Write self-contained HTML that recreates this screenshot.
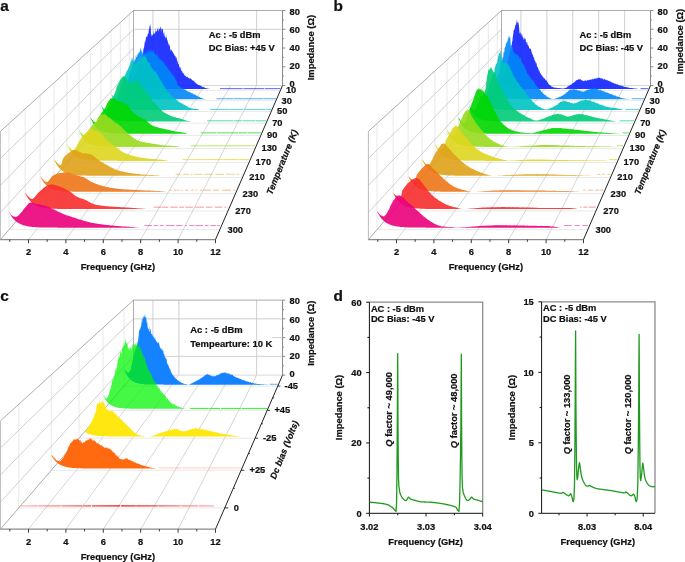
<!DOCTYPE html>
<html><head><meta charset="utf-8"><style>
html,body{margin:0;padding:0;background:#fff;overflow:hidden;}
svg{display:block;will-change:transform;}
text{font-family:"Liberation Sans",sans-serif;fill:#111;stroke:#111;stroke-width:0.22px;}
</style></head><body>
<svg width="685" height="562" viewBox="0 0 685 562">
<rect width="685" height="562" fill="#fff"/>
<line x1="129.25" y1="90.42" x2="280.40" y2="90.42" stroke="#e9e9e9" stroke-width="1.0" />
<line x1="120.37" y1="100.70" x2="275.93" y2="100.70" stroke="#e9e9e9" stroke-width="1.0" />
<line x1="110.97" y1="111.59" x2="271.19" y2="111.59" stroke="#e9e9e9" stroke-width="1.0" />
<line x1="100.98" y1="123.15" x2="266.15" y2="123.15" stroke="#e9e9e9" stroke-width="1.0" />
<line x1="90.35" y1="135.45" x2="260.80" y2="135.45" stroke="#e9e9e9" stroke-width="1.0" />
<line x1="79.03" y1="148.57" x2="255.09" y2="148.57" stroke="#e9e9e9" stroke-width="1.0" />
<line x1="66.93" y1="162.58" x2="249.00" y2="162.58" stroke="#e9e9e9" stroke-width="1.0" />
<line x1="53.97" y1="177.57" x2="242.47" y2="177.57" stroke="#e9e9e9" stroke-width="1.0" />
<line x1="40.07" y1="193.67" x2="235.47" y2="193.67" stroke="#e9e9e9" stroke-width="1.0" />
<line x1="25.12" y1="210.99" x2="227.93" y2="210.99" stroke="#e9e9e9" stroke-width="1.0" />
<line x1="8.98" y1="229.67" x2="219.80" y2="229.67" stroke="#e9e9e9" stroke-width="1.0" />
<line x1="129.25" y1="90.42" x2="129.25" y2="14.36" stroke="#e9e9e9" stroke-width="1.0" />
<line x1="120.37" y1="100.70" x2="120.37" y2="22.42" stroke="#e9e9e9" stroke-width="1.0" />
<line x1="110.97" y1="111.59" x2="110.97" y2="30.96" stroke="#e9e9e9" stroke-width="1.0" />
<line x1="100.98" y1="123.15" x2="100.98" y2="40.03" stroke="#e9e9e9" stroke-width="1.0" />
<line x1="90.35" y1="135.45" x2="90.35" y2="49.68" stroke="#e9e9e9" stroke-width="1.0" />
<line x1="79.03" y1="148.57" x2="79.03" y2="59.97" stroke="#e9e9e9" stroke-width="1.0" />
<line x1="66.93" y1="162.58" x2="66.93" y2="70.96" stroke="#e9e9e9" stroke-width="1.0" />
<line x1="53.97" y1="177.57" x2="53.97" y2="82.72" stroke="#e9e9e9" stroke-width="1.0" />
<line x1="40.07" y1="193.67" x2="40.07" y2="95.34" stroke="#e9e9e9" stroke-width="1.0" />
<line x1="25.12" y1="210.99" x2="25.12" y2="108.93" stroke="#e9e9e9" stroke-width="1.0" />
<line x1="8.98" y1="229.67" x2="8.98" y2="123.58" stroke="#e9e9e9" stroke-width="1.0" />
<line x1="152.94" y1="85.50" x2="28.47" y2="239.58" stroke="#c4c4c4" stroke-width="0.7" />
<line x1="178.86" y1="85.50" x2="65.88" y2="239.58" stroke="#c4c4c4" stroke-width="0.7" />
<line x1="204.78" y1="85.50" x2="103.28" y2="239.58" stroke="#c4c4c4" stroke-width="0.7" />
<line x1="230.70" y1="85.50" x2="140.68" y2="239.58" stroke="#c4c4c4" stroke-width="0.7" />
<line x1="256.62" y1="85.50" x2="178.08" y2="239.58" stroke="#c4c4c4" stroke-width="0.7" />
<line x1="133.50" y1="66.75" x2="0.42" y2="212.52" stroke="#c4c4c4" stroke-width="0.8" />
<line x1="133.50" y1="48.00" x2="0.42" y2="185.46" stroke="#c4c4c4" stroke-width="0.8" />
<line x1="133.50" y1="29.25" x2="0.42" y2="158.41" stroke="#c4c4c4" stroke-width="0.8" />
<line x1="152.94" y1="85.50" x2="152.94" y2="10.50" stroke="#c4c4c4" stroke-width="0.8" />
<line x1="178.86" y1="85.50" x2="178.86" y2="10.50" stroke="#c4c4c4" stroke-width="0.8" />
<line x1="256.62" y1="85.50" x2="256.62" y2="10.50" stroke="#c4c4c4" stroke-width="0.8" />
<line x1="133.50" y1="29.25" x2="282.54" y2="29.25" stroke="#c4c4c4" stroke-width="0.8" />
<line x1="133.50" y1="85.50" x2="282.54" y2="85.50" stroke="#d4d4d4" stroke-width="0.9" />
<line x1="133.50" y1="10.50" x2="0.42" y2="131.35" stroke="#a4a4a4" stroke-width="0.9" />
<line x1="133.50" y1="10.50" x2="282.54" y2="10.50" stroke="#a4a4a4" stroke-width="0.9" />
<line x1="133.50" y1="85.50" x2="133.50" y2="10.50" stroke="#a4a4a4" stroke-width="0.9" />
<line x1="0.42" y1="239.58" x2="0.42" y2="131.35" stroke="#b4b4b4" stroke-width="0.9" />
<line x1="133.50" y1="85.50" x2="0.42" y2="239.58" stroke="#a4a4a4" stroke-width="0.9" />
<path d="M129.2,73.3 L129.4,73.6 L129.5,73.5 L129.7,74.3 L129.9,73.3 L130.1,73.6 L130.3,74.2 L130.6,75.3 L130.8,75.1 L131.1,75.7 L131.4,76.0 L131.6,75.0 L131.9,75.1 L132.2,77.0 L132.5,76.0 L132.7,76.7 L133.0,77.3 L133.3,77.5 L133.6,77.0 L133.8,77.4 L134.1,77.0 L134.3,77.0 L134.5,77.6 L134.8,76.4 L135.1,75.5 L135.3,75.1 L135.6,75.4 L135.8,75.5 L136.1,74.9 L136.3,74.2 L136.6,71.8 L136.8,72.5 L137.0,71.6 L137.3,69.4 L137.5,70.1 L137.7,68.8 L138.0,68.3 L138.2,68.2 L138.4,66.5 L138.7,65.0 L139.0,66.2 L139.2,65.4 L139.5,64.3 L139.8,64.3 L140.0,62.8 L140.3,60.9 L140.6,60.9 L140.8,60.6 L141.1,58.7 L141.4,60.3 L141.6,58.5 L141.8,58.5 L142.0,57.2 L142.2,57.9 L142.4,55.2 L142.8,55.8 L143.1,54.1 L143.3,50.2 L143.5,47.9 L143.7,49.1 L143.9,47.6 L144.2,46.7 L144.4,45.1 L144.7,42.1 L145.0,42.5 L145.2,42.0 L145.4,40.2 L145.6,40.7 L145.9,38.0 L146.1,36.2 L146.4,36.0 L146.6,37.2 L146.9,37.3 L147.2,36.3 L147.4,37.0 L147.6,33.2 L147.9,34.7 L148.1,33.8 L148.4,33.7 L148.7,31.2 L148.9,29.3 L149.2,29.5 L149.4,25.1 L149.7,25.9 L149.9,27.9 L150.1,26.0 L150.3,22.8 L150.6,26.9 L150.8,28.5 L151.0,33.6 L151.3,34.2 L151.6,35.8 L151.8,36.2 L152.0,36.1 L152.1,35.0 L152.3,35.0 L152.6,34.9 L152.8,35.9 L153.0,34.2 L153.3,30.0 L153.6,33.4 L153.9,34.3 L154.2,34.1 L154.4,31.9 L154.6,33.8 L154.8,33.6 L155.1,33.4 L155.3,31.8 L155.6,27.7 L155.8,31.4 L156.1,31.4 L156.4,31.4 L156.7,30.9 L156.9,31.1 L157.2,29.2 L157.5,27.7 L157.7,29.2 L158.0,30.9 L158.3,29.3 L158.5,27.2 L158.7,31.8 L158.9,31.4 L159.1,29.2 L159.3,28.7 L159.5,28.9 L160.0,29.1 L160.2,27.0 L160.3,29.5 L160.4,27.3 L160.8,26.3 L161.0,30.4 L161.2,27.7 L161.4,29.0 L161.6,28.0 L161.9,32.9 L162.1,28.4 L162.4,30.0 L162.7,28.7 L163.0,28.9 L163.2,34.0 L163.5,32.2 L163.8,35.2 L164.0,33.4 L164.3,31.4 L164.5,36.1 L164.7,35.8 L165.0,37.2 L165.3,37.3 L165.5,37.7 L165.8,38.5 L166.0,33.9 L166.2,35.3 L166.5,38.5 L166.7,37.3 L166.9,38.1 L167.1,39.7 L167.4,40.7 L167.6,40.1 L167.8,41.3 L168.0,43.3 L168.3,43.6 L168.5,43.0 L168.7,43.8 L168.9,46.2 L169.2,45.3 L169.4,44.5 L169.7,45.2 L170.0,47.1 L170.2,49.6 L170.4,49.0 L170.7,50.3 L170.9,50.7 L171.1,50.7 L171.4,50.3 L171.6,49.3 L171.9,50.3 L172.1,52.0 L172.4,50.7 L172.7,51.9 L172.9,52.3 L173.2,53.5 L173.4,53.3 L173.7,54.1 L173.9,53.0 L174.2,54.5 L174.4,55.1 L174.7,55.5 L174.9,56.0 L175.2,55.8 L175.4,56.2 L175.7,56.4 L175.9,58.5 L176.2,57.5 L176.4,57.3 L176.6,57.8 L176.9,59.6 L177.1,61.9 L177.4,60.2 L177.6,60.8 L177.9,63.5 L178.1,63.6 L178.4,64.2 L178.6,63.5 L178.9,64.5 L179.1,66.0 L179.4,66.7 L179.6,67.3 L179.9,67.9 L180.1,66.9 L180.3,67.0 L180.6,69.4 L180.8,68.7 L181.1,68.6 L181.3,71.0 L181.6,70.7 L181.8,71.4 L182.1,70.5 L182.3,71.2 L182.5,73.1 L182.7,73.3 L183.0,72.3 L183.2,73.3 L183.4,73.8 L183.6,73.4 L183.9,73.8 L184.1,73.6 L184.3,75.2 L184.6,75.7 L184.9,75.1 L185.1,76.2 L185.4,75.9 L185.8,75.5 L186.0,76.6 L186.2,76.4 L186.4,77.1 L186.6,77.3 L186.8,76.8 L187.1,76.4 L187.3,76.3 L187.6,77.9 L187.8,76.7 L188.1,77.7 L188.3,78.1 L188.6,78.1 L188.8,78.0 L189.1,78.5 L189.4,78.8 L189.6,77.8 L189.9,78.3 L190.1,78.6 L190.4,78.5 L190.7,78.1 L190.9,79.5 L191.2,78.8 L191.4,78.9 L191.7,79.8 L191.9,79.7 L192.1,79.9 L192.3,80.4 L192.6,80.3 L192.9,80.8 L193.1,79.9 L193.3,81.1 L193.6,80.8 L193.8,81.1 L194.0,80.6 L194.2,81.1 L194.5,81.9 L194.7,82.1 L194.9,82.5 L195.1,82.7 L195.3,82.7 L195.5,82.1 L195.8,83.3 L196.0,83.4 L196.2,83.2 L196.5,83.7 L196.8,84.0 L197.0,83.4 L197.3,84.4 L197.6,84.2 L197.8,84.5 L198.0,84.7 L198.2,84.9 L198.4,85.0 L198.7,85.0 L198.9,84.8 L199.1,85.2 L199.4,85.0 L199.6,85.0 L199.9,85.8 L200.1,85.3 L200.4,85.7 L200.6,86.0 L200.9,86.1 L201.1,85.8 L201.4,86.4 L201.7,86.7 L201.9,86.1 L202.2,86.9 L202.4,87.0 L202.7,86.7 L202.9,87.2 L203.2,87.3 L203.4,87.1 L203.7,87.0 L203.9,87.6 L204.2,87.2 L204.4,87.6 L204.6,87.7 L204.9,87.8 L205.1,88.1 L205.3,88.2 L205.5,88.0 L205.8,88.1 L206.1,88.2 L206.4,88.3 L206.7,88.4 L207.0,88.5 L207.2,88.5 L207.5,88.6 L207.8,88.6 L208.1,88.7 L208.3,88.7 L208.6,88.8 L208.9,88.8 L209.1,88.8 L209.3,88.8 L209.5,88.9 L209.8,88.9 L210.0,88.9 L210.1,88.9 L210.3,88.9 L210.5,89.0 L210.6,89.0 L210.7,89.0 L210.7,89.0 L210.7,89.0 L210.2,89.0 L209.7,89.0 L209.2,89.0 L208.6,89.0 L208.1,89.0 L207.6,89.0 L207.1,89.0 L206.5,89.0 L206.0,89.0 L205.5,89.0 L205.0,89.0 L204.4,89.0 L203.9,89.0 L203.4,89.0 L202.9,89.0 L202.3,89.0 L201.8,89.0 L201.3,89.0 L200.7,89.0 L200.2,89.0 L199.7,89.0 L199.2,89.0 L198.6,89.0 L198.1,89.0 L197.6,89.0 L197.1,89.0 L196.5,89.0 L196.0,89.0 L195.5,89.0 L195.0,89.0 L194.4,89.0 L193.9,89.0 L193.4,89.0 L192.9,89.0 L192.3,89.0 L191.8,89.0 L191.3,89.0 L190.8,89.0 L190.2,89.0 L189.7,89.0 L189.2,89.0 L188.7,89.0 L188.1,89.0 L187.6,89.0 L187.1,89.0 L186.6,89.0 L186.0,89.0 L185.5,89.0 L185.0,89.0 L184.5,89.0 L183.9,89.0 L183.4,89.0 L182.9,89.0 L182.3,89.0 L181.8,89.0 L181.3,89.0 L180.8,89.0 L180.2,89.0 L179.7,89.0 L179.2,89.0 L178.7,89.0 L178.1,89.0 L177.6,89.0 L177.1,89.0 L176.6,89.0 L176.0,89.0 L175.5,89.0 L175.0,89.0 L174.5,89.0 L173.9,89.0 L173.4,89.0 L172.9,89.0 L172.4,89.0 L171.8,89.0 L171.3,89.0 L170.8,89.0 L170.3,89.0 L169.7,89.0 L169.2,89.0 L168.7,89.0 L168.2,89.0 L167.6,89.0 L167.1,89.0 L166.6,89.0 L166.1,89.0 L165.5,89.0 L165.0,89.0 L164.5,89.0 L163.9,89.0 L163.4,89.0 L162.9,89.0 L162.4,89.0 L161.8,89.0 L161.3,88.9 L160.8,88.9 L160.3,88.9 L159.7,88.9 L159.2,88.9 L158.7,88.9 L158.2,88.9 L157.6,88.9 L157.1,88.9 L156.6,88.9 L156.1,88.9 L155.5,88.9 L155.0,88.8 L154.5,88.8 L154.0,88.8 L153.4,88.8 L152.9,88.8 L152.4,88.8 L151.9,88.7 L151.3,88.7 L150.8,88.7 L150.3,88.6 L149.8,88.6 L149.2,88.6 L148.7,88.5 L148.2,88.5 L147.6,88.4 L147.1,88.4 L146.6,88.3 L146.1,88.3 L145.5,88.2 L145.0,88.1 L144.5,88.0 L144.0,87.9 L143.4,87.8 L142.9,87.7 L142.4,87.5 L141.9,87.4 L141.3,87.2 L140.8,87.1 L140.3,86.9 L139.8,86.7 L139.2,86.4 L138.7,86.2 L138.2,85.9 L137.7,85.6 L137.1,85.2 L136.6,84.9 L136.1,84.4 L135.6,84.0 L135.0,83.5 L134.5,82.9 L134.0,82.3 L133.5,81.7 L132.9,80.9 L132.4,80.1 L131.9,79.3 L131.4,78.3 L130.8,77.2 L130.3,76.0 L129.8,74.7 L129.2,73.3 Z" fill="#0f23ff" fill-opacity="0.9"/>
<path d="M219.94,88.62 L280.40,88.62" stroke="#0f23ff" stroke-width="0.9" stroke-opacity="0.75" fill="none" stroke-dasharray="22.7 0.7 20.8 0.6 26.1 0.4 14.2 0.7 11.4 0.7 15.9 0.8 14.0 0.8 28.5 0.5 13.7 0.3 14.2 0.5 19.5 0.9 14.5 0.7 15.8 0.5 13.1 0.8 29.3 0.4 23.8 0.7"/>
<path d="M120.4,83.3 L120.5,83.2 L120.7,82.4 L120.8,83.7 L121.0,83.9 L121.3,84.0 L121.5,84.9 L121.7,84.7 L122.0,84.8 L122.3,84.7 L122.5,86.2 L122.8,86.3 L123.1,86.8 L123.4,85.9 L123.7,86.4 L124.0,87.5 L124.3,86.2 L124.5,86.3 L124.8,87.1 L125.1,87.2 L125.3,87.8 L125.6,87.8 L125.8,87.0 L126.1,87.2 L126.3,86.7 L126.6,86.0 L126.9,85.5 L127.1,84.2 L127.3,83.4 L127.6,81.5 L127.8,81.4 L128.0,80.1 L128.3,79.4 L128.5,77.9 L128.8,77.4 L129.0,76.8 L129.3,73.5 L129.6,72.5 L129.8,72.2 L130.1,72.1 L130.3,72.6 L130.5,72.1 L130.8,71.3 L131.0,71.0 L131.3,68.2 L131.6,68.8 L131.8,66.3 L132.1,67.4 L132.4,64.2 L132.6,64.0 L132.9,66.0 L133.2,65.1 L133.4,61.5 L133.7,62.9 L133.9,59.7 L134.2,61.9 L134.4,62.1 L134.6,59.7 L134.9,58.4 L135.1,60.1 L135.3,60.1 L135.6,58.7 L135.9,54.7 L136.2,55.4 L136.4,57.6 L136.7,56.9 L136.9,56.9 L137.1,56.7 L137.3,53.3 L137.5,55.9 L137.7,54.0 L138.0,54.2 L138.2,54.7 L138.5,51.8 L138.7,54.0 L138.9,51.4 L139.2,53.1 L139.4,51.7 L139.7,52.1 L139.9,51.6 L140.2,47.3 L140.4,48.3 L140.7,51.0 L140.9,47.7 L141.1,51.5 L141.3,51.1 L141.5,48.7 L141.7,50.5 L142.0,53.2 L142.2,49.1 L142.4,53.7 L142.7,53.9 L143.0,51.6 L143.4,54.0 L143.6,54.2 L143.8,54.8 L144.0,54.8 L144.2,52.9 L144.4,54.3 L144.7,52.7 L144.9,53.8 L145.2,53.4 L145.5,50.3 L145.7,53.1 L146.0,52.5 L146.3,50.6 L146.5,54.0 L146.8,53.9 L147.1,50.1 L147.3,50.6 L147.6,53.4 L147.8,53.5 L148.1,50.9 L148.3,49.4 L148.6,53.3 L148.8,49.2 L149.1,49.6 L149.3,51.3 L149.6,52.1 L149.8,53.0 L150.1,52.9 L150.3,48.3 L150.5,52.2 L150.7,49.8 L150.9,51.9 L151.2,48.8 L151.4,50.2 L151.7,51.6 L151.9,52.0 L152.2,49.5 L152.5,52.4 L152.8,52.2 L153.0,50.9 L153.3,49.2 L153.5,50.9 L153.7,52.7 L153.9,49.4 L154.2,53.4 L154.4,54.0 L154.7,53.7 L154.9,53.3 L155.2,54.8 L155.5,54.9 L155.7,54.6 L156.0,54.0 L156.3,56.0 L156.5,55.6 L156.8,53.2 L157.1,52.9 L157.3,55.3 L157.6,55.5 L157.9,56.4 L158.1,58.3 L158.4,58.8 L158.6,59.1 L158.9,55.9 L159.1,57.4 L159.4,56.1 L159.6,60.3 L159.9,58.6 L160.1,59.6 L160.4,58.8 L160.7,60.9 L160.9,57.8 L161.2,62.0 L161.5,60.9 L161.7,60.3 L162.0,59.7 L162.2,60.9 L162.5,61.3 L162.7,61.1 L163.0,60.8 L163.2,63.6 L163.4,62.5 L163.7,61.7 L163.9,62.1 L164.1,64.4 L164.4,63.1 L164.6,63.0 L164.8,64.6 L165.0,64.7 L165.3,65.9 L165.6,65.5 L165.8,65.7 L166.1,67.5 L166.3,66.2 L166.6,64.8 L166.8,65.7 L167.0,66.7 L167.3,68.2 L167.5,67.2 L167.7,68.1 L168.0,68.9 L168.2,67.7 L168.5,70.4 L168.8,68.8 L169.1,71.1 L169.3,70.1 L169.5,70.8 L169.7,71.7 L170.0,70.6 L170.2,71.6 L170.5,71.6 L170.7,70.7 L171.0,73.2 L171.3,73.9 L171.5,73.8 L171.8,73.1 L172.0,74.7 L172.3,75.1 L172.6,73.3 L172.8,74.5 L173.1,75.6 L173.3,74.4 L173.6,76.5 L173.8,76.0 L174.0,77.5 L174.3,77.4 L174.5,76.6 L174.8,76.7 L175.0,77.4 L175.3,79.3 L175.5,79.4 L175.8,80.5 L176.0,81.3 L176.2,81.2 L176.4,80.9 L176.6,81.4 L176.9,82.3 L177.1,82.2 L177.4,84.2 L177.6,84.8 L177.9,84.9 L178.2,85.6 L178.5,86.0 L178.7,86.0 L178.9,85.8 L179.2,86.3 L179.4,86.7 L179.6,85.9 L179.8,85.8 L180.0,87.1 L180.3,87.6 L180.5,87.8 L180.7,86.7 L181.0,88.1 L181.2,87.4 L181.5,87.8 L181.7,88.3 L182.0,87.6 L182.2,88.8 L182.5,88.9 L182.7,88.6 L183.0,89.2 L183.3,88.2 L183.6,89.3 L183.8,89.5 L184.1,89.7 L184.4,89.2 L184.7,89.6 L185.0,89.5 L185.3,89.7 L185.5,89.5 L185.7,89.4 L186.0,90.0 L186.2,90.7 L186.4,90.6 L186.7,91.0 L186.9,91.2 L187.1,91.0 L187.4,90.7 L187.6,91.5 L187.9,91.6 L188.1,91.6 L188.4,91.3 L188.6,91.7 L188.9,91.7 L189.2,91.7 L189.4,92.3 L189.7,91.9 L190.0,91.8 L190.2,92.9 L190.5,92.1 L190.7,92.5 L191.0,93.3 L191.3,93.2 L191.5,93.1 L191.8,92.8 L192.0,93.6 L192.3,93.6 L192.6,93.3 L192.8,93.5 L193.1,93.5 L193.3,94.2 L193.6,94.1 L193.8,94.6 L194.1,94.3 L194.3,94.3 L194.5,94.6 L194.8,94.6 L195.0,95.2 L195.3,94.7 L195.6,94.7 L195.8,94.9 L196.1,95.5 L196.4,95.4 L196.7,95.9 L196.9,95.5 L197.2,95.7 L197.5,96.3 L197.7,96.5 L198.0,96.5 L198.3,96.5 L198.5,96.4 L198.8,96.8 L199.0,97.2 L199.3,96.8 L199.5,97.4 L199.8,97.0 L200.0,97.6 L200.3,97.6 L200.5,97.4 L200.8,97.9 L201.0,98.0 L201.2,97.9 L201.5,97.8 L201.7,97.8 L201.9,98.1 L202.1,97.9 L202.3,98.3 L202.5,98.4 L202.7,98.5 L202.9,98.5 L203.3,98.7 L203.6,98.8 L204.0,98.9 L204.3,98.9 L204.6,99.0 L204.9,99.1 L205.2,99.1 L205.4,99.1 L205.7,99.1 L205.9,99.2 L206.1,99.2 L206.3,99.2 L206.5,99.2 L206.7,99.2 L206.8,99.2 L206.9,99.2 L206.9,99.2 L206.9,99.2 L206.4,99.2 L205.9,99.2 L205.3,99.2 L204.8,99.2 L204.2,99.2 L203.7,99.2 L203.2,99.2 L202.6,99.2 L202.1,99.2 L201.5,99.2 L201.0,99.2 L200.5,99.2 L199.9,99.2 L199.4,99.2 L198.8,99.2 L198.3,99.2 L197.7,99.2 L197.2,99.2 L196.7,99.2 L196.1,99.2 L195.6,99.2 L195.0,99.2 L194.5,99.2 L194.0,99.2 L193.4,99.2 L192.9,99.2 L192.3,99.2 L191.8,99.2 L191.3,99.2 L190.7,99.2 L190.2,99.2 L189.6,99.2 L189.1,99.2 L188.5,99.2 L188.0,99.2 L187.5,99.2 L186.9,99.2 L186.4,99.2 L185.8,99.2 L185.3,99.2 L184.8,99.2 L184.2,99.2 L183.7,99.2 L183.1,99.2 L182.6,99.2 L182.1,99.2 L181.5,99.2 L181.0,99.2 L180.4,99.2 L179.9,99.2 L179.3,99.2 L178.8,99.2 L178.3,99.2 L177.7,99.2 L177.2,99.2 L176.6,99.2 L176.1,99.2 L175.6,99.2 L175.0,99.2 L174.5,99.2 L173.9,99.2 L173.4,99.2 L172.9,99.2 L172.3,99.2 L171.8,99.2 L171.2,99.2 L170.7,99.2 L170.2,99.2 L169.6,99.2 L169.1,99.2 L168.5,99.2 L168.0,99.2 L167.4,99.2 L166.9,99.2 L166.4,99.2 L165.8,99.2 L165.3,99.2 L164.7,99.2 L164.2,99.2 L163.7,99.2 L163.1,99.2 L162.6,99.2 L162.0,99.2 L161.5,99.2 L161.0,99.2 L160.4,99.2 L159.9,99.2 L159.3,99.2 L158.8,99.2 L158.2,99.2 L157.7,99.2 L157.2,99.2 L156.6,99.2 L156.1,99.2 L155.5,99.2 L155.0,99.2 L154.5,99.2 L153.9,99.2 L153.4,99.2 L152.8,99.2 L152.3,99.2 L151.8,99.2 L151.2,99.2 L150.7,99.2 L150.1,99.1 L149.6,99.1 L149.1,99.1 L148.5,99.1 L148.0,99.1 L147.4,99.1 L146.9,99.1 L146.3,99.1 L145.8,99.0 L145.3,99.0 L144.7,99.0 L144.2,99.0 L143.6,99.0 L143.1,98.9 L142.6,98.9 L142.0,98.9 L141.5,98.8 L140.9,98.8 L140.4,98.8 L139.9,98.7 L139.3,98.7 L138.8,98.6 L138.2,98.5 L137.7,98.5 L137.1,98.4 L136.6,98.3 L136.1,98.2 L135.5,98.1 L135.0,98.0 L134.4,97.9 L133.9,97.7 L133.4,97.6 L132.8,97.4 L132.3,97.2 L131.7,97.0 L131.2,96.8 L130.7,96.6 L130.1,96.3 L129.6,96.0 L129.0,95.7 L128.5,95.4 L127.9,95.0 L127.4,94.5 L126.9,94.1 L126.3,93.6 L125.8,93.0 L125.2,92.4 L124.7,91.7 L124.2,90.9 L123.6,90.1 L123.1,89.2 L122.5,88.2 L122.0,87.1 L121.5,85.9 L120.9,84.6 L120.4,83.1 Z" fill="#0087f7" fill-opacity="0.9"/>
<path d="M216.41,98.72 L275.93,98.72" stroke="#0087f7" stroke-width="0.9" stroke-opacity="0.75" fill="none" stroke-dasharray="16.9 0.7 29.3 0.3 22.9 0.9 14.3 0.4 19.0 0.3 13.6 0.8 22.5 0.7 17.1 0.5 8.3 0.5 23.2 0.3 26.0 0.9 21.0 0.6 19.2 0.9 29.7 0.6 17.4 0.9"/>
<path d="M111.0,93.8 L111.1,93.6 L111.3,93.8 L111.5,94.7 L111.7,95.1 L111.9,95.0 L112.1,95.5 L112.4,95.0 L112.6,95.6 L112.9,96.1 L113.2,96.5 L113.5,96.7 L113.8,97.7 L114.1,97.7 L114.4,98.3 L114.7,97.5 L115.0,98.8 L115.3,98.1 L115.5,99.1 L115.8,98.5 L116.1,99.0 L116.3,98.8 L116.5,98.0 L116.8,98.6 L117.1,98.2 L117.4,96.4 L117.7,96.5 L118.0,96.1 L118.2,93.9 L118.5,93.0 L118.7,93.4 L119.0,92.1 L119.2,91.5 L119.5,90.3 L119.7,88.7 L120.0,88.6 L120.2,86.6 L120.5,86.9 L120.7,86.1 L121.0,83.9 L121.2,84.3 L121.5,83.6 L121.8,82.5 L122.0,82.2 L122.3,81.7 L122.5,81.7 L122.8,79.5 L123.1,78.0 L123.3,77.3 L123.6,77.9 L123.9,78.2 L124.1,77.6 L124.4,76.0 L124.6,75.5 L124.9,76.3 L125.2,75.5 L125.4,74.7 L125.7,73.6 L126.0,71.9 L126.3,72.5 L126.5,72.9 L126.8,70.1 L127.1,71.0 L127.3,70.1 L127.6,70.4 L127.9,69.3 L128.1,68.9 L128.4,66.9 L128.6,68.5 L128.9,66.7 L129.1,67.4 L129.4,64.8 L129.7,66.0 L129.9,64.7 L130.2,63.7 L130.4,61.7 L130.7,62.7 L130.9,60.9 L131.1,61.1 L131.4,60.4 L131.6,59.3 L131.9,56.5 L132.1,59.1 L132.3,56.7 L132.6,60.7 L132.8,57.9 L133.0,61.2 L133.2,62.3 L133.4,60.8 L133.7,60.5 L134.0,64.2 L134.3,64.1 L134.7,62.2 L134.8,63.9 L135.1,64.2 L135.3,64.5 L135.5,64.3 L135.8,62.5 L136.0,60.3 L136.3,60.0 L136.5,62.4 L136.8,63.4 L137.1,62.5 L137.4,60.3 L137.6,59.7 L137.9,60.5 L138.2,61.8 L138.5,60.4 L138.7,60.4 L139.0,59.5 L139.3,60.6 L139.5,57.2 L139.8,57.3 L140.0,60.3 L140.2,59.8 L140.5,56.8 L140.8,59.3 L141.1,55.8 L141.3,57.8 L141.5,56.6 L141.8,56.3 L142.0,58.0 L142.2,57.5 L142.5,57.4 L142.7,55.3 L142.9,55.1 L143.2,57.3 L143.5,53.9 L143.8,56.4 L144.1,57.1 L144.4,56.7 L144.6,53.8 L144.8,56.5 L145.1,56.4 L145.3,55.0 L145.5,55.1 L145.8,56.7 L146.0,58.7 L146.3,58.4 L146.6,57.2 L146.8,58.3 L147.1,59.8 L147.4,61.2 L147.7,61.6 L147.9,60.5 L148.2,61.9 L148.5,63.9 L148.8,62.2 L149.0,61.7 L149.3,62.8 L149.6,62.8 L149.9,63.2 L150.1,65.4 L150.4,64.7 L150.6,66.8 L150.9,67.9 L151.1,67.7 L151.4,68.1 L151.7,65.9 L151.9,67.5 L152.2,68.4 L152.5,68.4 L152.7,70.1 L153.0,69.3 L153.2,68.9 L153.4,70.2 L153.7,70.8 L153.9,70.6 L154.2,71.1 L154.4,70.1 L154.6,71.9 L154.9,72.2 L155.1,72.0 L155.4,71.0 L155.6,71.0 L155.9,71.7 L156.1,70.9 L156.4,73.4 L156.7,74.3 L156.9,73.8 L157.2,74.3 L157.4,75.3 L157.7,74.3 L157.9,75.7 L158.2,76.4 L158.4,76.7 L158.7,75.0 L158.9,78.0 L159.2,78.0 L159.5,78.7 L159.8,79.3 L160.0,79.3 L160.3,80.3 L160.6,78.8 L160.8,80.7 L161.1,80.6 L161.4,82.4 L161.6,82.3 L161.9,82.4 L162.2,82.2 L162.4,84.2 L162.7,84.2 L162.9,83.6 L163.2,84.1 L163.4,85.9 L163.7,85.7 L163.9,85.5 L164.2,86.9 L164.5,86.6 L164.7,87.1 L165.0,86.6 L165.2,88.1 L165.5,88.2 L165.7,89.2 L166.0,88.8 L166.2,89.9 L166.5,89.9 L166.7,90.5 L166.9,90.9 L167.2,91.4 L167.4,91.6 L167.7,91.4 L167.9,92.1 L168.1,92.6 L168.4,91.7 L168.7,92.9 L168.9,92.0 L169.2,93.0 L169.5,93.7 L169.7,93.0 L169.9,93.2 L170.2,94.5 L170.4,95.0 L170.6,94.5 L170.9,94.4 L171.1,95.1 L171.4,95.0 L171.6,95.8 L171.8,95.8 L172.1,96.5 L172.3,96.5 L172.6,96.8 L172.8,97.0 L173.1,97.2 L173.3,96.8 L173.6,97.9 L173.9,98.1 L174.1,98.3 L174.4,97.5 L174.7,98.4 L175.0,99.1 L175.3,98.4 L175.5,98.6 L175.8,98.9 L176.1,99.8 L176.4,99.5 L176.7,100.2 L176.9,100.5 L177.1,99.8 L177.4,100.1 L177.6,101.0 L177.9,100.3 L178.1,101.4 L178.4,101.4 L178.7,101.7 L178.9,101.8 L179.2,102.0 L179.5,101.7 L179.7,102.3 L180.0,102.5 L180.3,102.7 L180.6,102.8 L180.9,102.4 L181.1,102.9 L181.4,103.4 L181.7,103.1 L182.0,103.5 L182.2,103.7 L182.5,103.8 L182.8,103.8 L183.1,103.8 L183.3,104.3 L183.6,104.4 L183.9,104.7 L184.1,104.7 L184.4,105.0 L184.6,105.1 L184.9,105.2 L185.1,105.2 L185.3,105.6 L185.6,105.2 L185.8,105.7 L186.0,105.5 L186.2,105.8 L186.5,105.8 L186.9,106.2 L187.2,106.6 L187.5,106.7 L187.8,106.8 L188.0,106.8 L188.3,106.8 L188.5,107.4 L188.8,107.6 L189.0,107.7 L189.2,107.8 L189.5,107.9 L189.7,108.0 L189.9,108.0 L190.1,108.1 L190.4,107.9 L190.6,108.0 L190.8,107.9 L191.0,107.9 L191.3,108.2 L191.5,108.1 L191.8,108.7 L192.0,108.7 L192.3,108.3 L192.6,108.7 L192.8,108.8 L193.1,108.6 L193.4,108.8 L193.7,108.8 L193.9,108.9 L194.2,109.0 L194.5,109.0 L194.8,108.8 L195.0,108.6 L195.3,108.6 L195.6,108.8 L195.8,108.7 L196.1,109.0 L196.3,109.1 L196.5,108.7 L196.8,108.9 L197.0,108.9 L197.2,109.2 L197.3,109.1 L197.8,109.2 L198.2,109.3 L198.5,109.5 L198.7,109.6 L199.0,109.8 L199.1,109.9 L199.3,110.0 L199.4,110.1 L199.4,110.1 L199.0,110.1 L198.5,110.1 L197.9,110.1 L197.3,110.1 L196.8,110.1 L196.2,110.1 L195.7,110.1 L195.1,110.1 L194.6,110.1 L194.0,110.1 L193.4,110.1 L192.9,110.1 L192.3,110.1 L191.8,110.1 L191.2,110.1 L190.7,110.1 L190.1,110.1 L189.5,110.1 L189.0,110.1 L188.4,110.1 L187.9,110.1 L187.3,110.1 L186.8,110.1 L186.2,110.1 L185.6,110.1 L185.1,110.1 L184.5,110.1 L184.0,110.1 L183.4,110.1 L182.9,110.1 L182.3,110.1 L181.7,110.1 L181.2,110.1 L180.6,110.1 L180.1,110.1 L179.5,110.1 L179.0,110.1 L178.4,110.1 L177.8,110.1 L177.3,110.1 L176.7,110.1 L176.2,110.1 L175.6,110.1 L175.1,110.1 L174.5,110.1 L173.9,110.1 L173.4,110.1 L172.8,110.1 L172.3,110.1 L171.7,110.1 L171.2,110.1 L170.6,110.1 L170.0,110.1 L169.5,110.1 L168.9,110.1 L168.4,110.1 L167.8,110.1 L167.3,110.1 L166.7,110.1 L166.1,110.1 L165.6,110.1 L165.0,110.1 L164.5,110.1 L163.9,110.1 L163.4,110.1 L162.8,110.1 L162.2,110.1 L161.7,110.1 L161.1,110.1 L160.6,110.1 L160.0,110.1 L159.5,110.1 L158.9,110.1 L158.3,110.1 L157.8,110.1 L157.2,110.1 L156.7,110.1 L156.1,110.1 L155.6,110.1 L155.0,110.1 L154.4,110.1 L153.9,110.1 L153.3,110.1 L152.8,110.1 L152.2,110.1 L151.6,110.1 L151.1,110.1 L150.5,110.1 L150.0,110.1 L149.4,110.1 L148.9,110.1 L148.3,110.0 L147.7,110.0 L147.2,110.0 L146.6,110.0 L146.1,110.0 L145.5,110.0 L145.0,110.0 L144.4,110.0 L143.8,110.0 L143.3,110.0 L142.7,110.0 L142.2,110.0 L141.6,110.0 L141.1,110.0 L140.5,110.0 L139.9,110.0 L139.4,109.9 L138.8,109.9 L138.3,109.9 L137.7,109.9 L137.2,109.9 L136.6,109.9 L136.0,109.8 L135.5,109.8 L134.9,109.8 L134.4,109.8 L133.8,109.7 L133.3,109.7 L132.7,109.7 L132.1,109.6 L131.6,109.6 L131.0,109.5 L130.5,109.5 L129.9,109.4 L129.4,109.4 L128.8,109.3 L128.2,109.2 L127.7,109.1 L127.1,109.0 L126.6,108.9 L126.0,108.8 L125.5,108.7 L124.9,108.6 L124.3,108.4 L123.8,108.2 L123.2,108.1 L122.7,107.9 L122.1,107.6 L121.6,107.4 L121.0,107.1 L120.4,106.8 L119.9,106.5 L119.3,106.1 L118.8,105.7 L118.2,105.3 L117.7,104.8 L117.1,104.3 L116.5,103.7 L116.0,103.1 L115.4,102.4 L114.9,101.6 L114.3,100.8 L113.8,99.9 L113.2,98.9 L112.6,97.7 L112.1,96.5 L111.5,95.1 L111.0,93.6 Z" fill="#00c3c3" fill-opacity="0.9"/>
<path d="M209.89,109.43 L271.19,109.43" stroke="#00c3c3" stroke-width="0.9" stroke-opacity="0.75" fill="none" stroke-dasharray="19.4 0.6 13.1 0.8 22.0 0.6 24.6 0.7 27.5 0.6 9.1 0.7 18.5 0.7 9.6 0.6 25.4 0.8 26.3 0.8 19.6 0.9 28.1 0.8 16.8 0.4 15.7 0.7 19.7 0.5"/>
<path d="M101.0,105.6 L101.1,105.2 L101.3,105.4 L101.5,105.4 L101.7,106.4 L101.9,106.7 L102.2,107.0 L102.4,107.3 L102.7,107.1 L103.0,108.0 L103.3,108.0 L103.6,108.6 L103.9,108.9 L104.2,109.1 L104.5,108.9 L104.8,109.5 L105.1,110.1 L105.4,110.2 L105.7,110.4 L106.0,109.8 L106.2,109.9 L106.5,109.9 L106.7,109.8 L107.0,109.7 L107.3,109.1 L107.6,108.9 L107.9,108.9 L108.2,107.6 L108.5,107.4 L108.8,106.3 L109.1,105.8 L109.3,105.2 L109.6,104.5 L109.8,103.7 L110.1,103.1 L110.3,102.5 L110.6,100.9 L110.8,100.4 L111.0,99.4 L111.3,99.4 L111.6,99.1 L111.9,98.3 L112.1,98.8 L112.4,97.7 L112.6,97.8 L112.8,97.7 L113.1,97.3 L113.3,96.4 L113.6,96.2 L113.9,95.3 L114.1,94.4 L114.4,94.3 L114.6,94.0 L114.8,92.8 L115.1,92.5 L115.4,91.8 L115.6,91.1 L115.9,90.1 L116.2,89.8 L116.4,88.0 L116.7,86.3 L117.0,87.1 L117.3,85.6 L117.6,84.2 L117.9,85.6 L118.2,84.9 L118.4,82.9 L118.7,82.3 L118.9,82.5 L119.2,83.0 L119.4,82.1 L119.7,80.3 L119.9,79.7 L120.2,79.5 L120.5,80.6 L120.7,78.4 L121.0,79.4 L121.3,78.0 L121.5,79.1 L121.8,76.3 L122.1,77.3 L122.4,76.6 L122.6,77.7 L122.9,76.4 L123.2,76.3 L123.4,76.1 L123.7,76.7 L124.0,75.5 L124.2,76.6 L124.5,76.8 L124.7,77.2 L125.0,76.1 L125.3,77.7 L125.5,77.8 L125.8,78.4 L126.0,77.5 L126.3,78.1 L126.6,78.6 L126.8,80.0 L127.1,79.7 L127.4,80.4 L127.6,81.2 L127.9,81.6 L128.1,79.5 L128.4,82.3 L128.7,82.3 L128.9,82.7 L129.2,82.2 L129.4,83.4 L129.7,82.8 L130.0,83.1 L130.2,81.9 L130.5,83.7 L130.8,83.3 L131.1,82.8 L131.4,81.3 L131.7,82.6 L132.0,82.6 L132.3,82.0 L132.6,82.8 L132.8,83.0 L133.1,82.0 L133.4,80.5 L133.7,81.0 L133.9,82.1 L134.2,80.8 L134.4,80.1 L134.7,81.6 L134.9,80.7 L135.1,81.2 L135.3,81.3 L135.5,81.2 L135.9,81.0 L136.1,80.3 L136.2,80.5 L136.4,79.9 L136.9,80.8 L137.1,79.4 L137.2,80.2 L137.5,81.5 L137.7,80.1 L137.9,81.9 L138.1,81.6 L138.4,81.7 L138.7,82.6 L138.9,83.0 L139.2,83.1 L139.5,84.0 L139.8,82.6 L140.1,84.8 L140.4,83.5 L140.7,85.4 L140.9,85.7 L141.2,85.9 L141.5,86.8 L141.8,87.1 L142.1,87.1 L142.4,87.3 L142.6,86.5 L142.9,86.5 L143.2,88.9 L143.4,88.5 L143.7,89.5 L144.0,88.4 L144.2,89.9 L144.5,88.9 L144.8,90.1 L145.1,91.2 L145.3,91.6 L145.6,91.7 L145.9,90.7 L146.1,92.5 L146.4,92.3 L146.7,92.8 L146.9,93.2 L147.2,92.6 L147.4,94.0 L147.7,93.5 L147.9,93.9 L148.1,93.6 L148.4,94.8 L148.7,94.4 L149.0,95.8 L149.2,96.0 L149.5,96.3 L149.7,96.2 L150.0,96.4 L150.2,98.1 L150.4,98.5 L150.7,98.4 L150.9,98.2 L151.2,99.1 L151.4,99.8 L151.7,99.1 L152.0,100.6 L152.3,101.2 L152.7,101.6 L152.9,101.9 L153.1,101.3 L153.4,102.4 L153.6,101.9 L153.9,101.9 L154.1,101.9 L154.4,102.6 L154.7,103.5 L155.0,103.5 L155.3,103.5 L155.5,104.0 L155.8,104.8 L156.1,104.5 L156.4,105.5 L156.7,105.7 L157.0,105.0 L157.3,106.1 L157.6,106.6 L157.9,106.2 L158.1,106.9 L158.4,107.5 L158.7,107.7 L158.9,107.9 L159.2,108.1 L159.4,107.5 L159.6,108.6 L159.9,108.1 L160.2,108.4 L160.5,109.3 L160.8,108.9 L161.1,109.5 L161.3,110.0 L161.6,110.5 L161.8,110.5 L162.0,110.2 L162.2,110.9 L162.5,111.3 L162.7,111.4 L163.0,111.5 L163.2,111.9 L163.5,111.9 L163.8,112.4 L164.2,112.1 L164.4,112.7 L164.6,112.9 L164.8,112.7 L165.1,113.1 L165.3,112.7 L165.6,113.2 L165.8,113.4 L166.0,113.2 L166.3,113.9 L166.6,113.6 L166.8,113.9 L167.1,114.2 L167.4,113.8 L167.6,114.6 L167.9,114.2 L168.2,114.9 L168.5,114.5 L168.8,115.2 L169.0,115.3 L169.3,115.2 L169.6,115.0 L169.9,115.6 L170.2,115.6 L170.5,115.7 L170.8,116.0 L171.1,116.0 L171.4,116.3 L171.6,116.2 L171.8,116.1 L172.1,116.5 L172.3,116.6 L172.6,116.8 L172.9,116.5 L173.1,116.8 L173.4,116.5 L173.6,116.7 L173.9,117.1 L174.2,116.7 L174.4,116.8 L174.7,117.0 L175.0,117.0 L175.3,117.2 L175.5,117.3 L175.8,117.4 L176.1,117.5 L176.3,117.7 L176.6,117.9 L176.9,117.6 L177.2,117.8 L177.4,118.1 L177.7,117.9 L178.0,118.0 L178.2,118.1 L178.5,118.0 L178.7,118.0 L179.0,118.4 L179.2,118.2 L179.5,118.5 L179.7,118.5 L180.0,118.6 L180.3,118.4 L180.6,118.8 L180.8,118.6 L181.1,119.0 L181.4,119.0 L181.7,118.9 L182.0,119.1 L182.3,119.4 L182.5,119.5 L182.8,119.5 L183.1,119.6 L183.3,119.5 L183.6,119.6 L183.9,119.6 L184.1,119.9 L184.4,120.0 L184.7,120.1 L184.9,120.0 L185.2,120.4 L185.4,120.4 L185.7,120.5 L185.9,120.5 L186.2,120.6 L186.4,120.6 L186.7,120.6 L186.9,120.7 L187.2,120.8 L187.5,120.8 L187.8,120.9 L188.1,121.0 L188.4,121.0 L188.7,121.1 L189.0,121.1 L189.3,121.2 L189.6,121.2 L189.9,121.2 L190.2,121.3 L190.5,121.3 L190.8,121.3 L191.0,121.4 L191.3,121.4 L191.5,121.4 L191.8,121.5 L192.0,121.5 L192.2,121.5 L192.4,121.5 L192.6,121.6 L192.8,121.6 L192.9,121.6 L192.9,121.6 L192.9,121.6 L192.3,121.6 L191.8,121.6 L191.2,121.6 L190.6,121.6 L190.0,121.6 L189.5,121.6 L188.9,121.6 L188.3,121.6 L187.7,121.6 L187.2,121.6 L186.6,121.6 L186.0,121.6 L185.4,121.6 L184.9,121.6 L184.3,121.6 L183.7,121.6 L183.1,121.6 L182.6,121.6 L182.0,121.6 L181.4,121.6 L180.8,121.6 L180.3,121.6 L179.7,121.6 L179.1,121.6 L178.5,121.6 L178.0,121.6 L177.4,121.6 L176.8,121.6 L176.2,121.6 L175.7,121.6 L175.1,121.6 L174.5,121.6 L173.9,121.6 L173.4,121.6 L172.8,121.6 L172.2,121.6 L171.6,121.6 L171.1,121.6 L170.5,121.6 L169.9,121.6 L169.3,121.6 L168.8,121.6 L168.2,121.6 L167.6,121.6 L167.0,121.6 L166.5,121.6 L165.9,121.6 L165.3,121.6 L164.8,121.6 L164.2,121.6 L163.6,121.6 L163.0,121.6 L162.5,121.6 L161.9,121.6 L161.3,121.6 L160.7,121.6 L160.2,121.6 L159.6,121.6 L159.0,121.6 L158.4,121.6 L157.9,121.6 L157.3,121.6 L156.7,121.6 L156.1,121.6 L155.6,121.6 L155.0,121.6 L154.4,121.6 L153.8,121.6 L153.3,121.6 L152.7,121.6 L152.1,121.6 L151.5,121.6 L151.0,121.6 L150.4,121.6 L149.8,121.6 L149.2,121.6 L148.7,121.6 L148.1,121.6 L147.5,121.6 L146.9,121.6 L146.4,121.6 L145.8,121.6 L145.2,121.6 L144.6,121.6 L144.1,121.6 L143.5,121.6 L142.9,121.6 L142.3,121.6 L141.8,121.6 L141.2,121.6 L140.6,121.6 L140.0,121.6 L139.5,121.6 L138.9,121.6 L138.3,121.6 L137.7,121.6 L137.2,121.6 L136.6,121.5 L136.0,121.5 L135.5,121.5 L134.9,121.5 L134.3,121.5 L133.7,121.5 L133.2,121.5 L132.6,121.5 L132.0,121.5 L131.4,121.5 L130.9,121.5 L130.3,121.5 L129.7,121.5 L129.1,121.4 L128.6,121.4 L128.0,121.4 L127.4,121.4 L126.8,121.4 L126.3,121.3 L125.7,121.3 L125.1,121.3 L124.5,121.3 L124.0,121.2 L123.4,121.2 L122.8,121.2 L122.2,121.1 L121.7,121.1 L121.1,121.0 L120.5,121.0 L119.9,120.9 L119.4,120.8 L118.8,120.7 L118.2,120.7 L117.6,120.6 L117.1,120.5 L116.5,120.3 L115.9,120.2 L115.3,120.1 L114.8,119.9 L114.2,119.8 L113.6,119.6 L113.0,119.4 L112.5,119.2 L111.9,118.9 L111.3,118.7 L110.7,118.4 L110.2,118.0 L109.6,117.7 L109.0,117.3 L108.4,116.9 L107.9,116.4 L107.3,115.9 L106.7,115.3 L106.2,114.7 L105.6,114.0 L105.0,113.2 L104.4,112.4 L103.9,111.5 L103.3,110.4 L102.7,109.3 L102.1,108.1 L101.6,106.8 L101.0,105.3 Z" fill="#00cc78" fill-opacity="0.9"/>
<path d="M207.27,120.80 L266.15,120.80" stroke="#00cc78" stroke-width="0.9" stroke-opacity="0.75" fill="none" stroke-dasharray="25.7 0.6 8.5 0.5 13.0 0.4 27.7 0.5 22.4 0.5 20.5 0.7 23.4 0.7 23.3 0.7 8.4 0.8 10.6 0.6 9.4 0.6 13.9 0.5 22.9 0.3 21.7 0.8 8.8 0.4 11.9 0.6 12.0 0.6 8.8 0.9"/>
<path d="M90.4,117.7 L90.5,117.4 L90.7,117.7 L90.9,117.6 L91.1,118.4 L91.3,118.7 L91.6,118.7 L91.9,119.1 L92.1,119.7 L92.4,119.7 L92.7,120.3 L93.0,120.4 L93.4,121.1 L93.7,121.4 L94.0,121.2 L94.3,121.9 L94.6,122.2 L94.9,122.0 L95.2,122.4 L95.5,122.7 L95.8,122.6 L96.0,122.5 L96.3,122.8 L96.6,122.3 L96.9,122.4 L97.2,121.9 L97.5,121.6 L97.8,121.1 L98.1,119.9 L98.3,119.8 L98.6,118.6 L98.9,118.4 L99.1,117.6 L99.4,116.6 L99.7,116.2 L99.9,116.0 L100.2,115.0 L100.5,114.4 L100.7,114.3 L101.0,113.9 L101.3,112.7 L101.6,112.7 L101.9,112.5 L102.2,111.9 L102.5,111.7 L102.8,110.7 L103.0,110.7 L103.3,110.6 L103.6,109.5 L103.9,109.9 L104.2,109.4 L104.4,109.1 L104.7,108.1 L104.9,108.4 L105.2,107.6 L105.5,107.4 L105.8,106.5 L106.1,105.6 L106.3,105.3 L106.5,104.8 L106.8,104.2 L107.0,103.7 L107.3,102.9 L107.5,103.0 L107.8,102.1 L108.1,102.0 L108.4,100.7 L108.6,100.2 L108.9,101.2 L109.1,100.8 L109.4,99.8 L109.6,99.7 L109.9,100.0 L110.2,98.9 L110.5,98.2 L110.7,98.9 L111.0,98.8 L111.3,98.3 L111.6,97.4 L111.9,98.5 L112.3,98.4 L112.6,98.5 L112.8,97.9 L113.1,98.2 L113.3,98.6 L113.6,98.5 L113.9,99.0 L114.1,98.9 L114.4,97.8 L114.7,98.8 L115.0,99.5 L115.3,98.5 L115.6,99.8 L115.8,100.1 L116.1,100.5 L116.4,100.6 L116.7,100.8 L117.0,101.0 L117.2,100.2 L117.5,101.3 L117.8,101.5 L118.0,101.2 L118.3,100.8 L118.5,101.9 L118.8,101.4 L119.1,102.1 L119.4,101.9 L119.7,102.0 L120.0,101.4 L120.3,101.8 L120.6,102.3 L120.8,101.8 L121.1,102.6 L121.4,102.6 L121.6,101.7 L121.9,102.5 L122.1,102.2 L122.4,103.0 L122.7,102.1 L123.0,102.8 L123.2,103.3 L123.5,102.4 L123.8,103.2 L124.1,103.5 L124.4,103.6 L124.6,103.8 L124.9,103.8 L125.2,103.3 L125.5,104.1 L125.7,104.1 L126.0,104.0 L126.3,104.0 L126.6,104.4 L126.9,104.0 L127.1,104.9 L127.4,105.0 L127.7,105.2 L128.0,105.8 L128.2,106.1 L128.5,106.5 L128.7,106.2 L129.0,107.3 L129.3,107.1 L129.5,108.0 L129.8,108.0 L130.1,108.4 L130.4,109.2 L130.6,108.9 L130.9,109.7 L131.2,110.2 L131.5,111.0 L131.9,111.2 L132.1,111.5 L132.3,111.6 L132.6,111.2 L132.8,111.6 L133.1,112.6 L133.3,112.3 L133.6,112.2 L133.8,113.0 L134.1,113.6 L134.4,113.1 L134.6,113.8 L134.9,113.4 L135.2,113.7 L135.5,114.0 L135.7,114.1 L136.0,115.1 L136.3,114.7 L136.6,115.4 L136.9,115.7 L137.2,115.8 L137.5,115.8 L137.8,116.4 L138.0,116.3 L138.3,116.1 L138.5,116.6 L138.8,116.7 L139.1,117.0 L139.4,116.5 L139.6,117.3 L139.9,117.1 L140.2,117.3 L140.5,117.8 L140.8,117.1 L141.1,118.0 L141.3,117.4 L141.6,117.6 L141.9,117.8 L142.2,117.9 L142.5,118.5 L142.8,118.6 L143.1,118.8 L143.3,118.4 L143.6,119.2 L143.9,119.3 L144.2,118.8 L144.4,119.1 L144.7,119.3 L144.9,119.2 L145.2,119.8 L145.5,119.7 L145.8,120.3 L146.1,120.1 L146.4,120.9 L146.6,121.0 L146.9,121.1 L147.2,121.2 L147.5,121.7 L147.7,121.8 L148.0,121.7 L148.2,122.4 L148.5,122.8 L148.8,123.1 L149.0,122.8 L149.3,123.3 L149.5,123.6 L149.8,123.8 L150.1,124.2 L150.3,124.3 L150.6,124.5 L150.9,124.7 L151.1,124.5 L151.4,125.0 L151.6,125.2 L151.9,125.0 L152.1,125.3 L152.4,125.7 L152.6,125.5 L152.9,125.6 L153.1,125.7 L153.3,125.8 L153.6,126.1 L153.8,126.3 L154.1,126.1 L154.3,126.3 L154.6,126.3 L154.8,126.6 L155.1,126.7 L155.4,126.6 L155.7,126.9 L156.0,126.9 L156.3,127.0 L156.7,127.0 L157.1,127.3 L157.3,127.3 L157.5,127.2 L157.7,127.5 L158.0,127.6 L158.2,127.5 L158.5,127.7 L158.7,127.5 L159.0,127.8 L159.2,127.6 L159.5,127.9 L159.8,128.1 L160.0,128.0 L160.3,128.0 L160.6,128.2 L160.9,128.2 L161.2,128.3 L161.5,128.1 L161.8,128.5 L162.1,128.3 L162.3,128.7 L162.6,128.6 L162.9,128.8 L163.2,128.9 L163.5,128.8 L163.8,128.7 L164.1,129.0 L164.4,129.0 L164.7,129.1 L165.0,129.1 L165.3,129.3 L165.5,129.3 L165.8,129.2 L166.1,129.4 L166.4,129.5 L166.6,129.4 L166.9,129.3 L167.2,129.7 L167.4,129.8 L167.7,129.8 L168.0,129.6 L168.3,130.0 L168.6,130.0 L168.9,129.9 L169.1,130.2 L169.4,130.0 L169.7,130.3 L170.0,130.3 L170.2,130.3 L170.5,130.5 L170.8,130.3 L171.0,130.5 L171.3,130.5 L171.6,130.5 L171.8,130.8 L172.1,130.6 L172.4,130.7 L172.6,130.9 L172.9,130.9 L173.1,131.1 L173.4,131.0 L173.7,131.0 L173.9,131.2 L174.2,131.2 L174.5,131.4 L174.7,131.2 L175.0,131.3 L175.2,131.3 L175.5,131.6 L175.8,131.4 L176.0,131.7 L176.3,131.6 L176.6,131.7 L176.9,131.5 L177.2,131.8 L177.4,131.8 L177.7,131.8 L178.0,131.9 L178.3,132.0 L178.6,131.9 L178.9,131.8 L179.3,132.1 L179.6,131.9 L179.9,132.1 L180.2,132.2 L180.5,132.2 L180.8,132.0 L181.1,132.1 L181.4,132.2 L181.7,132.4 L182.0,132.3 L182.2,132.5 L182.5,132.5 L182.8,132.5 L183.1,132.5 L183.3,132.6 L183.6,132.5 L183.8,132.5 L184.0,132.4 L184.3,132.5 L184.5,132.7 L184.7,132.8 L184.9,132.6 L185.0,132.8 L185.2,132.8 L186.0,133.0 L186.4,133.3 L186.6,133.5 L186.6,133.7 L186.7,133.8 L186.7,133.8 L186.4,133.8 L185.8,133.8 L185.2,133.8 L184.6,133.8 L184.0,133.8 L183.4,133.8 L182.8,133.8 L182.2,133.8 L181.7,133.8 L181.1,133.8 L180.5,133.8 L179.9,133.8 L179.3,133.8 L178.7,133.8 L178.1,133.8 L177.5,133.8 L176.9,133.8 L176.3,133.8 L175.7,133.8 L175.1,133.8 L174.5,133.8 L173.9,133.8 L173.4,133.8 L172.8,133.8 L172.2,133.8 L171.6,133.8 L171.0,133.8 L170.4,133.8 L169.8,133.8 L169.2,133.8 L168.6,133.8 L168.0,133.8 L167.4,133.8 L166.8,133.8 L166.2,133.8 L165.6,133.8 L165.1,133.8 L164.5,133.8 L163.9,133.8 L163.3,133.8 L162.7,133.8 L162.1,133.8 L161.5,133.8 L160.9,133.8 L160.3,133.8 L159.7,133.8 L159.1,133.8 L158.5,133.8 L157.9,133.8 L157.3,133.8 L156.8,133.8 L156.2,133.8 L155.6,133.8 L155.0,133.8 L154.4,133.8 L153.8,133.8 L153.2,133.8 L152.6,133.8 L152.0,133.8 L151.4,133.8 L150.8,133.8 L150.2,133.8 L149.6,133.8 L149.0,133.8 L148.5,133.8 L147.9,133.8 L147.3,133.8 L146.7,133.8 L146.1,133.8 L145.5,133.8 L144.9,133.8 L144.3,133.8 L143.7,133.8 L143.1,133.8 L142.5,133.8 L141.9,133.8 L141.3,133.8 L140.7,133.8 L140.2,133.8 L139.6,133.8 L139.0,133.8 L138.4,133.8 L137.8,133.8 L137.2,133.8 L136.6,133.8 L136.0,133.8 L135.4,133.8 L134.8,133.8 L134.2,133.8 L133.6,133.8 L133.0,133.8 L132.4,133.8 L131.9,133.8 L131.3,133.8 L130.7,133.8 L130.1,133.8 L129.5,133.8 L128.9,133.8 L128.3,133.8 L127.7,133.8 L127.1,133.8 L126.5,133.8 L125.9,133.8 L125.3,133.8 L124.7,133.8 L124.1,133.8 L123.6,133.8 L123.0,133.8 L122.4,133.8 L121.8,133.7 L121.2,133.7 L120.6,133.7 L120.0,133.7 L119.4,133.7 L118.8,133.7 L118.2,133.7 L117.6,133.6 L117.0,133.6 L116.4,133.6 L115.8,133.6 L115.3,133.5 L114.7,133.5 L114.1,133.5 L113.5,133.4 L112.9,133.4 L112.3,133.4 L111.7,133.3 L111.1,133.3 L110.5,133.2 L109.9,133.1 L109.3,133.1 L108.7,133.0 L108.1,132.9 L107.5,132.8 L107.0,132.7 L106.4,132.6 L105.8,132.5 L105.2,132.3 L104.6,132.2 L104.0,132.0 L103.4,131.8 L102.8,131.6 L102.2,131.4 L101.6,131.2 L101.0,130.9 L100.4,130.6 L99.8,130.3 L99.2,129.9 L98.7,129.5 L98.1,129.1 L97.5,128.6 L96.9,128.1 L96.3,127.5 L95.7,126.9 L95.1,126.2 L94.5,125.4 L93.9,124.6 L93.3,123.7 L92.7,122.6 L92.1,121.5 L91.5,120.3 L90.9,118.9 L90.4,117.4 Z" fill="#00d600" fill-opacity="0.9"/>
<path d="M200.77,132.90 L260.80,132.90" stroke="#00d600" stroke-width="0.9" stroke-opacity="0.75" fill="none" stroke-dasharray="15.7 0.6 21.1 0.6 8.5 0.6 13.4 0.7 29.8 0.8 11.6 0.6 12.8 0.5 13.6 0.8 23.9 0.7 17.9 0.9 28.7 0.7 19.4 0.5 21.1 0.4 26.6 0.7 23.6 0.9 18.6 0.6"/>
<path d="M79.0,130.0 L79.5,131.0 L80.1,131.5 L80.9,132.8 L81.7,133.4 L82.6,134.8 L83.5,135.2 L84.3,135.8 L85.2,135.7 L85.9,135.1 L86.7,134.5 L87.5,133.3 L88.3,131.7 L89.1,130.4 L89.9,128.9 L90.6,127.6 L91.3,126.2 L92.1,125.2 L93.0,124.4 L93.8,124.2 L94.5,123.1 L95.2,122.8 L95.9,122.2 L96.9,120.0 L97.7,117.9 L98.9,116.4 L99.5,115.7 L100.2,115.5 L100.9,115.0 L101.7,114.3 L102.5,114.5 L103.3,114.6 L104.2,114.2 L105.1,114.3 L105.8,115.1 L106.5,115.1 L107.2,116.3 L108.0,116.9 L108.8,117.5 L109.6,117.5 L110.4,118.5 L111.2,119.2 L111.9,120.1 L112.7,120.6 L113.5,120.8 L114.3,121.9 L115.1,122.4 L115.8,122.9 L116.6,123.3 L117.4,123.5 L118.2,124.3 L118.9,124.9 L119.7,125.4 L120.4,126.2 L121.3,126.5 L122.2,127.8 L123.1,128.8 L123.9,129.7 L124.8,130.3 L125.6,131.5 L126.5,132.0 L127.4,133.1 L128.2,133.8 L129.1,134.6 L130.0,135.0 L130.9,135.7 L131.7,136.6 L132.6,137.3 L133.3,137.7 L134.0,138.3 L134.6,138.6 L135.3,139.1 L136.0,139.6 L136.8,140.2 L137.7,140.6 L138.7,140.8 L139.4,141.0 L140.1,141.4 L140.8,141.5 L141.6,141.7 L142.4,141.7 L143.2,142.1 L144.0,142.3 L144.9,142.3 L145.8,142.5 L146.7,142.7 L147.6,142.7 L148.4,142.9 L149.3,143.0 L150.2,143.3 L151.0,143.4 L151.8,143.6 L152.6,143.7 L153.4,143.8 L154.3,144.0 L155.1,144.1 L155.9,144.2 L156.7,144.3 L157.5,144.5 L158.3,144.6 L159.1,144.6 L160.0,144.8 L160.8,144.9 L161.6,145.0 L162.4,145.2 L163.2,145.2 L164.1,145.4 L164.9,145.4 L165.8,145.5 L166.7,145.6 L167.6,145.7 L168.5,145.6 L169.4,145.8 L170.3,145.7 L171.1,145.8 L172.0,145.9 L172.8,145.9 L173.5,146.0 L174.2,146.0 L174.9,146.1 L175.5,146.1 L177.0,146.3 L178.1,146.5 L178.9,146.7 L179.6,146.8 L180.1,146.9 L180.1,146.9 L180.1,146.9 L179.5,146.9 L178.8,146.9 L178.2,146.9 L177.6,146.9 L177.0,146.9 L176.4,146.9 L175.8,146.9 L175.2,146.9 L174.6,146.9 L173.9,146.9 L173.3,146.9 L172.7,146.9 L172.1,146.9 L171.5,146.9 L170.9,146.9 L170.3,146.9 L169.7,146.9 L169.1,146.9 L168.4,146.9 L167.8,146.9 L167.2,146.9 L166.6,146.9 L166.0,146.9 L165.4,146.9 L164.8,146.9 L164.2,146.9 L163.5,146.9 L162.9,146.9 L162.3,146.9 L161.7,146.9 L161.1,146.9 L160.5,146.9 L159.9,146.9 L159.3,146.9 L158.6,146.9 L158.0,146.9 L157.4,146.9 L156.8,146.9 L156.2,146.9 L155.6,146.9 L155.0,146.9 L154.4,146.9 L153.7,146.9 L153.1,146.9 L152.5,146.9 L151.9,146.9 L151.3,146.9 L150.7,146.9 L150.1,146.9 L149.5,146.9 L148.8,146.9 L148.2,146.9 L147.6,146.9 L147.0,146.9 L146.4,146.9 L145.8,146.9 L145.2,146.9 L144.6,146.9 L143.9,146.9 L143.3,146.9 L142.7,146.9 L142.1,146.9 L141.5,146.9 L140.9,146.9 L140.3,146.9 L139.7,146.9 L139.0,146.9 L138.4,146.9 L137.8,146.9 L137.2,146.9 L136.6,146.9 L136.0,146.9 L135.4,146.9 L134.8,146.9 L134.1,146.9 L133.5,146.9 L132.9,146.9 L132.3,146.9 L131.7,146.9 L131.1,146.9 L130.5,146.9 L129.9,146.9 L129.2,146.9 L128.6,146.9 L128.0,146.9 L127.4,146.9 L126.8,146.9 L126.2,146.9 L125.6,146.9 L125.0,146.9 L124.3,146.9 L123.7,146.9 L123.1,146.9 L122.5,146.9 L121.9,146.9 L121.3,146.9 L120.7,146.9 L120.1,146.9 L119.4,146.9 L118.8,146.9 L118.2,146.9 L117.6,146.9 L117.0,146.9 L116.4,146.9 L115.8,146.9 L115.2,146.8 L114.5,146.8 L113.9,146.8 L113.3,146.8 L112.7,146.8 L112.1,146.8 L111.5,146.8 L110.9,146.8 L110.3,146.8 L109.6,146.8 L109.0,146.8 L108.4,146.7 L107.8,146.7 L107.2,146.7 L106.6,146.7 L106.0,146.7 L105.4,146.6 L104.7,146.6 L104.1,146.6 L103.5,146.5 L102.9,146.5 L102.3,146.5 L101.7,146.4 L101.1,146.4 L100.5,146.3 L99.8,146.3 L99.2,146.2 L98.6,146.1 L98.0,146.0 L97.4,146.0 L96.8,145.9 L96.2,145.8 L95.6,145.6 L94.9,145.5 L94.3,145.4 L93.7,145.2 L93.1,145.0 L92.5,144.9 L91.9,144.7 L91.3,144.4 L90.7,144.2 L90.1,143.9 L89.4,143.6 L88.8,143.3 L88.2,142.9 L87.6,142.5 L87.0,142.1 L86.4,141.6 L85.8,141.1 L85.2,140.5 L84.5,139.9 L83.9,139.2 L83.3,138.4 L82.7,137.5 L82.1,136.6 L81.5,135.6 L80.9,134.4 L80.3,133.2 L79.6,131.8 L79.0,130.3 Z" fill="#99da1e" fill-opacity="0.9"/>
<path d="M190.79,145.80 L255.09,145.80" stroke="#99da1e" stroke-width="0.9" stroke-opacity="0.75" fill="none" stroke-dasharray="9.0 0.4 23.6 0.4 26.9 0.5 8.3 0.6 11.7 0.3 14.1 0.6 12.2 0.8 14.6 0.7 15.7 0.4 17.6 0.7 18.7 0.7 10.7 0.4 10.9 0.6 26.9 0.5 26.0 0.4 13.0 0.7 25.3 0.8 11.2 0.6"/>
<path d="M66.9,144.3 L67.4,144.8 L68.1,145.7 L68.8,146.7 L69.7,147.7 L70.6,148.6 L71.5,149.5 L72.4,149.9 L73.3,150.1 L74.1,149.6 L74.9,148.7 L75.8,147.5 L76.6,146.0 L77.5,144.6 L78.2,143.0 L79.0,141.6 L79.6,140.9 L80.8,138.8 L81.7,137.5 L82.8,136.2 L83.5,135.5 L84.3,134.5 L85.1,133.5 L86.0,132.7 L86.8,131.9 L87.5,131.2 L88.5,130.1 L89.3,129.0 L90.7,129.0 L91.3,129.1 L92.0,129.1 L92.8,129.1 L93.7,129.8 L94.5,130.2 L95.4,130.1 L96.3,130.6 L97.1,131.0 L97.9,131.5 L98.6,132.0 L99.8,132.7 L100.8,133.4 L101.7,134.0 L102.5,134.9 L103.3,135.5 L104.1,136.4 L104.6,137.7 L105.3,138.4 L106.5,139.9 L107.1,140.2 L107.7,141.0 L108.5,141.4 L109.3,142.2 L110.1,142.7 L111.0,143.4 L111.8,144.1 L112.7,144.8 L113.6,145.4 L114.4,145.9 L115.3,146.5 L116.0,147.0 L116.9,147.7 L117.8,148.4 L118.6,149.1 L119.5,149.7 L120.3,150.2 L121.1,150.9 L122.0,151.5 L122.9,152.0 L123.9,152.7 L124.6,153.0 L125.3,153.3 L126.1,153.6 L126.9,153.9 L127.6,154.1 L128.5,154.3 L129.3,154.7 L130.1,154.9 L130.9,155.1 L131.7,155.4 L132.6,155.7 L133.4,155.8 L134.2,156.1 L135.0,156.3 L135.8,156.5 L136.5,156.7 L137.3,156.8 L138.0,157.1 L138.8,157.2 L139.5,157.3 L140.3,157.5 L141.0,157.6 L141.8,157.7 L142.6,157.9 L143.4,158.0 L144.3,158.1 L145.2,158.3 L146.1,158.3 L146.8,158.4 L147.5,158.5 L148.3,158.6 L149.1,158.7 L149.9,158.8 L150.8,158.9 L151.7,158.9 L152.5,159.0 L153.4,159.0 L154.3,159.1 L155.2,159.1 L156.0,159.2 L156.9,159.3 L157.7,159.4 L158.5,159.4 L159.3,159.4 L160.0,159.5 L160.7,159.5 L161.3,159.7 L161.9,159.7 L163.2,159.9 L164.3,160.0 L165.3,160.2 L166.1,160.4 L166.8,160.5 L167.3,160.7 L167.8,160.8 L168.3,160.9 L168.3,160.9 L168.3,160.9 L167.6,160.9 L167.0,160.9 L166.4,160.9 L165.7,160.9 L165.1,160.9 L164.5,160.9 L163.8,160.9 L163.2,160.9 L162.6,160.9 L161.9,160.9 L161.3,160.9 L160.7,160.9 L160.0,160.9 L159.4,160.9 L158.8,160.9 L158.1,160.9 L157.5,160.9 L156.9,160.9 L156.2,160.9 L155.6,160.9 L155.0,160.9 L154.3,160.9 L153.7,160.9 L153.1,160.9 L152.4,160.9 L151.8,160.9 L151.2,160.9 L150.5,160.9 L149.9,160.9 L149.3,160.9 L148.6,160.9 L148.0,160.9 L147.4,160.9 L146.7,160.9 L146.1,160.9 L145.5,160.9 L144.8,160.9 L144.2,160.9 L143.6,160.9 L142.9,160.9 L142.3,160.9 L141.7,160.9 L141.0,160.9 L140.4,160.9 L139.8,160.9 L139.1,160.9 L138.5,160.9 L137.9,160.9 L137.2,160.9 L136.6,160.9 L136.0,160.9 L135.3,160.9 L134.7,160.9 L134.1,160.9 L133.4,160.9 L132.8,160.9 L132.2,160.9 L131.5,160.9 L130.9,160.9 L130.3,160.9 L129.6,160.9 L129.0,160.9 L128.4,160.9 L127.7,160.9 L127.1,160.9 L126.5,160.9 L125.8,160.9 L125.2,160.9 L124.6,160.9 L123.9,160.9 L123.3,160.9 L122.7,160.9 L122.0,160.9 L121.4,160.9 L120.8,160.9 L120.1,160.9 L119.5,160.9 L118.9,160.9 L118.2,160.9 L117.6,160.9 L117.0,160.8 L116.3,160.8 L115.7,160.8 L115.1,160.8 L114.4,160.8 L113.8,160.8 L113.2,160.8 L112.5,160.8 L111.9,160.8 L111.3,160.8 L110.6,160.8 L110.0,160.8 L109.4,160.8 L108.7,160.8 L108.1,160.8 L107.5,160.8 L106.8,160.8 L106.2,160.8 L105.6,160.8 L104.9,160.8 L104.3,160.8 L103.7,160.8 L103.0,160.8 L102.4,160.8 L101.8,160.8 L101.1,160.8 L100.5,160.8 L99.9,160.7 L99.2,160.7 L98.6,160.7 L98.0,160.7 L97.3,160.7 L96.7,160.7 L96.1,160.7 L95.4,160.6 L94.8,160.6 L94.2,160.6 L93.5,160.6 L92.9,160.5 L92.3,160.5 L91.6,160.5 L91.0,160.4 L90.4,160.4 L89.7,160.3 L89.1,160.3 L88.5,160.2 L87.8,160.1 L87.2,160.1 L86.6,160.0 L85.9,159.9 L85.3,159.8 L84.7,159.7 L84.0,159.6 L83.4,159.5 L82.8,159.3 L82.1,159.2 L81.5,159.0 L80.9,158.8 L80.2,158.6 L79.6,158.4 L79.0,158.1 L78.3,157.9 L77.7,157.6 L77.1,157.2 L76.4,156.9 L75.8,156.5 L75.2,156.0 L74.5,155.6 L73.9,155.0 L73.3,154.5 L72.6,153.8 L72.0,153.1 L71.4,152.3 L70.7,151.5 L70.1,150.5 L69.5,149.5 L68.8,148.4 L68.2,147.1 L67.6,145.8 L66.9,144.3 Z" fill="#dfd61e" fill-opacity="0.9"/>
<path d="M182.50,159.58 L249.00,159.58" stroke="#dfd61e" stroke-width="0.9" stroke-opacity="0.75" fill="none" stroke-dasharray="11.3 0.4 8.4 0.5 19.2 0.5 15.6 0.6 12.8 0.5 20.1 0.6 25.5 0.8 23.0 0.6 14.5 0.8 24.1 0.5 12.6 0.6 15.5 0.5 15.9 0.5 8.6 0.6 28.5 0.4 23.5 0.7 29.1 0.5"/>
<path d="M54.0,159.2 L54.5,159.7 L55.2,160.4 L56.1,161.6 L57.0,162.6 L58.0,163.6 L59.0,164.4 L59.8,165.1 L60.5,165.2 L61.4,164.2 L62.0,162.0 L62.6,159.7 L63.8,157.4 L64.5,156.8 L65.2,155.8 L66.1,155.0 L67.0,154.4 L67.9,153.3 L68.9,152.9 L69.9,151.9 L70.9,151.3 L71.9,151.0 L72.8,150.4 L73.6,150.2 L74.6,149.9 L75.5,150.3 L76.4,150.4 L77.3,150.6 L78.2,151.1 L79.0,151.7 L79.8,152.2 L80.5,152.3 L81.2,152.8 L81.8,152.8 L83.2,153.4 L84.0,153.2 L85.1,153.3 L85.9,153.3 L86.8,153.7 L87.7,153.8 L88.7,154.0 L89.7,154.0 L90.7,154.5 L91.7,154.6 L92.5,155.3 L93.3,155.7 L94.1,156.3 L94.8,157.2 L95.7,157.8 L96.5,158.3 L97.3,159.1 L98.2,159.8 L99.0,160.3 L99.7,160.7 L100.5,161.4 L101.3,161.8 L102.1,162.3 L103.0,162.8 L103.8,163.3 L104.7,163.7 L105.5,164.2 L106.4,164.8 L107.3,165.3 L108.1,165.6 L108.9,166.2 L109.8,166.7 L110.7,167.2 L111.6,167.6 L112.5,168.1 L113.4,168.6 L114.4,169.0 L115.3,169.4 L116.3,169.7 L117.0,170.0 L117.8,170.3 L118.6,170.4 L119.3,170.7 L120.1,171.0 L120.9,171.2 L121.7,171.3 L122.5,171.6 L123.3,171.7 L124.2,171.8 L125.0,172.1 L125.9,172.3 L126.8,172.5 L127.7,172.6 L128.5,172.8 L129.2,172.9 L130.0,173.0 L130.8,173.1 L131.6,173.2 L132.4,173.3 L133.2,173.4 L134.1,173.5 L134.9,173.7 L135.7,173.7 L136.6,173.9 L137.4,173.9 L138.3,174.0 L139.1,174.1 L140.0,174.3 L140.8,174.4 L141.7,174.4 L142.5,174.5 L143.4,174.6 L144.3,174.6 L145.2,174.7 L146.2,174.8 L147.1,174.8 L148.1,174.9 L149.1,174.9 L150.0,175.0 L150.9,175.0 L151.9,175.1 L152.8,175.1 L153.6,175.1 L154.4,175.2 L155.2,175.2 L156.0,175.2 L156.6,175.3 L157.2,175.3 L158.9,175.4 L160.1,175.6 L161.0,175.7 L161.6,175.7 L162.2,175.8 L162.2,175.8 L162.2,175.8 L161.5,175.8 L160.8,175.8 L160.2,175.8 L159.5,175.8 L158.9,175.8 L158.2,175.8 L157.6,175.8 L156.9,175.8 L156.3,175.8 L155.6,175.8 L154.9,175.8 L154.3,175.8 L153.6,175.8 L153.0,175.8 L152.3,175.8 L151.7,175.8 L151.0,175.8 L150.4,175.8 L149.7,175.8 L149.0,175.8 L148.4,175.8 L147.7,175.8 L147.1,175.8 L146.4,175.8 L145.8,175.8 L145.1,175.8 L144.5,175.8 L143.8,175.8 L143.1,175.8 L142.5,175.8 L141.8,175.8 L141.2,175.8 L140.5,175.8 L139.9,175.8 L139.2,175.8 L138.6,175.8 L137.9,175.8 L137.2,175.8 L136.6,175.8 L135.9,175.8 L135.3,175.8 L134.6,175.8 L134.0,175.8 L133.3,175.8 L132.7,175.8 L132.0,175.8 L131.3,175.8 L130.7,175.8 L130.0,175.8 L129.4,175.8 L128.7,175.8 L128.1,175.8 L127.4,175.8 L126.8,175.8 L126.1,175.8 L125.4,175.8 L124.8,175.8 L124.1,175.8 L123.5,175.8 L122.8,175.8 L122.2,175.8 L121.5,175.8 L120.8,175.8 L120.2,175.8 L119.5,175.8 L118.9,175.8 L118.2,175.8 L117.6,175.8 L116.9,175.8 L116.3,175.8 L115.6,175.8 L114.9,175.8 L114.3,175.8 L113.6,175.8 L113.0,175.8 L112.3,175.8 L111.7,175.8 L111.0,175.8 L110.4,175.8 L109.7,175.8 L109.0,175.8 L108.4,175.8 L107.7,175.8 L107.1,175.8 L106.4,175.8 L105.8,175.8 L105.1,175.8 L104.5,175.8 L103.8,175.8 L103.1,175.8 L102.5,175.8 L101.8,175.8 L101.2,175.8 L100.5,175.8 L99.9,175.8 L99.2,175.8 L98.6,175.8 L97.9,175.8 L97.2,175.8 L96.6,175.8 L95.9,175.8 L95.3,175.8 L94.6,175.7 L94.0,175.7 L93.3,175.7 L92.7,175.7 L92.0,175.7 L91.3,175.7 L90.7,175.7 L90.0,175.7 L89.4,175.7 L88.7,175.7 L88.1,175.7 L87.4,175.7 L86.8,175.7 L86.1,175.6 L85.4,175.6 L84.8,175.6 L84.1,175.6 L83.5,175.6 L82.8,175.5 L82.2,175.5 L81.5,175.5 L80.9,175.5 L80.2,175.4 L79.5,175.4 L78.9,175.3 L78.2,175.3 L77.6,175.3 L76.9,175.2 L76.3,175.1 L75.6,175.1 L75.0,175.0 L74.3,174.9 L73.6,174.8 L73.0,174.7 L72.3,174.6 L71.7,174.5 L71.0,174.4 L70.4,174.3 L69.7,174.1 L69.1,173.9 L68.4,173.8 L67.7,173.5 L67.1,173.3 L66.4,173.1 L65.8,172.8 L65.1,172.5 L64.5,172.2 L63.8,171.8 L63.2,171.4 L62.5,171.0 L61.8,170.5 L61.2,170.0 L60.5,169.4 L59.9,168.8 L59.2,168.0 L58.6,167.3 L57.9,166.4 L57.3,165.5 L56.6,164.5 L55.9,163.3 L55.3,162.1 L54.6,160.7 L54.0,159.2 Z" fill="#dfa219" fill-opacity="0.9"/>
<path d="M175.27,174.32 L242.47,174.32" stroke="#dfa219" stroke-width="0.9" stroke-opacity="0.55" fill="none" stroke-dasharray="5.1 2.6 5.6 2.0 1.9 1.4 8.6 1.5 8.7 2.6 8.5 1.9 4.1 0.7 4.2 1.8 2.8 1.9 4.0 1.9 4.7 0.9 4.5 2.4 1.7 1.5 5.7 0.5 4.4 1.4 7.2 1.8 8.7 2.5 7.9 2.4 5.4 0.8 4.9 1.0 2.2 2.4 7.5 2.8 3.7 0.9 2.8 2.6 5.1 1.5 1.7 1.3 2.7 1.8 5.8 1.0 8.0 2.2 2.1 2.2 4.7 1.8 8.3 3.0 8.0 2.8 8.7 1.5 5.4 2.1 3.0 0.6 4.1 0.7 8.4 2.1 2.7 1.0 5.1 1.8 6.9 1.4 2.5 0.8 2.3 0.7 8.9 1.1"/>
<path d="M40.1,176.2 L40.6,176.6 L41.3,177.5 L42.1,178.5 L43.0,179.5 L44.0,180.5 L45.0,181.3 L46.0,181.8 L46.9,182.0 L47.7,181.8 L48.5,181.1 L49.2,180.3 L50.0,179.1 L50.8,178.0 L51.6,176.8 L52.6,175.8 L53.7,175.3 L54.4,174.9 L55.2,174.5 L56.0,174.2 L56.9,174.0 L57.8,173.6 L58.7,173.3 L59.7,173.0 L60.6,173.0 L61.6,172.8 L62.5,172.7 L63.4,172.4 L64.2,172.5 L65.0,172.3 L66.0,172.4 L67.0,172.5 L67.9,172.7 L68.8,172.8 L69.6,173.1 L70.5,173.5 L71.3,173.8 L72.2,174.1 L73.1,174.2 L74.1,174.7 L74.9,174.8 L75.7,175.0 L76.6,175.3 L77.4,175.5 L78.3,175.6 L79.2,175.9 L80.1,176.2 L80.9,176.4 L81.8,176.7 L82.6,176.9 L83.5,177.2 L84.2,177.6 L85.1,178.0 L86.0,178.4 L86.8,178.9 L87.5,179.5 L88.3,180.1 L89.1,180.6 L89.9,181.1 L90.7,181.7 L91.7,182.1 L92.7,182.6 L93.5,183.0 L94.2,183.1 L95.0,183.5 L95.8,183.7 L96.6,184.0 L97.5,184.3 L98.3,184.7 L99.2,184.9 L100.1,185.3 L101.0,185.5 L101.9,185.7 L102.8,186.0 L103.7,186.2 L104.6,186.5 L105.5,186.7 L106.3,186.9 L107.2,187.1 L108.1,187.3 L109.0,187.5 L109.9,187.7 L110.8,187.8 L111.7,188.0 L112.6,188.1 L113.5,188.2 L114.4,188.3 L115.3,188.5 L116.2,188.6 L117.1,188.7 L118.0,188.8 L119.0,188.9 L119.9,189.0 L120.8,189.1 L121.6,189.2 L122.4,189.2 L123.3,189.3 L124.1,189.4 L124.9,189.4 L125.8,189.5 L126.6,189.5 L127.5,189.6 L128.4,189.6 L129.3,189.7 L130.2,189.7 L131.1,189.7 L132.1,189.8 L133.1,189.9 L134.1,190.0 L135.2,190.0 L136.0,190.0 L136.7,190.0 L137.5,190.1 L138.4,190.2 L139.2,190.1 L140.1,190.2 L141.0,190.2 L141.9,190.3 L142.8,190.3 L143.8,190.4 L144.7,190.4 L145.6,190.5 L146.6,190.5 L147.5,190.5 L148.5,190.5 L149.4,190.6 L150.3,190.6 L151.2,190.7 L152.0,190.7 L152.9,190.7 L153.7,190.8 L154.5,190.8 L155.3,190.9 L156.0,190.9 L156.7,190.9 L157.3,191.0 L158.7,191.1 L160.0,191.1 L161.2,191.2 L162.3,191.3 L163.3,191.4 L164.2,191.5 L165.0,191.6 L165.8,191.7 L166.4,191.7 L167.0,191.8 L167.5,191.8 L167.5,191.8 L167.2,191.8 L166.5,191.8 L165.8,191.8 L165.1,191.8 L164.4,191.8 L163.8,191.8 L163.1,191.8 L162.4,191.8 L161.7,191.8 L161.0,191.8 L160.4,191.8 L159.7,191.8 L159.0,191.8 L158.3,191.8 L157.6,191.8 L157.0,191.8 L156.3,191.8 L155.6,191.8 L154.9,191.8 L154.3,191.8 L153.6,191.8 L152.9,191.8 L152.2,191.8 L151.5,191.8 L150.9,191.8 L150.2,191.8 L149.5,191.8 L148.8,191.8 L148.1,191.8 L147.5,191.8 L146.8,191.8 L146.1,191.8 L145.4,191.8 L144.7,191.8 L144.1,191.8 L143.4,191.8 L142.7,191.8 L142.0,191.8 L141.3,191.8 L140.7,191.8 L140.0,191.8 L139.3,191.8 L138.6,191.8 L137.9,191.8 L137.3,191.8 L136.6,191.8 L135.9,191.8 L135.2,191.8 L134.5,191.8 L133.9,191.8 L133.2,191.8 L132.5,191.8 L131.8,191.8 L131.1,191.8 L130.5,191.8 L129.8,191.8 L129.1,191.8 L128.4,191.8 L127.7,191.8 L127.1,191.8 L126.4,191.8 L125.7,191.8 L125.0,191.8 L124.3,191.8 L123.7,191.8 L123.0,191.8 L122.3,191.8 L121.6,191.8 L120.9,191.8 L120.3,191.8 L119.6,191.8 L118.9,191.8 L118.2,191.8 L117.6,191.8 L116.9,191.8 L116.2,191.8 L115.5,191.8 L114.8,191.8 L114.2,191.8 L113.5,191.8 L112.8,191.8 L112.1,191.8 L111.4,191.8 L110.8,191.8 L110.1,191.8 L109.4,191.8 L108.7,191.8 L108.0,191.8 L107.4,191.8 L106.7,191.8 L106.0,191.8 L105.3,191.8 L104.6,191.8 L104.0,191.8 L103.3,191.8 L102.6,191.8 L101.9,191.8 L101.2,191.8 L100.6,191.8 L99.9,191.8 L99.2,191.8 L98.5,191.8 L97.8,191.8 L97.2,191.8 L96.5,191.8 L95.8,191.8 L95.1,191.8 L94.4,191.8 L93.8,191.8 L93.1,191.8 L92.4,191.8 L91.7,191.8 L91.0,191.8 L90.4,191.8 L89.7,191.8 L89.0,191.8 L88.3,191.8 L87.6,191.8 L87.0,191.8 L86.3,191.8 L85.6,191.8 L84.9,191.8 L84.2,191.8 L83.6,191.8 L82.9,191.8 L82.2,191.8 L81.5,191.8 L80.9,191.8 L80.2,191.8 L79.5,191.8 L78.8,191.8 L78.1,191.7 L77.5,191.7 L76.8,191.7 L76.1,191.7 L75.4,191.7 L74.7,191.7 L74.1,191.7 L73.4,191.7 L72.7,191.7 L72.0,191.6 L71.3,191.6 L70.7,191.6 L70.0,191.6 L69.3,191.6 L68.6,191.5 L67.9,191.5 L67.3,191.5 L66.6,191.4 L65.9,191.4 L65.2,191.4 L64.5,191.3 L63.9,191.3 L63.2,191.2 L62.5,191.1 L61.8,191.1 L61.1,191.0 L60.5,190.9 L59.8,190.8 L59.1,190.7 L58.4,190.6 L57.7,190.5 L57.1,190.4 L56.4,190.2 L55.7,190.1 L55.0,189.9 L54.3,189.7 L53.7,189.5 L53.0,189.2 L52.3,189.0 L51.6,188.7 L50.9,188.4 L50.3,188.1 L49.6,187.7 L48.9,187.3 L48.2,186.8 L47.5,186.3 L46.9,185.8 L46.2,185.1 L45.5,184.5 L44.8,183.7 L44.2,182.9 L43.5,182.1 L42.8,181.1 L42.1,180.0 L41.4,178.8 L40.8,177.5 L40.1,176.1 Z" fill="#ed7517" fill-opacity="0.9"/>
<path d="M169.20,190.15 L235.47,190.15" stroke="#ed7517" stroke-width="0.9" stroke-opacity="0.55" fill="none" stroke-dasharray="2.4 2.6 2.6 0.8 2.0 1.4 1.6 2.4 3.4 2.6 2.6 1.9 1.7 2.7 2.4 1.1 7.8 1.7 6.1 3.0 8.8 2.4 7.2 2.4 5.1 3.0 2.2 2.9 5.7 1.6 3.1 1.1 3.9 0.7 5.9 2.0 3.0 2.5 7.6 2.9 7.2 1.6 3.6 1.9 8.6 1.1 7.8 2.6 5.1 1.3 3.6 1.8 7.2 1.7 2.0 0.8 5.2 1.2 5.3 2.7 3.2 1.3 1.9 2.7 3.2 2.6 8.0 0.6 4.3 1.6 6.1 2.6 3.9 2.9 8.8 0.6 8.7 1.9 6.8 1.0 7.6 1.0 3.8 0.6 5.5 1.4 8.5 1.1"/>
<path d="M25.1,192.8 L25.7,193.3 L26.4,194.3 L27.2,195.3 L28.2,196.3 L29.2,197.2 L30.2,198.2 L31.2,198.8 L32.2,198.9 L33.0,198.7 L33.8,198.1 L34.6,197.3 L35.4,196.3 L36.3,195.1 L37.2,194.0 L38.1,192.8 L39.2,191.9 L40.0,191.3 L40.8,190.6 L41.7,189.8 L42.5,189.0 L43.4,188.1 L44.4,187.3 L45.4,186.8 L46.4,186.2 L47.4,185.4 L48.5,185.0 L49.6,184.8 L50.7,184.5 L51.5,184.6 L52.3,184.4 L53.2,184.6 L54.1,184.8 L55.0,184.9 L56.0,185.4 L57.0,185.6 L58.0,185.9 L58.9,186.2 L59.9,186.8 L60.9,187.2 L61.8,187.5 L62.8,188.0 L63.7,188.3 L64.6,188.8 L65.4,189.1 L66.2,189.5 L66.9,189.9 L68.1,190.4 L69.2,191.1 L70.2,191.8 L71.2,192.3 L72.1,193.1 L72.9,193.8 L73.7,194.6 L74.5,195.3 L75.4,195.8 L76.3,196.4 L77.2,196.7 L78.1,197.2 L78.9,197.6 L79.8,197.9 L80.7,198.2 L81.6,198.4 L82.5,198.8 L83.3,199.1 L84.2,199.4 L85.1,199.8 L85.9,200.2 L86.8,200.6 L87.6,201.0 L88.4,201.6 L89.3,202.1 L90.1,202.5 L91.0,202.9 L91.9,203.4 L92.9,203.8 L93.9,204.1 L94.7,204.4 L95.5,204.6 L96.3,204.8 L97.1,204.9 L98.0,205.1 L98.9,205.2 L99.8,205.3 L100.7,205.5 L101.7,205.7 L102.7,205.7 L103.8,205.9 L105.0,206.0 L106.2,206.2 L107.0,206.2 L107.7,206.2 L108.5,206.3 L109.4,206.4 L110.2,206.5 L111.1,206.5 L112.0,206.6 L113.0,206.7 L113.9,206.8 L114.9,206.8 L115.9,206.8 L116.8,206.9 L117.8,207.0 L118.8,207.0 L119.7,207.1 L120.7,207.2 L121.6,207.2 L122.5,207.2 L123.4,207.3 L124.3,207.3 L125.1,207.4 L125.9,207.4 L126.7,207.5 L127.4,207.5 L128.6,207.6 L129.7,207.7 L130.7,207.8 L131.7,207.8 L132.6,207.9 L133.5,208.0 L134.3,208.0 L135.2,208.1 L136.0,208.2 L136.7,208.2 L137.5,208.3 L138.2,208.3 L139.0,208.4 L139.8,208.4 L140.8,208.5 L141.9,208.6 L142.9,208.7 L144.0,208.7 L144.9,208.8 L145.8,208.9 L146.7,208.9 L147.4,209.0 L148.1,209.0 L148.6,209.1 L148.6,209.1 L148.6,209.1 L147.9,209.1 L147.2,209.1 L146.5,209.1 L145.7,209.1 L145.0,209.1 L144.3,209.1 L143.6,209.1 L142.9,209.1 L142.2,209.1 L141.5,209.1 L140.8,209.1 L140.1,209.1 L139.4,209.1 L138.7,209.1 L138.0,209.1 L137.3,209.1 L136.6,209.1 L135.9,209.1 L135.2,209.1 L134.5,209.1 L133.8,209.1 L133.0,209.1 L132.3,209.1 L131.6,209.1 L130.9,209.1 L130.2,209.1 L129.5,209.1 L128.8,209.1 L128.1,209.1 L127.4,209.1 L126.7,209.1 L126.0,209.1 L125.3,209.1 L124.6,209.1 L123.9,209.1 L123.2,209.1 L122.5,209.1 L121.8,209.1 L121.1,209.1 L120.4,209.1 L119.6,209.1 L118.9,209.1 L118.2,209.1 L117.5,209.1 L116.8,209.1 L116.1,209.1 L115.4,209.1 L114.7,209.1 L114.0,209.1 L113.3,209.1 L112.6,209.1 L111.9,209.1 L111.2,209.1 L110.5,209.1 L109.8,209.1 L109.1,209.1 L108.4,209.1 L107.7,209.1 L106.9,209.1 L106.2,209.1 L105.5,209.1 L104.8,209.1 L104.1,209.1 L103.4,209.1 L102.7,209.1 L102.0,209.1 L101.3,209.1 L100.6,209.1 L99.9,209.1 L99.2,209.1 L98.5,209.1 L97.8,209.1 L97.1,209.1 L96.4,209.1 L95.7,209.1 L95.0,209.1 L94.2,209.1 L93.5,209.1 L92.8,209.1 L92.1,209.1 L91.4,209.1 L90.7,209.1 L90.0,209.1 L89.3,209.1 L88.6,209.1 L87.9,209.1 L87.2,209.1 L86.5,209.1 L85.8,209.1 L85.1,209.1 L84.4,209.1 L83.7,209.1 L83.0,209.1 L82.3,209.1 L81.6,209.1 L80.8,209.1 L80.1,209.1 L79.4,209.1 L78.7,209.1 L78.0,209.1 L77.3,209.1 L76.6,209.1 L75.9,209.1 L75.2,209.1 L74.5,209.1 L73.8,209.0 L73.1,209.0 L72.4,209.0 L71.7,209.0 L71.0,209.0 L70.3,209.0 L69.6,209.0 L68.9,209.0 L68.1,209.0 L67.4,209.0 L66.7,209.0 L66.0,209.0 L65.3,209.0 L64.6,209.0 L63.9,209.0 L63.2,209.0 L62.5,209.0 L61.8,209.0 L61.1,208.9 L60.4,208.9 L59.7,208.9 L59.0,208.9 L58.3,208.9 L57.6,208.9 L56.9,208.8 L56.2,208.8 L55.5,208.8 L54.7,208.8 L54.0,208.7 L53.3,208.7 L52.6,208.7 L51.9,208.6 L51.2,208.6 L50.5,208.5 L49.8,208.5 L49.1,208.4 L48.4,208.4 L47.7,208.3 L47.0,208.2 L46.3,208.1 L45.6,208.0 L44.9,207.9 L44.2,207.8 L43.5,207.7 L42.8,207.6 L42.0,207.4 L41.3,207.3 L40.6,207.1 L39.9,206.9 L39.2,206.7 L38.5,206.4 L37.8,206.2 L37.1,205.9 L36.4,205.5 L35.7,205.2 L35.0,204.8 L34.3,204.4 L33.6,203.9 L32.9,203.4 L32.2,202.8 L31.5,202.2 L30.8,201.5 L30.1,200.8 L29.3,199.9 L28.6,199.0 L27.9,198.0 L27.2,196.9 L26.5,195.7 L25.8,194.3 L25.1,192.9 Z" fill="#f72c2c" fill-opacity="0.9"/>
<path d="M153.86,207.18 L227.93,207.18" stroke="#f72c2c" stroke-width="0.9" stroke-opacity="0.55" fill="none" stroke-dasharray="7.3 0.5 6.7 1.9 7.6 1.3 4.9 1.2 7.6 2.3 8.7 2.0 6.4 2.4 7.5 2.3 1.8 1.1 7.6 2.3 5.9 0.8 6.5 1.2 2.1 2.1 3.3 1.3 2.1 1.0 1.9 0.8 8.9 2.4 4.8 1.1 6.8 1.8 2.3 1.8 8.5 0.8 6.9 1.4 2.9 2.4 3.7 1.7 1.7 2.0 2.1 0.6 6.6 1.5 2.1 1.3 3.0 1.2 4.6 2.8 1.9 2.8 8.6 1.2 1.6 1.2 7.5 2.0 5.7 1.4 7.8 0.9 2.0 2.6 1.8 1.5 4.2 2.6 7.4 2.4 2.7 0.9 7.8 2.6 7.5 3.0 8.9 0.6"/>
<path d="M8.4,210.7 L9.4,212.5 L10.8,214.4 L11.7,215.2 L12.7,216.0 L13.6,216.4 L14.7,216.8 L15.8,216.9 L16.9,216.6 L18.1,215.8 L19.3,214.7 L20.5,213.1 L21.8,211.9 L23.0,210.3 L24.2,208.5 L25.5,207.2 L26.3,206.2 L27.2,205.1 L28.1,203.8 L29.0,203.2 L30.1,202.7 L30.8,202.4 L31.7,202.4 L32.5,202.7 L33.4,203.0 L34.3,203.2 L35.4,203.7 L36.5,203.9 L37.3,204.1 L38.3,204.1 L39.3,204.5 L40.3,204.6 L41.4,204.9 L42.5,205.2 L43.6,205.5 L44.6,205.5 L45.6,205.8 L46.6,206.3 L47.5,206.6 L48.4,207.0 L49.3,207.3 L50.1,207.8 L51.0,208.3 L51.8,208.6 L52.7,209.0 L53.7,209.6 L54.8,210.1 L55.6,210.4 L56.4,210.8 L57.1,211.2 L57.9,211.6 L58.7,211.8 L59.5,212.2 L60.4,212.6 L61.3,213.0 L62.3,213.5 L63.3,214.0 L64.5,214.5 L65.7,214.9 L67.1,215.4 L67.8,215.6 L68.6,215.7 L69.4,216.0 L70.2,216.5 L71.0,216.6 L71.9,217.1 L72.8,217.3 L73.8,217.6 L74.7,217.8 L75.7,218.1 L76.6,218.5 L77.6,218.8 L78.6,219.2 L79.6,219.4 L80.6,219.8 L81.7,220.1 L82.7,220.4 L83.7,220.7 L84.7,220.9 L85.7,221.3 L86.7,221.5 L87.7,221.8 L88.7,222.0 L89.6,222.2 L90.6,222.5 L91.5,222.7 L92.5,222.9 L93.5,223.1 L94.5,223.3 L95.5,223.5 L96.5,223.6 L97.5,223.8 L98.5,223.9 L99.5,224.1 L100.5,224.2 L101.5,224.3 L102.5,224.5 L103.5,224.6 L104.5,224.7 L105.4,224.8 L106.4,224.9 L107.3,225.0 L108.3,225.0 L109.2,225.2 L110.1,225.3 L110.9,225.4 L111.8,225.5 L112.6,225.5 L113.4,225.6 L114.2,225.7 L115.4,225.8 L116.5,226.0 L117.6,226.1 L118.6,226.1 L119.6,226.2 L120.6,226.3 L121.5,226.3 L122.3,226.4 L123.2,226.4 L124.0,226.5 L124.9,226.5 L125.7,226.6 L126.5,226.6 L127.3,226.7 L128.1,226.8 L129.3,226.8 L130.5,226.9 L131.6,227.0 L132.8,227.1 L134.0,227.2 L135.0,227.3 L136.1,227.4 L137.0,227.5 L137.8,227.6 L138.6,227.6 L139.1,227.7 L139.1,227.7 L139.0,227.7 L138.2,227.7 L137.5,227.7 L136.8,227.7 L136.0,227.7 L135.3,227.7 L134.6,227.7 L133.8,227.7 L133.1,227.7 L132.4,227.7 L131.6,227.7 L130.9,227.7 L130.2,227.7 L129.4,227.7 L128.7,227.7 L128.0,227.7 L127.2,227.7 L126.5,227.7 L125.8,227.7 L125.0,227.7 L124.3,227.7 L123.6,227.7 L122.8,227.7 L122.1,227.7 L121.4,227.7 L120.6,227.7 L119.9,227.7 L119.2,227.7 L118.4,227.7 L117.7,227.7 L117.0,227.7 L116.2,227.7 L115.5,227.7 L114.8,227.7 L114.0,227.7 L113.3,227.7 L112.6,227.7 L111.8,227.7 L111.1,227.7 L110.4,227.7 L109.6,227.7 L108.9,227.7 L108.2,227.7 L107.4,227.7 L106.7,227.7 L106.0,227.7 L105.2,227.7 L104.5,227.7 L103.8,227.7 L103.0,227.7 L102.3,227.7 L101.6,227.7 L100.8,227.7 L100.1,227.7 L99.4,227.7 L98.6,227.7 L97.9,227.7 L97.2,227.7 L96.4,227.7 L95.7,227.7 L95.0,227.7 L94.2,227.7 L93.5,227.7 L92.8,227.7 L92.0,227.7 L91.3,227.7 L90.6,227.7 L89.8,227.7 L89.1,227.7 L88.4,227.7 L87.6,227.7 L86.9,227.7 L86.2,227.7 L85.4,227.7 L84.7,227.7 L84.0,227.7 L83.2,227.7 L82.5,227.7 L81.8,227.7 L81.0,227.7 L80.3,227.7 L79.6,227.7 L78.8,227.7 L78.1,227.7 L77.4,227.7 L76.6,227.7 L75.9,227.7 L75.2,227.7 L74.4,227.7 L73.7,227.7 L73.0,227.7 L72.2,227.7 L71.5,227.7 L70.8,227.7 L70.0,227.7 L69.3,227.7 L68.6,227.7 L67.8,227.7 L67.1,227.7 L66.4,227.7 L65.6,227.7 L64.9,227.7 L64.2,227.7 L63.4,227.7 L62.7,227.7 L62.0,227.7 L61.2,227.7 L60.5,227.7 L59.8,227.7 L59.0,227.7 L58.3,227.7 L57.6,227.7 L56.8,227.6 L56.1,227.6 L55.4,227.6 L54.6,227.6 L53.9,227.6 L53.2,227.6 L52.4,227.6 L51.7,227.6 L51.0,227.6 L50.2,227.6 L49.5,227.6 L48.8,227.6 L48.0,227.6 L47.3,227.6 L46.6,227.6 L45.8,227.5 L45.1,227.5 L44.4,227.5 L43.6,227.5 L42.9,227.5 L42.2,227.5 L41.4,227.4 L40.7,227.4 L40.0,227.4 L39.2,227.4 L38.5,227.3 L37.8,227.3 L37.0,227.3 L36.3,227.2 L35.6,227.2 L34.8,227.1 L34.1,227.1 L33.4,227.0 L32.6,227.0 L31.9,226.9 L31.2,226.8 L30.4,226.7 L29.7,226.6 L29.0,226.5 L28.2,226.4 L27.5,226.3 L26.8,226.1 L26.0,226.0 L25.3,225.8 L24.6,225.6 L23.8,225.4 L23.1,225.2 L22.4,224.9 L21.6,224.6 L20.9,224.3 L20.2,224.0 L19.4,223.6 L18.7,223.2 L18.0,222.8 L17.2,222.3 L16.5,221.8 L15.8,221.2 L15.0,220.5 L14.3,219.8 L13.6,219.0 L12.8,218.2 L12.1,217.2 L11.4,216.2 L10.6,215.0 L9.9,213.8 L9.2,212.4 L8.4,210.8 Z" fill="#eb007c" fill-opacity="0.9"/>
<path d="M144.64,225.56 L219.80,225.56" stroke="#eb007c" stroke-width="0.9" stroke-opacity="0.55" fill="none" stroke-dasharray="7.6 1.7 3.9 1.8 3.9 2.3 9.0 1.2 6.5 2.4 1.8 2.8 4.6 1.1 7.9 1.8 3.6 2.0 5.6 1.0 4.6 1.9 4.8 0.7 1.8 1.9 2.9 2.2 4.3 1.3 8.4 1.4 1.5 1.1 5.6 2.4 3.5 2.9 3.5 2.5 8.0 2.4 7.1 1.1 6.6 1.7 5.2 0.9 3.8 2.1 6.8 0.7 7.0 2.4 7.5 1.3 4.4 0.7 5.8 0.5 7.0 0.6 6.8 2.5 1.6 0.7 4.0 0.9 7.4 1.1 8.5 2.3 6.4 1.4 3.1 0.8 1.6 2.6 5.2 0.9 1.6 0.8 3.3 1.1 6.5 1.5 4.2 3.0 3.5 0.9 7.5 2.4"/>
<line x1="0.42" y1="239.58" x2="215.49" y2="239.58" stroke="#8a8a8a" stroke-width="1.3" />
<line x1="9.77" y1="239.58" x2="9.77" y2="241.78" stroke="#222" stroke-width="0.9" />
<line x1="28.47" y1="239.58" x2="28.47" y2="243.18" stroke="#222" stroke-width="0.9" />
<text x="28.47" y="255.08" font-size="9.3" text-anchor="middle" font-weight="bold" >2</text>
<line x1="47.18" y1="239.58" x2="47.18" y2="241.78" stroke="#222" stroke-width="0.9" />
<line x1="65.88" y1="239.58" x2="65.88" y2="243.18" stroke="#222" stroke-width="0.9" />
<text x="65.88" y="255.08" font-size="9.3" text-anchor="middle" font-weight="bold" >4</text>
<line x1="84.58" y1="239.58" x2="84.58" y2="241.78" stroke="#222" stroke-width="0.9" />
<line x1="103.28" y1="239.58" x2="103.28" y2="243.18" stroke="#222" stroke-width="0.9" />
<text x="103.28" y="255.08" font-size="9.3" text-anchor="middle" font-weight="bold" >6</text>
<line x1="121.98" y1="239.58" x2="121.98" y2="241.78" stroke="#222" stroke-width="0.9" />
<line x1="140.68" y1="239.58" x2="140.68" y2="243.18" stroke="#222" stroke-width="0.9" />
<text x="140.68" y="255.08" font-size="9.3" text-anchor="middle" font-weight="bold" >8</text>
<line x1="159.38" y1="239.58" x2="159.38" y2="241.78" stroke="#222" stroke-width="0.9" />
<line x1="178.08" y1="239.58" x2="178.08" y2="243.18" stroke="#222" stroke-width="0.9" />
<text x="178.08" y="255.08" font-size="9.3" text-anchor="middle" font-weight="bold" >10</text>
<line x1="196.79" y1="239.58" x2="196.79" y2="241.78" stroke="#222" stroke-width="0.9" />
<line x1="215.49" y1="239.58" x2="215.49" y2="243.18" stroke="#222" stroke-width="0.9" />
<text x="215.49" y="255.08" font-size="9.3" text-anchor="middle" font-weight="bold" >12</text>
<text x="117.89" y="270.38" font-size="9.3" text-anchor="middle" font-weight="bold" >Frequency (GHz)</text>
<line x1="282.54" y1="85.50" x2="215.49" y2="239.58" stroke="#222" stroke-width="1.0" />
<text x="285.90" y="93.32" font-size="9.3" text-anchor="start" font-weight="bold" >10</text>
<text x="281.59" y="103.60" font-size="9.3" text-anchor="start" font-weight="bold" >30</text>
<text x="277.02" y="114.49" font-size="9.3" text-anchor="start" font-weight="bold" >50</text>
<text x="272.16" y="126.05" font-size="9.3" text-anchor="start" font-weight="bold" >70</text>
<text x="267.00" y="138.35" font-size="9.3" text-anchor="start" font-weight="bold" >90</text>
<text x="261.50" y="151.47" font-size="9.3" text-anchor="start" font-weight="bold" >130</text>
<text x="255.62" y="165.48" font-size="9.3" text-anchor="start" font-weight="bold" >170</text>
<text x="249.33" y="180.47" font-size="9.3" text-anchor="start" font-weight="bold" >210</text>
<text x="242.58" y="196.57" font-size="9.3" text-anchor="start" font-weight="bold" >230</text>
<text x="235.31" y="213.89" font-size="9.3" text-anchor="start" font-weight="bold" >270</text>
<text x="227.47" y="232.57" font-size="9.3" text-anchor="start" font-weight="bold" >300</text>
<line x1="282.54" y1="85.50" x2="282.54" y2="10.50" stroke="#8a8a8a" stroke-width="1.0" />
<line x1="282.54" y1="85.50" x2="285.34" y2="85.50" stroke="#8a8a8a" stroke-width="1.0" />
<text x="289.54" y="87.20" font-size="9.3" text-anchor="start" font-weight="bold" >0</text>
<line x1="282.54" y1="76.12" x2="283.94" y2="76.12" stroke="#8a8a8a" stroke-width="1.0" />
<line x1="282.54" y1="66.75" x2="285.34" y2="66.75" stroke="#8a8a8a" stroke-width="1.0" />
<text x="289.54" y="69.10" font-size="9.3" text-anchor="start" font-weight="bold" >20</text>
<line x1="282.54" y1="57.38" x2="283.94" y2="57.38" stroke="#8a8a8a" stroke-width="1.0" />
<line x1="282.54" y1="48.00" x2="285.34" y2="48.00" stroke="#8a8a8a" stroke-width="1.0" />
<text x="289.54" y="51.00" font-size="9.3" text-anchor="start" font-weight="bold" >40</text>
<line x1="282.54" y1="38.62" x2="283.94" y2="38.62" stroke="#8a8a8a" stroke-width="1.0" />
<line x1="282.54" y1="29.25" x2="285.34" y2="29.25" stroke="#8a8a8a" stroke-width="1.0" />
<text x="289.54" y="32.90" font-size="9.3" text-anchor="start" font-weight="bold" >60</text>
<line x1="282.54" y1="19.88" x2="283.94" y2="19.88" stroke="#8a8a8a" stroke-width="1.0" />
<line x1="282.54" y1="10.50" x2="285.34" y2="10.50" stroke="#8a8a8a" stroke-width="1.0" />
<text x="289.54" y="14.80" font-size="9.3" text-anchor="start" font-weight="bold" >80</text>
<text x="208.80" y="37.70" font-size="9.3" text-anchor="start" font-weight="bold" >Ac : -5 dBm</text>
<text x="208.80" y="50.50" font-size="9.3" text-anchor="start" font-weight="bold" >DC Bias: +45 V</text>
<line x1="497.25" y1="90.42" x2="648.40" y2="90.42" stroke="#e9e9e9" stroke-width="1.0" />
<line x1="488.37" y1="100.70" x2="643.93" y2="100.70" stroke="#e9e9e9" stroke-width="1.0" />
<line x1="478.97" y1="111.59" x2="639.19" y2="111.59" stroke="#e9e9e9" stroke-width="1.0" />
<line x1="468.98" y1="123.15" x2="634.15" y2="123.15" stroke="#e9e9e9" stroke-width="1.0" />
<line x1="458.35" y1="135.45" x2="628.80" y2="135.45" stroke="#e9e9e9" stroke-width="1.0" />
<line x1="447.03" y1="148.57" x2="623.09" y2="148.57" stroke="#e9e9e9" stroke-width="1.0" />
<line x1="434.93" y1="162.58" x2="617.00" y2="162.58" stroke="#e9e9e9" stroke-width="1.0" />
<line x1="421.97" y1="177.57" x2="610.47" y2="177.57" stroke="#e9e9e9" stroke-width="1.0" />
<line x1="408.07" y1="193.67" x2="603.47" y2="193.67" stroke="#e9e9e9" stroke-width="1.0" />
<line x1="393.12" y1="210.99" x2="595.93" y2="210.99" stroke="#e9e9e9" stroke-width="1.0" />
<line x1="376.98" y1="229.67" x2="587.80" y2="229.67" stroke="#e9e9e9" stroke-width="1.0" />
<line x1="497.25" y1="90.42" x2="497.25" y2="14.36" stroke="#e9e9e9" stroke-width="1.0" />
<line x1="488.37" y1="100.70" x2="488.37" y2="22.42" stroke="#e9e9e9" stroke-width="1.0" />
<line x1="478.97" y1="111.59" x2="478.97" y2="30.96" stroke="#e9e9e9" stroke-width="1.0" />
<line x1="468.98" y1="123.15" x2="468.98" y2="40.03" stroke="#e9e9e9" stroke-width="1.0" />
<line x1="458.35" y1="135.45" x2="458.35" y2="49.68" stroke="#e9e9e9" stroke-width="1.0" />
<line x1="447.03" y1="148.57" x2="447.03" y2="59.97" stroke="#e9e9e9" stroke-width="1.0" />
<line x1="434.93" y1="162.58" x2="434.93" y2="70.96" stroke="#e9e9e9" stroke-width="1.0" />
<line x1="421.97" y1="177.57" x2="421.97" y2="82.72" stroke="#e9e9e9" stroke-width="1.0" />
<line x1="408.07" y1="193.67" x2="408.07" y2="95.34" stroke="#e9e9e9" stroke-width="1.0" />
<line x1="393.12" y1="210.99" x2="393.12" y2="108.93" stroke="#e9e9e9" stroke-width="1.0" />
<line x1="376.98" y1="229.67" x2="376.98" y2="123.58" stroke="#e9e9e9" stroke-width="1.0" />
<line x1="520.94" y1="85.50" x2="396.47" y2="239.58" stroke="#c4c4c4" stroke-width="0.7" />
<line x1="546.86" y1="85.50" x2="433.88" y2="239.58" stroke="#c4c4c4" stroke-width="0.7" />
<line x1="572.78" y1="85.50" x2="471.28" y2="239.58" stroke="#c4c4c4" stroke-width="0.7" />
<line x1="598.70" y1="85.50" x2="508.68" y2="239.58" stroke="#c4c4c4" stroke-width="0.7" />
<line x1="624.62" y1="85.50" x2="546.08" y2="239.58" stroke="#c4c4c4" stroke-width="0.7" />
<line x1="501.50" y1="66.75" x2="368.42" y2="212.52" stroke="#c4c4c4" stroke-width="0.8" />
<line x1="501.50" y1="48.00" x2="368.42" y2="185.46" stroke="#c4c4c4" stroke-width="0.8" />
<line x1="501.50" y1="29.25" x2="368.42" y2="158.41" stroke="#c4c4c4" stroke-width="0.8" />
<line x1="520.94" y1="85.50" x2="520.94" y2="10.50" stroke="#c4c4c4" stroke-width="0.8" />
<line x1="546.86" y1="85.50" x2="546.86" y2="10.50" stroke="#c4c4c4" stroke-width="0.8" />
<line x1="572.78" y1="85.50" x2="572.78" y2="10.50" stroke="#c4c4c4" stroke-width="0.8" />
<line x1="598.70" y1="85.50" x2="598.70" y2="10.50" stroke="#c4c4c4" stroke-width="0.8" />
<line x1="624.62" y1="85.50" x2="624.62" y2="10.50" stroke="#c4c4c4" stroke-width="0.8" />
<line x1="501.50" y1="85.50" x2="650.54" y2="85.50" stroke="#d4d4d4" stroke-width="0.9" />
<line x1="501.50" y1="10.50" x2="368.42" y2="131.35" stroke="#a4a4a4" stroke-width="0.9" />
<line x1="501.50" y1="10.50" x2="650.54" y2="10.50" stroke="#a4a4a4" stroke-width="0.9" />
<line x1="501.50" y1="85.50" x2="501.50" y2="10.50" stroke="#a4a4a4" stroke-width="0.9" />
<line x1="368.42" y1="239.58" x2="368.42" y2="131.35" stroke="#b4b4b4" stroke-width="0.9" />
<line x1="501.50" y1="85.50" x2="368.42" y2="239.58" stroke="#a4a4a4" stroke-width="0.9" />
<path d="M497.2,73.3 L497.4,73.9 L497.5,74.3 L497.7,73.5 L497.9,74.5 L498.1,74.7 L498.3,74.8 L498.6,74.6 L498.8,74.0 L499.1,75.5 L499.4,74.6 L499.6,74.9 L499.9,76.6 L500.2,77.0 L500.5,77.2 L500.7,76.3 L501.0,77.0 L501.3,76.4 L501.6,76.4 L501.8,77.1 L502.1,77.3 L502.3,77.8 L502.5,77.7 L502.8,76.3 L503.1,76.2 L503.3,75.6 L503.6,75.5 L503.8,74.7 L504.0,74.1 L504.3,72.8 L504.5,73.6 L504.7,72.2 L504.9,71.7 L505.2,69.6 L505.4,68.6 L505.6,69.2 L505.9,68.5 L506.2,67.4 L506.4,66.3 L506.7,64.2 L506.9,64.6 L507.1,62.6 L507.4,63.1 L507.6,61.6 L507.9,61.6 L508.2,59.3 L508.4,58.8 L508.7,56.4 L509.0,54.9 L509.2,55.8 L509.5,56.0 L509.8,51.8 L510.0,50.7 L510.3,52.0 L510.5,51.0 L510.8,47.8 L511.0,50.1 L511.2,49.2 L511.4,46.5 L511.5,45.8 L511.7,45.0 L512.2,41.2 L512.5,40.6 L512.6,39.0 L512.7,37.8 L513.0,35.9 L513.2,34.4 L513.4,33.1 L513.6,30.3 L513.9,30.2 L514.1,30.1 L514.4,30.0 L514.6,27.7 L514.9,28.4 L515.2,24.8 L515.4,25.3 L515.6,24.3 L515.9,25.8 L516.1,24.3 L516.4,22.1 L516.7,19.3 L516.9,22.4 L517.2,23.2 L517.4,20.2 L517.7,23.3 L517.9,22.2 L518.1,23.3 L518.3,21.0 L518.6,24.0 L518.8,25.3 L518.9,25.1 L519.2,28.8 L519.6,33.6 L519.8,32.6 L520.0,34.6 L520.2,31.0 L520.4,33.7 L520.7,31.7 L520.9,35.6 L521.2,32.8 L521.5,36.8 L521.8,33.2 L522.0,36.6 L522.3,38.0 L522.6,33.9 L522.8,34.9 L523.1,38.7 L523.3,37.3 L523.5,38.1 L523.8,39.9 L524.1,39.2 L524.3,36.1 L524.6,40.1 L524.8,38.3 L525.0,38.6 L525.3,38.8 L525.5,40.1 L525.7,38.5 L525.9,42.1 L526.2,41.8 L526.4,42.3 L526.6,43.8 L526.8,42.7 L527.1,41.5 L527.3,43.0 L527.5,44.9 L527.7,45.1 L528.0,44.5 L528.2,46.2 L528.5,46.5 L528.8,44.7 L529.0,47.7 L529.2,48.1 L529.5,48.5 L529.7,47.7 L529.9,49.7 L530.2,47.9 L530.4,49.1 L530.7,48.7 L530.9,49.2 L531.2,50.1 L531.5,51.6 L531.7,53.0 L532.0,52.5 L532.2,54.5 L532.5,54.9 L532.7,53.8 L533.0,54.9 L533.2,56.9 L533.5,56.7 L533.7,56.8 L534.0,58.6 L534.2,57.9 L534.5,60.0 L534.7,60.6 L535.0,60.7 L535.2,61.7 L535.4,61.0 L535.7,62.6 L535.9,63.6 L536.2,62.6 L536.4,63.2 L536.7,64.0 L536.9,66.2 L537.2,66.6 L537.4,67.4 L537.6,66.5 L537.9,67.9 L538.1,69.1 L538.3,67.6 L538.6,70.2 L538.8,70.7 L539.0,69.4 L539.3,71.2 L539.5,70.7 L539.8,71.9 L540.1,73.2 L540.3,73.1 L540.6,73.0 L540.8,74.5 L541.1,73.7 L541.3,74.9 L541.5,74.9 L541.8,75.5 L542.0,75.0 L542.2,75.9 L542.5,76.3 L542.7,77.0 L543.0,76.4 L543.3,77.5 L543.5,77.2 L543.8,78.2 L544.0,78.4 L544.3,78.0 L544.5,78.8 L544.7,78.6 L545.0,78.7 L545.2,79.5 L545.4,79.5 L545.7,80.0 L545.9,80.5 L546.2,79.9 L546.4,80.8 L546.7,80.6 L547.0,81.4 L547.2,81.7 L547.5,82.6 L547.7,82.4 L547.9,83.0 L548.2,83.4 L548.4,83.8 L548.6,84.1 L548.9,84.4 L549.1,84.2 L549.3,84.7 L549.6,85.2 L549.8,85.1 L550.1,85.0 L550.3,85.1 L550.5,86.0 L550.7,85.8 L551.0,86.0 L551.2,86.3 L551.4,86.5 L551.6,86.6 L551.9,86.8 L552.1,86.9 L552.3,87.1 L552.6,86.9 L552.9,86.8 L553.1,86.8 L553.4,87.4 L553.8,87.6 L554.0,87.6 L554.2,87.7 L554.4,87.5 L554.6,87.8 L554.9,87.7 L555.1,87.4 L555.3,87.6 L555.6,87.7 L555.9,87.6 L556.1,87.8 L556.4,87.7 L556.7,87.9 L556.9,88.1 L557.2,88.2 L557.5,87.7 L557.7,88.2 L558.0,88.0 L558.2,88.1 L558.5,88.1 L558.8,88.1 L559.0,88.1 L559.2,88.1 L559.5,88.2 L559.7,88.2 L559.9,88.2 L560.1,88.2 L560.3,88.2 L560.7,88.3 L560.9,88.3 L561.2,88.3 L561.5,88.4 L561.7,88.4 L562.0,88.4 L562.2,88.5 L562.4,88.5 L562.6,88.5 L562.8,88.5 L563.0,88.5 L563.3,88.5 L563.5,88.5 L563.7,88.5 L564.0,88.4 L564.3,88.3 L564.5,88.3 L564.7,88.2 L564.9,88.1 L565.1,88.1 L565.3,87.7 L565.5,87.7 L565.7,87.7 L565.9,88.0 L566.1,87.9 L566.4,87.5 L566.6,87.6 L566.8,87.5 L567.0,87.3 L567.3,86.8 L567.5,86.7 L567.8,86.5 L568.0,86.3 L568.3,86.1 L568.6,86.5 L568.9,85.6 L569.2,86.0 L569.5,85.5 L569.7,85.3 L569.9,85.6 L570.1,84.9 L570.4,85.0 L570.6,84.8 L570.8,84.9 L571.0,84.4 L571.3,84.7 L571.5,84.4 L571.8,83.8 L572.0,83.4 L572.3,83.6 L572.5,83.4 L572.8,83.5 L573.1,83.0 L573.3,83.1 L573.6,82.8 L573.9,82.5 L574.1,82.2 L574.4,82.1 L574.7,81.5 L574.9,81.9 L575.2,81.7 L575.5,80.8 L575.7,81.0 L576.0,80.0 L576.2,80.4 L576.5,80.3 L576.7,80.1 L577.0,80.5 L577.2,79.7 L577.5,79.9 L577.7,80.0 L577.9,79.9 L578.1,79.9 L578.3,79.6 L578.5,79.4 L578.7,79.1 L579.1,78.5 L579.4,79.5 L579.6,79.4 L579.9,79.5 L580.2,79.1 L580.4,79.2 L580.7,79.7 L580.9,79.6 L581.1,79.8 L581.3,80.0 L581.5,79.9 L581.7,80.4 L581.9,80.5 L582.2,80.5 L582.4,80.7 L582.6,80.6 L582.8,80.9 L583.0,80.6 L583.2,81.1 L583.5,81.1 L583.7,81.4 L584.0,80.3 L584.2,80.6 L584.4,81.4 L584.7,80.6 L584.9,80.8 L585.1,80.4 L585.3,80.3 L585.6,80.5 L585.8,80.4 L586.0,80.9 L586.3,80.9 L586.5,80.6 L586.8,80.4 L587.0,80.7 L587.2,79.7 L587.5,80.4 L587.7,80.5 L588.0,79.8 L588.2,80.2 L588.5,80.2 L588.7,80.2 L589.0,79.6 L589.3,80.2 L589.5,79.4 L589.8,80.0 L590.0,80.1 L590.3,80.0 L590.6,79.7 L590.8,79.2 L591.0,78.9 L591.2,79.9 L591.5,78.7 L591.7,79.2 L591.9,79.7 L592.2,79.3 L592.4,79.5 L592.6,78.3 L592.9,79.1 L593.1,79.4 L593.3,79.3 L593.6,79.0 L593.8,79.2 L594.1,78.7 L594.3,78.6 L594.5,78.3 L594.8,78.6 L595.0,78.7 L595.3,78.5 L595.5,78.4 L595.8,78.8 L596.0,78.7 L596.3,78.7 L596.5,77.8 L596.8,77.8 L597.0,78.6 L597.2,78.5 L597.5,77.3 L597.7,77.7 L598.0,78.6 L598.2,78.2 L598.5,77.3 L598.7,77.8 L598.9,78.4 L599.2,77.6 L599.4,77.9 L599.7,77.4 L599.9,77.7 L600.1,78.8 L600.4,78.3 L600.6,78.0 L600.9,77.8 L601.1,78.0 L601.4,78.0 L601.6,78.9 L601.9,78.7 L602.1,79.0 L602.4,78.0 L602.6,77.9 L602.8,79.1 L603.1,79.2 L603.3,79.3 L603.6,79.5 L603.8,79.6 L604.0,79.7 L604.3,78.5 L604.5,79.1 L604.8,79.8 L605.0,78.8 L605.2,80.1 L605.4,79.0 L605.7,80.2 L605.9,80.1 L606.1,80.4 L606.3,80.1 L606.6,79.9 L606.9,79.6 L607.1,80.1 L607.4,80.8 L607.6,80.5 L607.8,79.9 L608.1,80.5 L608.3,81.2 L608.5,80.2 L608.8,81.4 L609.0,80.4 L609.2,81.0 L609.4,81.6 L609.7,81.2 L609.9,81.2 L610.1,81.2 L610.3,81.2 L610.6,81.7 L610.8,81.5 L611.1,82.4 L611.3,82.6 L611.6,82.2 L611.8,82.1 L612.1,82.2 L612.3,82.9 L612.6,82.3 L612.9,82.8 L613.1,83.3 L613.3,82.6 L613.6,83.1 L613.8,83.3 L614.0,83.1 L614.2,83.8 L614.5,83.7 L614.7,83.8 L615.0,83.2 L615.2,83.3 L615.5,83.9 L615.7,83.8 L616.0,84.2 L616.2,84.4 L616.5,84.2 L616.7,84.5 L617.0,84.0 L617.3,84.3 L617.5,84.3 L617.8,84.4 L618.0,84.5 L618.3,85.2 L618.5,85.1 L618.8,85.3 L619.1,85.5 L619.3,85.1 L619.6,85.3 L619.8,85.1 L620.1,85.7 L620.3,85.2 L620.5,85.7 L620.8,85.4 L621.0,85.4 L621.2,85.6 L621.5,85.7 L621.7,86.2 L621.9,86.0 L622.1,86.0 L622.4,85.8 L622.7,86.2 L623.0,86.3 L623.2,86.2 L623.5,86.7 L623.7,86.2 L624.0,86.9 L624.3,87.0 L624.5,86.8 L624.7,86.7 L625.0,87.1 L625.2,86.6 L625.4,87.2 L625.7,86.7 L625.9,87.0 L626.1,87.2 L626.4,87.1 L626.6,87.1 L626.8,87.5 L627.0,87.3 L627.3,87.1 L627.5,87.4 L627.7,87.6 L628.0,87.6 L628.2,87.5 L628.4,87.5 L628.7,87.7 L628.9,87.5 L629.2,87.7 L629.4,87.9 L629.7,87.9 L629.9,87.8 L630.2,88.0 L630.5,88.0 L630.7,88.1 L631.0,88.1 L631.2,87.7 L631.5,87.9 L631.7,88.1 L632.0,88.1 L632.3,88.1 L632.5,88.2 L632.8,88.2 L633.0,88.2 L633.3,88.3 L633.5,88.3 L633.7,88.3 L634.0,88.4 L634.2,88.4 L634.4,88.4 L634.6,88.4 L634.9,88.5 L635.1,88.5 L635.3,88.5 L635.6,88.6 L635.9,88.6 L636.2,88.6 L636.5,88.7 L636.8,88.7 L637.1,88.8 L637.4,88.8 L637.6,88.8 L637.9,88.8 L638.1,88.9 L638.3,88.9 L638.6,88.9 L638.7,88.9 L638.9,89.0 L639.1,89.0 L639.2,89.0 L639.2,89.0 L639.2,89.0 L638.7,89.0 L638.1,89.0 L637.6,89.0 L637.1,89.0 L636.6,89.0 L636.0,89.0 L635.5,89.0 L635.0,89.0 L634.5,89.0 L633.9,89.0 L633.4,89.0 L632.9,89.0 L632.4,89.0 L631.8,89.0 L631.3,89.0 L630.8,89.0 L630.3,89.0 L629.7,89.0 L629.2,89.0 L628.7,89.0 L628.2,89.0 L627.6,89.0 L627.1,89.0 L626.6,89.0 L626.1,89.0 L625.5,89.0 L625.0,89.0 L624.5,89.0 L624.0,89.0 L623.4,89.0 L622.9,89.0 L622.4,89.0 L621.8,89.0 L621.3,89.0 L620.8,89.0 L620.3,89.0 L619.7,89.0 L619.2,89.0 L618.7,89.0 L618.2,89.0 L617.6,89.0 L617.1,89.0 L616.6,89.0 L616.1,89.0 L615.5,89.0 L615.0,89.0 L614.5,89.0 L614.0,89.0 L613.4,89.0 L612.9,89.0 L612.4,89.0 L611.9,89.0 L611.3,89.0 L610.8,89.0 L610.3,89.0 L609.8,89.0 L609.2,89.0 L608.7,89.0 L608.2,89.0 L607.7,89.0 L607.1,89.0 L606.6,89.0 L606.1,89.0 L605.6,89.0 L605.0,89.0 L604.5,89.0 L604.0,89.0 L603.4,89.0 L602.9,89.0 L602.4,89.0 L601.9,89.0 L601.3,89.0 L600.8,89.0 L600.3,89.0 L599.8,89.0 L599.2,89.0 L598.7,89.0 L598.2,89.0 L597.7,89.0 L597.1,89.0 L596.6,89.0 L596.1,89.0 L595.6,89.0 L595.0,89.0 L594.5,89.0 L594.0,89.0 L593.5,89.0 L592.9,89.0 L592.4,89.0 L591.9,89.0 L591.4,89.0 L590.8,89.0 L590.3,89.0 L589.8,89.0 L589.3,89.0 L588.7,89.0 L588.2,89.0 L587.7,89.0 L587.1,89.0 L586.6,89.0 L586.1,89.0 L585.6,89.0 L585.0,89.0 L584.5,89.0 L584.0,89.0 L583.5,89.0 L582.9,89.0 L582.4,89.0 L581.9,89.0 L581.4,89.0 L580.8,89.0 L580.3,89.0 L579.8,89.0 L579.3,89.0 L578.7,89.0 L578.2,89.0 L577.7,89.0 L577.2,89.0 L576.6,89.0 L576.1,89.0 L575.6,89.0 L575.1,89.0 L574.5,89.0 L574.0,89.0 L573.5,89.0 L573.0,89.0 L572.4,89.0 L571.9,89.0 L571.4,89.0 L570.9,89.0 L570.3,89.0 L569.8,89.0 L569.3,89.0 L568.7,89.0 L568.2,89.0 L567.7,89.0 L567.2,89.0 L566.6,89.0 L566.1,89.0 L565.6,89.0 L565.1,89.0 L564.5,89.0 L564.0,89.0 L563.5,89.0 L563.0,89.0 L562.4,89.0 L561.9,89.0 L561.4,89.0 L560.9,89.0 L560.3,89.0 L559.8,89.0 L559.3,89.0 L558.8,89.0 L558.2,89.0 L557.7,89.0 L557.2,89.0 L556.7,89.0 L556.1,89.0 L555.6,89.0 L555.1,89.0 L554.6,89.0 L554.0,89.0 L553.5,89.0 L553.0,89.0 L552.5,89.0 L551.9,89.0 L551.4,89.0 L550.9,89.0 L550.3,89.0 L549.8,89.0 L549.3,89.0 L548.8,89.0 L548.2,89.0 L547.7,89.0 L547.2,89.0 L546.7,89.0 L546.1,89.0 L545.6,89.0 L545.1,89.0 L544.6,89.0 L544.0,89.0 L543.5,89.0 L543.0,89.0 L542.5,89.0 L541.9,89.0 L541.4,89.0 L540.9,89.0 L540.4,89.0 L539.8,89.0 L539.3,89.0 L538.8,89.0 L538.3,89.0 L537.7,89.0 L537.2,89.0 L536.7,89.0 L536.2,89.0 L535.6,89.0 L535.1,89.0 L534.6,89.0 L534.1,89.0 L533.5,89.0 L533.0,89.0 L532.5,89.0 L531.9,89.0 L531.4,89.0 L530.9,89.0 L530.4,89.0 L529.8,89.0 L529.3,88.9 L528.8,88.9 L528.3,88.9 L527.7,88.9 L527.2,88.9 L526.7,88.9 L526.2,88.9 L525.6,88.9 L525.1,88.9 L524.6,88.9 L524.1,88.9 L523.5,88.9 L523.0,88.8 L522.5,88.8 L522.0,88.8 L521.4,88.8 L520.9,88.8 L520.4,88.8 L519.9,88.7 L519.3,88.7 L518.8,88.7 L518.3,88.6 L517.8,88.6 L517.2,88.6 L516.7,88.5 L516.2,88.5 L515.6,88.4 L515.1,88.4 L514.6,88.3 L514.1,88.3 L513.5,88.2 L513.0,88.1 L512.5,88.0 L512.0,87.9 L511.4,87.8 L510.9,87.7 L510.4,87.5 L509.9,87.4 L509.3,87.2 L508.8,87.1 L508.3,86.9 L507.8,86.7 L507.2,86.4 L506.7,86.2 L506.2,85.9 L505.7,85.6 L505.1,85.2 L504.6,84.9 L504.1,84.4 L503.6,84.0 L503.0,83.5 L502.5,82.9 L502.0,82.3 L501.5,81.7 L500.9,80.9 L500.4,80.1 L499.9,79.3 L499.4,78.3 L498.8,77.2 L498.3,76.0 L497.8,74.7 L497.2,73.3 Z" fill="#0f23ff" fill-opacity="0.9"/>
<path d="M640.51,88.62 L648.40,88.62" stroke="#0f23ff" stroke-width="0.9" stroke-opacity="0.75" fill="none" stroke-dasharray="16.2 0.3 10.8 0.9 22.7 0.9 10.6 0.3 24.5 0.8 17.1 0.8 14.6 0.8 14.8 0.4 26.6 0.5 24.7 0.7 26.1 0.7 26.9 0.5 21.2 0.8 27.6 0.6 27.0 0.6"/>
<path d="M488.4,84.3 L488.5,84.3 L488.7,84.1 L488.8,83.8 L489.0,84.9 L489.2,85.2 L489.5,85.4 L489.7,84.8 L489.9,86.1 L490.2,85.5 L490.5,86.0 L490.7,87.1 L491.0,86.9 L491.3,87.3 L491.6,87.6 L491.9,86.6 L492.2,88.3 L492.4,88.5 L492.7,87.2 L493.0,88.2 L493.3,88.3 L493.5,88.0 L493.8,87.8 L494.0,86.3 L494.3,87.3 L494.5,86.8 L494.8,85.8 L495.0,85.3 L495.3,83.7 L495.5,83.3 L495.8,83.7 L496.0,83.2 L496.2,81.0 L496.5,79.7 L496.7,81.0 L497.0,78.8 L497.2,77.5 L497.5,77.3 L497.7,77.4 L498.0,75.0 L498.2,74.3 L498.5,74.8 L498.7,72.8 L498.9,73.1 L499.2,72.5 L499.4,71.1 L499.7,70.2 L500.0,69.1 L500.2,67.2 L500.5,65.3 L500.7,63.6 L501.0,62.4 L501.3,61.1 L501.5,61.2 L501.8,62.1 L502.1,61.4 L502.3,58.7 L502.6,58.0 L502.8,56.3 L503.1,57.5 L503.3,56.3 L503.6,51.7 L503.8,52.8 L504.0,51.3 L504.2,53.0 L504.4,51.3 L504.6,47.5 L505.0,47.9 L505.3,44.2 L505.5,47.8 L505.8,45.8 L506.0,42.7 L506.2,44.2 L506.4,41.3 L506.6,42.2 L506.9,43.6 L507.1,43.1 L507.3,37.1 L507.6,41.9 L507.8,41.2 L508.1,40.0 L508.4,37.1 L508.6,35.5 L508.9,37.9 L509.1,37.5 L509.4,35.1 L509.6,38.4 L509.8,38.0 L510.0,36.6 L510.3,37.6 L510.5,42.2 L510.7,44.3 L510.9,46.4 L511.4,45.4 L511.5,46.1 L511.7,44.5 L512.0,46.5 L512.2,49.7 L512.4,47.5 L512.7,46.3 L513.0,50.6 L513.2,51.9 L513.5,51.3 L513.8,52.1 L514.1,52.8 L514.3,53.4 L514.6,53.6 L514.9,50.4 L515.2,54.4 L515.4,52.7 L515.7,54.7 L515.9,55.1 L516.2,52.4 L516.4,55.3 L516.7,55.9 L516.9,55.1 L517.2,54.1 L517.5,55.3 L517.7,53.6 L518.0,56.3 L518.2,56.0 L518.5,55.2 L518.7,56.8 L519.0,55.8 L519.2,57.4 L519.5,58.8 L519.7,59.2 L520.0,56.9 L520.2,57.5 L520.5,56.8 L520.8,58.7 L521.0,59.7 L521.3,61.6 L521.5,59.2 L521.8,62.6 L522.0,62.2 L522.3,63.5 L522.5,63.3 L522.8,64.0 L523.0,64.1 L523.3,63.5 L523.5,64.7 L523.8,66.2 L524.0,64.7 L524.3,65.5 L524.5,65.6 L524.8,68.6 L525.0,67.7 L525.2,67.0 L525.5,69.9 L525.7,70.6 L526.0,69.1 L526.2,71.3 L526.5,71.7 L526.8,70.8 L527.0,72.8 L527.3,73.8 L527.6,74.2 L527.8,74.3 L528.0,73.6 L528.3,75.0 L528.5,74.1 L528.8,76.2 L529.0,76.3 L529.3,75.7 L529.5,76.4 L529.8,76.7 L530.0,75.6 L530.3,77.9 L530.6,78.3 L530.8,78.8 L531.1,78.4 L531.3,79.1 L531.6,79.1 L531.8,80.1 L532.1,80.4 L532.3,80.2 L532.6,79.6 L532.8,80.9 L533.0,79.7 L533.3,81.1 L533.6,81.8 L533.8,81.3 L534.1,82.8 L534.3,82.5 L534.5,82.2 L534.7,83.3 L535.0,84.0 L535.2,84.6 L535.4,84.2 L535.6,85.2 L535.9,85.3 L536.2,85.4 L536.4,84.8 L536.7,85.9 L537.1,86.6 L537.3,86.1 L537.5,87.4 L537.7,87.5 L537.9,87.3 L538.2,87.8 L538.4,88.5 L538.7,88.6 L538.9,88.2 L539.2,89.4 L539.4,89.0 L539.7,90.1 L540.0,89.1 L540.2,89.9 L540.5,90.7 L540.8,90.0 L541.0,90.6 L541.3,91.8 L541.6,91.9 L541.8,91.9 L542.1,91.5 L542.4,92.8 L542.6,93.1 L542.9,93.2 L543.1,93.6 L543.4,93.6 L543.6,93.6 L543.8,94.0 L544.1,94.4 L544.4,94.7 L544.6,94.3 L544.9,94.9 L545.2,95.1 L545.4,95.3 L545.7,95.3 L545.9,95.3 L546.1,95.6 L546.4,95.9 L546.6,96.4 L546.9,96.6 L547.1,96.8 L547.3,96.4 L547.6,97.1 L547.8,97.0 L548.0,96.8 L548.3,97.4 L548.5,97.5 L548.8,97.6 L549.0,97.3 L549.2,97.7 L549.5,97.6 L549.7,98.2 L550.0,97.9 L550.2,98.2 L550.4,98.3 L550.6,98.4 L550.9,98.4 L551.1,98.5 L551.3,98.6 L551.5,98.7 L551.8,98.7 L552.0,98.8 L552.2,98.8 L552.5,98.8 L552.7,98.9 L553.0,98.9 L553.2,98.9 L553.5,98.9 L553.8,98.9 L554.1,98.8 L554.4,98.8 L554.7,98.7 L554.9,98.7 L555.1,98.7 L555.3,98.6 L555.5,98.5 L555.7,98.5 L556.0,98.4 L556.2,98.3 L556.5,98.3 L556.7,98.0 L557.0,97.9 L557.2,97.7 L557.5,97.7 L557.7,97.5 L558.0,97.8 L558.2,97.6 L558.5,97.3 L558.8,97.4 L559.0,97.4 L559.3,97.1 L559.5,96.7 L559.8,96.6 L560.1,97.0 L560.3,96.7 L560.6,96.7 L560.8,96.5 L561.1,95.8 L561.3,96.2 L561.6,96.1 L561.8,96.0 L562.1,95.8 L562.3,95.4 L562.5,95.6 L562.8,95.6 L563.0,95.4 L563.3,95.2 L563.6,94.4 L563.9,94.9 L564.1,94.2 L564.4,94.6 L564.7,93.8 L564.9,94.1 L565.2,93.4 L565.4,93.6 L565.7,93.6 L565.9,93.4 L566.2,92.5 L566.4,92.6 L566.7,92.5 L566.9,92.4 L567.2,91.8 L567.4,91.9 L567.7,92.1 L567.9,91.4 L568.1,91.5 L568.4,90.6 L568.6,90.9 L568.8,90.4 L569.1,91.1 L569.3,90.3 L569.5,90.3 L569.8,89.8 L570.1,89.6 L570.3,90.1 L570.6,89.9 L570.8,89.5 L571.0,90.1 L571.3,89.7 L571.5,89.3 L571.7,89.5 L571.9,89.6 L572.2,89.0 L572.4,88.7 L572.6,89.8 L572.8,89.9 L573.1,89.3 L573.3,89.9 L573.6,88.6 L573.8,89.5 L574.1,89.4 L574.4,88.9 L574.6,88.8 L574.9,89.9 L575.1,89.6 L575.4,89.9 L575.6,89.6 L575.8,90.0 L576.0,89.0 L576.2,89.9 L576.4,89.9 L576.7,89.2 L576.9,89.4 L577.1,90.2 L577.3,90.1 L577.6,89.9 L577.8,90.6 L578.1,90.7 L578.3,89.8 L578.5,90.9 L578.8,90.3 L579.0,90.3 L579.3,90.6 L579.5,91.0 L579.8,90.3 L580.1,90.5 L580.3,91.4 L580.6,90.5 L580.8,91.0 L581.1,91.5 L581.4,91.6 L581.7,91.7 L581.9,90.9 L582.2,90.8 L582.5,91.5 L582.8,91.7 L583.1,91.7 L583.3,91.5 L583.5,91.6 L583.7,91.7 L583.9,91.5 L584.1,90.7 L584.4,91.6 L584.6,91.2 L584.8,91.0 L585.0,91.3 L585.3,91.3 L585.5,91.2 L585.7,91.1 L585.9,89.9 L586.2,90.0 L586.4,90.2 L586.6,89.7 L586.9,90.5 L587.1,90.5 L587.3,89.5 L587.6,89.9 L587.8,89.2 L588.0,90.0 L588.3,89.8 L588.5,89.3 L588.8,88.9 L589.0,89.8 L589.3,89.7 L589.5,89.7 L589.8,89.1 L590.0,88.3 L590.3,88.9 L590.6,89.4 L590.8,88.6 L591.1,88.6 L591.4,89.2 L591.6,88.0 L591.9,88.4 L592.2,88.7 L592.5,88.9 L592.7,89.0 L593.0,88.7 L593.3,88.8 L593.6,89.0 L593.9,88.4 L594.1,88.4 L594.3,87.8 L594.5,87.8 L594.7,88.8 L595.0,88.4 L595.2,89.0 L595.4,88.9 L595.7,88.8 L595.9,88.0 L596.1,89.4 L596.4,89.1 L596.6,89.3 L596.8,88.6 L597.1,88.4 L597.3,89.3 L597.6,89.8 L597.8,89.3 L598.1,89.3 L598.3,89.3 L598.6,89.2 L598.8,89.8 L599.1,89.7 L599.3,89.4 L599.6,90.4 L599.8,90.3 L600.1,89.8 L600.3,89.4 L600.6,89.5 L600.8,90.6 L601.1,89.7 L601.4,90.8 L601.6,90.7 L601.9,91.1 L602.1,90.7 L602.4,91.1 L602.7,90.8 L602.9,90.4 L603.2,91.6 L603.4,91.1 L603.7,91.3 L603.9,91.8 L604.2,92.0 L604.4,91.0 L604.7,91.5 L604.9,91.7 L605.2,92.4 L605.4,91.5 L605.7,92.3 L605.9,92.3 L606.2,92.3 L606.4,92.5 L606.7,91.9 L606.9,92.7 L607.1,92.5 L607.4,92.5 L607.6,92.3 L607.9,93.3 L608.1,93.2 L608.3,92.5 L608.5,93.1 L608.8,93.4 L609.0,92.9 L609.3,93.8 L609.6,93.8 L609.8,94.0 L610.1,93.6 L610.4,93.9 L610.6,94.2 L610.9,94.1 L611.2,94.4 L611.4,94.0 L611.7,94.1 L612.0,94.6 L612.2,94.1 L612.5,95.0 L612.7,94.7 L613.0,95.1 L613.3,95.2 L613.5,95.0 L613.8,95.4 L614.0,95.5 L614.3,95.6 L614.5,95.6 L614.8,95.2 L615.0,95.8 L615.3,96.0 L615.5,95.6 L615.8,95.6 L616.0,95.5 L616.2,96.4 L616.5,96.4 L616.7,96.4 L617.0,95.9 L617.2,96.5 L617.4,96.2 L617.7,96.9 L617.9,96.8 L618.1,96.7 L618.4,97.1 L618.6,97.0 L618.8,96.8 L619.0,96.9 L619.2,97.1 L619.5,97.0 L619.7,97.0 L619.9,97.4 L620.1,97.7 L620.3,97.8 L620.5,97.9 L620.7,97.4 L620.9,97.7 L621.2,97.8 L621.5,97.7 L621.9,97.9 L622.2,98.2 L622.5,98.1 L622.8,98.4 L623.1,98.3 L623.4,98.4 L623.7,98.4 L623.9,98.5 L624.2,98.5 L624.5,98.6 L624.8,98.6 L625.1,98.7 L625.4,98.7 L625.6,98.8 L625.9,98.8 L626.1,98.8 L626.4,98.9 L626.6,98.9 L626.9,98.9 L627.1,99.0 L627.3,99.0 L627.5,99.0 L627.7,99.0 L627.9,99.1 L628.1,99.1 L628.3,99.1 L628.5,99.1 L628.6,99.2 L628.8,99.2 L628.9,99.2 L629.0,99.2 L629.0,99.2 L629.0,99.2 L628.5,99.2 L628.0,99.2 L627.4,99.2 L626.9,99.2 L626.3,99.2 L625.8,99.2 L625.3,99.2 L624.7,99.2 L624.2,99.2 L623.6,99.2 L623.1,99.2 L622.6,99.2 L622.0,99.2 L621.5,99.2 L620.9,99.2 L620.4,99.2 L619.8,99.2 L619.3,99.2 L618.8,99.2 L618.2,99.2 L617.7,99.2 L617.1,99.2 L616.6,99.2 L616.1,99.2 L615.5,99.2 L615.0,99.2 L614.4,99.2 L613.9,99.2 L613.4,99.2 L612.8,99.2 L612.3,99.2 L611.7,99.2 L611.2,99.2 L610.7,99.2 L610.1,99.2 L609.6,99.2 L609.0,99.2 L608.5,99.2 L607.9,99.2 L607.4,99.2 L606.9,99.2 L606.3,99.2 L605.8,99.2 L605.2,99.2 L604.7,99.2 L604.2,99.2 L603.6,99.2 L603.1,99.2 L602.5,99.2 L602.0,99.2 L601.5,99.2 L600.9,99.2 L600.4,99.2 L599.8,99.2 L599.3,99.2 L598.7,99.2 L598.2,99.2 L597.7,99.2 L597.1,99.2 L596.6,99.2 L596.0,99.2 L595.5,99.2 L595.0,99.2 L594.4,99.2 L593.9,99.2 L593.3,99.2 L592.8,99.2 L592.3,99.2 L591.7,99.2 L591.2,99.2 L590.6,99.2 L590.1,99.2 L589.6,99.2 L589.0,99.2 L588.5,99.2 L587.9,99.2 L587.4,99.2 L586.8,99.2 L586.3,99.2 L585.8,99.2 L585.2,99.2 L584.7,99.2 L584.1,99.2 L583.6,99.2 L583.1,99.2 L582.5,99.2 L582.0,99.2 L581.4,99.2 L580.9,99.2 L580.4,99.2 L579.8,99.2 L579.3,99.2 L578.7,99.2 L578.2,99.2 L577.6,99.2 L577.1,99.2 L576.6,99.2 L576.0,99.2 L575.5,99.2 L574.9,99.2 L574.4,99.2 L573.9,99.2 L573.3,99.2 L572.8,99.2 L572.2,99.2 L571.7,99.2 L571.2,99.2 L570.6,99.2 L570.1,99.2 L569.5,99.2 L569.0,99.2 L568.5,99.2 L567.9,99.2 L567.4,99.2 L566.8,99.2 L566.3,99.2 L565.7,99.2 L565.2,99.2 L564.7,99.2 L564.1,99.2 L563.6,99.2 L563.0,99.2 L562.5,99.2 L562.0,99.2 L561.4,99.2 L560.9,99.2 L560.3,99.2 L559.8,99.2 L559.3,99.2 L558.7,99.2 L558.2,99.2 L557.6,99.2 L557.1,99.2 L556.5,99.2 L556.0,99.2 L555.5,99.2 L554.9,99.2 L554.4,99.2 L553.8,99.2 L553.3,99.2 L552.8,99.2 L552.2,99.2 L551.7,99.2 L551.1,99.2 L550.6,99.2 L550.1,99.2 L549.5,99.2 L549.0,99.2 L548.4,99.2 L547.9,99.2 L547.3,99.2 L546.8,99.2 L546.3,99.2 L545.7,99.2 L545.2,99.2 L544.6,99.2 L544.1,99.2 L543.6,99.2 L543.0,99.2 L542.5,99.2 L541.9,99.2 L541.4,99.2 L540.9,99.2 L540.3,99.2 L539.8,99.2 L539.2,99.2 L538.7,99.2 L538.2,99.2 L537.6,99.2 L537.1,99.2 L536.5,99.2 L536.0,99.2 L535.4,99.2 L534.9,99.2 L534.4,99.2 L533.8,99.2 L533.3,99.2 L532.7,99.2 L532.2,99.2 L531.7,99.2 L531.1,99.2 L530.6,99.2 L530.0,99.2 L529.5,99.2 L529.0,99.2 L528.4,99.2 L527.9,99.2 L527.3,99.2 L526.8,99.2 L526.2,99.2 L525.7,99.2 L525.2,99.2 L524.6,99.2 L524.1,99.2 L523.5,99.2 L523.0,99.2 L522.5,99.2 L521.9,99.2 L521.4,99.2 L520.8,99.2 L520.3,99.2 L519.8,99.2 L519.2,99.2 L518.7,99.2 L518.1,99.1 L517.6,99.1 L517.1,99.1 L516.5,99.1 L516.0,99.1 L515.4,99.1 L514.9,99.1 L514.3,99.1 L513.8,99.1 L513.3,99.0 L512.7,99.0 L512.2,99.0 L511.6,99.0 L511.1,98.9 L510.6,98.9 L510.0,98.9 L509.5,98.8 L508.9,98.8 L508.4,98.8 L507.9,98.7 L507.3,98.7 L506.8,98.6 L506.2,98.6 L505.7,98.5 L505.1,98.4 L504.6,98.3 L504.1,98.2 L503.5,98.1 L503.0,98.0 L502.4,97.9 L501.9,97.8 L501.4,97.6 L500.8,97.5 L500.3,97.3 L499.7,97.1 L499.2,96.9 L498.7,96.7 L498.1,96.4 L497.6,96.1 L497.0,95.8 L496.5,95.5 L495.9,95.1 L495.4,94.7 L494.9,94.2 L494.3,93.7 L493.8,93.2 L493.2,92.6 L492.7,91.9 L492.2,91.2 L491.6,90.4 L491.1,89.5 L490.5,88.5 L490.0,87.5 L489.5,86.3 L488.9,85.0 L488.4,83.6 Z" fill="#0087f7" fill-opacity="0.9"/>
<path d="M631.75,98.72 L643.93,98.72" stroke="#0087f7" stroke-width="0.9" stroke-opacity="0.75" fill="none" stroke-dasharray="25.6 0.6 28.7 0.4 20.5 0.6 13.6 0.3 24.8 0.6 21.0 0.8 24.7 0.5 23.4 0.9 28.1 0.3 11.9 0.4 9.1 0.4 21.1 0.5 18.3 0.5 25.8 0.3"/>
<path d="M479.0,95.0 L479.1,95.0 L479.3,95.1 L479.4,94.3 L479.6,95.3 L479.9,95.2 L480.1,96.3 L480.3,96.2 L480.6,95.9 L480.8,96.8 L481.1,96.4 L481.4,96.8 L481.7,97.9 L482.0,98.5 L482.3,97.9 L482.6,98.9 L482.9,99.1 L483.2,98.5 L483.5,98.4 L483.7,98.4 L484.0,98.2 L484.3,99.1 L484.5,98.9 L484.8,98.6 L485.0,97.1 L485.3,97.9 L485.5,97.4 L485.8,97.0 L486.0,96.4 L486.3,95.9 L486.5,95.0 L486.8,94.5 L487.0,93.6 L487.2,91.7 L487.5,92.3 L487.7,90.4 L488.0,89.7 L488.2,89.3 L488.5,88.4 L488.8,87.1 L489.0,86.7 L489.3,86.5 L489.6,85.5 L489.8,84.8 L490.1,83.7 L490.4,81.3 L490.6,82.2 L490.8,82.1 L491.1,80.6 L491.4,78.7 L491.6,79.1 L491.9,77.4 L492.2,78.1 L492.5,77.2 L492.8,74.9 L493.1,75.5 L493.3,74.3 L493.6,73.2 L493.9,72.8 L494.2,72.1 L494.5,71.3 L494.7,67.4 L495.0,67.7 L495.3,65.6 L495.5,66.9 L495.8,63.9 L496.0,63.6 L496.3,64.0 L496.5,63.7 L496.7,63.1 L496.9,63.4 L497.1,62.4 L497.5,59.4 L497.8,60.1 L498.1,55.9 L498.4,56.5 L498.6,54.9 L498.8,52.6 L499.0,52.7 L499.2,54.0 L499.4,53.2 L499.6,53.4 L499.9,53.3 L500.1,49.2 L500.3,52.0 L500.6,50.5 L500.8,52.7 L501.0,56.1 L501.2,54.0 L501.4,55.6 L501.7,59.3 L502.0,61.5 L502.3,61.8 L502.7,62.9 L502.8,62.7 L503.1,63.6 L503.3,61.6 L503.5,60.3 L503.7,63.8 L504.0,61.7 L504.2,62.7 L504.5,63.2 L504.7,61.2 L505.0,63.7 L505.3,61.8 L505.5,64.5 L505.8,61.0 L506.1,64.4 L506.4,64.7 L506.6,61.8 L506.9,62.7 L507.2,63.1 L507.4,62.8 L507.7,64.7 L508.0,65.6 L508.2,65.4 L508.5,63.0 L508.7,63.2 L509.0,66.8 L509.2,66.6 L509.5,67.1 L509.7,65.6 L510.0,69.1 L510.2,67.1 L510.4,69.8 L510.7,69.4 L510.9,71.1 L511.2,71.8 L511.4,69.8 L511.7,72.0 L511.9,70.6 L512.2,71.7 L512.4,72.8 L512.7,75.3 L513.0,74.6 L513.2,73.5 L513.5,75.9 L513.8,77.3 L514.0,77.6 L514.3,75.5 L514.5,75.9 L514.8,78.6 L515.0,78.9 L515.3,78.1 L515.5,79.2 L515.8,80.3 L516.0,78.3 L516.3,80.0 L516.5,81.0 L516.8,81.9 L517.1,81.4 L517.3,81.1 L517.6,82.8 L517.9,83.3 L518.1,82.3 L518.4,82.0 L518.7,83.9 L518.9,84.1 L519.2,84.0 L519.5,84.7 L519.7,85.7 L520.0,85.9 L520.2,86.3 L520.5,86.7 L520.8,87.1 L521.0,87.1 L521.3,87.7 L521.5,86.7 L521.8,88.2 L522.1,87.0 L522.3,87.8 L522.6,89.3 L522.8,89.8 L523.1,89.5 L523.3,90.0 L523.6,90.2 L523.9,91.2 L524.1,90.9 L524.4,90.8 L524.6,91.7 L524.9,92.3 L525.2,91.4 L525.4,92.9 L525.7,91.9 L525.9,92.9 L526.2,94.1 L526.4,94.0 L526.7,94.7 L527.0,94.0 L527.2,95.0 L527.5,95.7 L527.7,94.7 L528.0,95.3 L528.2,96.0 L528.5,96.4 L528.8,97.2 L529.0,96.3 L529.3,97.7 L529.5,97.7 L529.8,98.1 L530.1,98.5 L530.3,99.1 L530.6,98.4 L530.8,99.4 L531.1,99.8 L531.3,99.5 L531.6,99.8 L531.9,100.3 L532.1,100.3 L532.4,101.3 L532.6,101.8 L532.9,101.9 L533.1,101.9 L533.4,102.0 L533.7,102.3 L533.9,102.7 L534.2,103.0 L534.4,103.2 L534.7,103.5 L535.0,104.1 L535.2,104.0 L535.5,104.4 L535.7,104.7 L536.0,104.6 L536.3,104.5 L536.5,105.2 L536.8,105.1 L537.1,105.4 L537.3,105.5 L537.6,105.5 L537.9,105.8 L538.1,106.4 L538.4,106.2 L538.7,106.6 L538.9,106.7 L539.2,106.7 L539.4,107.1 L539.7,107.0 L540.0,106.9 L540.2,107.6 L540.5,107.2 L540.7,107.5 L540.9,107.8 L541.2,107.7 L541.4,108.2 L541.7,108.2 L541.9,107.9 L542.2,108.3 L542.5,108.6 L542.7,108.7 L543.0,108.7 L543.2,108.8 L543.4,108.6 L543.7,109.1 L543.9,109.0 L544.1,109.1 L544.4,109.2 L544.6,109.2 L544.8,109.3 L545.1,109.3 L545.3,109.4 L545.6,109.4 L545.8,109.4 L546.1,109.4 L546.3,109.4 L546.6,109.4 L546.9,109.3 L547.2,109.3 L547.4,109.2 L547.7,109.2 L547.9,109.1 L548.1,109.1 L548.3,109.0 L548.6,108.6 L548.8,109.0 L549.1,108.5 L549.3,108.5 L549.6,108.7 L549.8,108.6 L550.1,108.2 L550.3,108.0 L550.6,108.2 L550.8,108.2 L551.1,107.8 L551.4,107.6 L551.6,107.7 L551.9,107.5 L552.2,107.5 L552.4,107.4 L552.7,107.2 L553.0,106.7 L553.2,107.0 L553.5,106.8 L553.8,106.5 L554.0,106.5 L554.3,106.4 L554.6,105.9 L554.8,106.1 L555.1,105.8 L555.3,105.9 L555.6,105.6 L555.8,105.3 L556.1,105.3 L556.3,105.4 L556.6,105.3 L556.8,105.0 L557.1,104.8 L557.3,104.8 L557.6,104.4 L557.8,104.2 L558.1,104.3 L558.3,103.6 L558.6,103.1 L558.8,103.2 L559.1,103.3 L559.3,102.7 L559.6,102.4 L559.8,102.2 L560.1,102.0 L560.3,102.1 L560.6,101.7 L560.8,101.8 L561.1,102.1 L561.3,102.1 L561.6,101.7 L561.8,101.3 L562.1,101.6 L562.3,101.4 L562.6,101.5 L562.9,101.4 L563.1,101.2 L563.4,100.5 L563.7,101.2 L564.0,101.2 L564.2,100.9 L564.4,100.2 L564.7,101.1 L564.9,101.2 L565.1,101.2 L565.4,101.1 L565.6,101.3 L565.9,100.8 L566.1,101.4 L566.3,101.4 L566.6,101.6 L566.8,101.5 L567.1,101.7 L567.3,101.8 L567.6,101.9 L567.8,101.9 L568.1,101.7 L568.3,102.0 L568.6,102.3 L568.8,102.5 L569.1,101.8 L569.3,101.9 L569.6,101.9 L569.8,102.3 L570.1,102.7 L570.4,102.9 L570.6,103.1 L570.9,103.0 L571.2,103.1 L571.4,102.6 L571.7,103.4 L572.0,103.0 L572.3,103.0 L572.6,103.2 L572.8,103.2 L573.1,103.7 L573.4,103.6 L573.7,103.4 L573.9,103.3 L574.2,102.8 L574.4,103.0 L574.6,103.5 L574.8,103.5 L575.1,102.9 L575.3,103.4 L575.5,102.5 L575.7,103.3 L576.0,102.8 L576.2,102.4 L576.4,103.0 L576.7,102.9 L576.9,102.4 L577.1,102.2 L577.3,102.7 L577.6,102.3 L577.8,101.8 L578.0,101.7 L578.3,102.0 L578.5,102.1 L578.8,101.6 L579.0,101.5 L579.2,101.5 L579.5,101.2 L579.7,101.1 L580.0,101.2 L580.2,101.0 L580.5,100.9 L580.7,100.5 L581.0,100.3 L581.3,101.0 L581.5,100.2 L581.8,100.7 L582.1,100.5 L582.3,100.6 L582.6,100.4 L582.9,100.3 L583.2,100.2 L583.5,100.4 L583.8,100.2 L584.1,100.0 L584.4,100.1 L584.7,99.9 L585.0,100.3 L585.3,99.8 L585.6,99.3 L585.9,99.6 L586.2,99.9 L586.5,99.5 L586.7,100.1 L586.9,100.3 L587.1,99.9 L587.3,100.4 L587.6,100.4 L587.8,99.8 L588.0,100.2 L588.2,100.6 L588.5,100.6 L588.7,100.1 L589.0,100.3 L589.2,100.0 L589.5,100.3 L589.7,100.9 L590.0,100.5 L590.2,100.3 L590.5,100.4 L590.7,100.4 L591.0,101.4 L591.3,101.4 L591.5,101.5 L591.8,100.9 L592.0,101.2 L592.3,101.4 L592.6,101.8 L592.8,101.8 L593.1,101.6 L593.4,102.2 L593.7,101.5 L593.9,101.8 L594.2,101.7 L594.5,101.7 L594.8,102.4 L595.0,102.7 L595.3,102.7 L595.6,102.7 L595.9,102.7 L596.1,103.1 L596.4,103.2 L596.7,103.1 L597.0,103.0 L597.2,103.7 L597.5,103.0 L597.8,103.4 L598.1,103.7 L598.3,103.7 L598.6,103.6 L598.9,104.1 L599.1,104.3 L599.4,104.5 L599.7,104.5 L600.0,104.7 L600.2,104.7 L600.5,104.5 L600.7,104.9 L601.0,104.4 L601.3,105.0 L601.5,104.7 L601.8,105.3 L602.0,104.8 L602.3,105.0 L602.5,105.0 L602.8,105.2 L603.0,105.6 L603.3,105.9 L603.5,105.5 L603.7,105.4 L604.0,106.0 L604.2,105.8 L604.4,106.0 L604.7,105.9 L604.9,105.9 L605.1,106.2 L605.3,106.6 L605.5,106.5 L605.8,106.5 L606.1,106.7 L606.4,106.5 L606.7,106.8 L607.0,107.0 L607.3,107.0 L607.6,106.8 L607.9,106.9 L608.2,107.2 L608.5,107.2 L608.8,107.1 L609.1,107.0 L609.4,107.5 L609.7,107.5 L610.0,107.5 L610.2,107.6 L610.5,107.7 L610.8,107.7 L611.1,107.8 L611.3,107.8 L611.6,107.7 L611.9,107.7 L612.1,107.7 L612.4,107.5 L612.6,107.5 L612.9,107.9 L613.1,108.0 L613.4,107.8 L613.6,108.0 L613.9,107.9 L614.1,107.7 L614.3,107.9 L614.6,107.7 L614.8,107.9 L615.0,107.9 L615.3,107.8 L615.5,108.0 L615.7,108.0 L615.9,108.1 L616.1,107.9 L616.3,108.3 L616.5,108.4 L616.8,108.3 L617.0,108.5 L617.2,108.2 L617.3,108.4 L617.5,108.5 L617.7,108.4 L617.9,108.4 L618.1,108.5 L618.3,108.7 L618.7,108.7 L619.1,108.9 L619.4,108.9 L619.8,109.1 L620.1,109.0 L620.5,109.2 L620.8,109.1 L621.1,109.2 L621.3,109.3 L621.6,109.4 L621.9,109.5 L622.1,109.5 L622.3,109.6 L622.5,109.7 L622.7,109.7 L622.9,109.8 L623.1,109.8 L623.3,109.9 L623.4,110.0 L623.6,110.0 L623.7,110.0 L623.9,110.1 L623.9,110.1 L623.9,110.1 L623.3,110.1 L622.7,110.1 L622.2,110.1 L621.6,110.1 L621.1,110.1 L620.5,110.1 L620.0,110.1 L619.4,110.1 L618.8,110.1 L618.3,110.1 L617.7,110.1 L617.2,110.1 L616.6,110.1 L616.1,110.1 L615.5,110.1 L614.9,110.1 L614.4,110.1 L613.8,110.1 L613.3,110.1 L612.7,110.1 L612.2,110.1 L611.6,110.1 L611.0,110.1 L610.5,110.1 L609.9,110.1 L609.4,110.1 L608.8,110.1 L608.3,110.1 L607.7,110.1 L607.1,110.1 L606.6,110.1 L606.0,110.1 L605.5,110.1 L604.9,110.1 L604.4,110.1 L603.8,110.1 L603.2,110.1 L602.7,110.1 L602.1,110.1 L601.6,110.1 L601.0,110.1 L600.5,110.1 L599.9,110.1 L599.3,110.1 L598.8,110.1 L598.2,110.1 L597.7,110.1 L597.1,110.1 L596.6,110.1 L596.0,110.1 L595.4,110.1 L594.9,110.1 L594.3,110.1 L593.8,110.1 L593.2,110.1 L592.7,110.1 L592.1,110.1 L591.5,110.1 L591.0,110.1 L590.4,110.1 L589.9,110.1 L589.3,110.1 L588.8,110.1 L588.2,110.1 L587.6,110.1 L587.1,110.1 L586.5,110.1 L586.0,110.1 L585.4,110.1 L584.9,110.1 L584.3,110.1 L583.7,110.1 L583.2,110.1 L582.6,110.1 L582.1,110.1 L581.5,110.1 L581.0,110.1 L580.4,110.1 L579.8,110.1 L579.3,110.1 L578.7,110.1 L578.2,110.1 L577.6,110.1 L577.1,110.1 L576.5,110.1 L575.9,110.1 L575.4,110.1 L574.8,110.1 L574.3,110.1 L573.7,110.1 L573.1,110.1 L572.6,110.1 L572.0,110.1 L571.5,110.1 L570.9,110.1 L570.4,110.1 L569.8,110.1 L569.2,110.1 L568.7,110.1 L568.1,110.1 L567.6,110.1 L567.0,110.1 L566.5,110.1 L565.9,110.1 L565.3,110.1 L564.8,110.1 L564.2,110.1 L563.7,110.1 L563.1,110.1 L562.6,110.1 L562.0,110.1 L561.4,110.1 L560.9,110.1 L560.3,110.1 L559.8,110.1 L559.2,110.1 L558.7,110.1 L558.1,110.1 L557.5,110.1 L557.0,110.1 L556.4,110.1 L555.9,110.1 L555.3,110.1 L554.8,110.1 L554.2,110.1 L553.6,110.1 L553.1,110.1 L552.5,110.1 L552.0,110.1 L551.4,110.1 L550.9,110.1 L550.3,110.1 L549.7,110.1 L549.2,110.1 L548.6,110.1 L548.1,110.1 L547.5,110.1 L547.0,110.1 L546.4,110.1 L545.8,110.1 L545.3,110.1 L544.7,110.1 L544.2,110.1 L543.6,110.1 L543.1,110.1 L542.5,110.1 L541.9,110.1 L541.4,110.1 L540.8,110.1 L540.3,110.1 L539.7,110.1 L539.2,110.1 L538.6,110.1 L538.0,110.1 L537.5,110.1 L536.9,110.1 L536.4,110.1 L535.8,110.1 L535.3,110.1 L534.7,110.1 L534.1,110.1 L533.6,110.1 L533.0,110.1 L532.5,110.1 L531.9,110.1 L531.4,110.1 L530.8,110.1 L530.2,110.1 L529.7,110.1 L529.1,110.1 L528.6,110.1 L528.0,110.1 L527.5,110.1 L526.9,110.1 L526.3,110.1 L525.8,110.1 L525.2,110.1 L524.7,110.1 L524.1,110.1 L523.6,110.1 L523.0,110.1 L522.4,110.1 L521.9,110.1 L521.3,110.1 L520.8,110.1 L520.2,110.1 L519.6,110.1 L519.1,110.1 L518.5,110.1 L518.0,110.1 L517.4,110.1 L516.9,110.1 L516.3,110.0 L515.7,110.0 L515.2,110.0 L514.6,110.0 L514.1,110.0 L513.5,110.0 L513.0,110.0 L512.4,110.0 L511.8,110.0 L511.3,110.0 L510.7,110.0 L510.2,110.0 L509.6,110.0 L509.1,110.0 L508.5,110.0 L507.9,110.0 L507.4,110.0 L506.8,109.9 L506.3,109.9 L505.7,109.9 L505.2,109.9 L504.6,109.9 L504.0,109.9 L503.5,109.8 L502.9,109.8 L502.4,109.8 L501.8,109.8 L501.3,109.7 L500.7,109.7 L500.1,109.7 L499.6,109.6 L499.0,109.6 L498.5,109.5 L497.9,109.5 L497.4,109.4 L496.8,109.3 L496.2,109.3 L495.7,109.2 L495.1,109.1 L494.6,109.0 L494.0,108.9 L493.5,108.8 L492.9,108.6 L492.3,108.5 L491.8,108.3 L491.2,108.2 L490.7,108.0 L490.1,107.8 L489.6,107.5 L489.0,107.3 L488.4,107.0 L487.9,106.7 L487.3,106.3 L486.8,106.0 L486.2,105.5 L485.7,105.1 L485.1,104.6 L484.5,104.0 L484.0,103.4 L483.4,102.8 L482.9,102.1 L482.3,101.3 L481.8,100.4 L481.2,99.4 L480.6,98.3 L480.1,97.2 L479.5,95.9 L479.0,94.5 Z" fill="#00c3c3" fill-opacity="0.9"/>
<path d="M625.25,109.43 L639.19,109.43" stroke="#00c3c3" stroke-width="0.9" stroke-opacity="0.75" fill="none" stroke-dasharray="22.4 0.7 27.0 0.6 18.7 0.5 26.7 0.6 21.1 0.5 10.7 0.9 8.6 0.8 21.8 0.8 19.6 0.6 14.9 0.7 8.3 0.6 27.4 0.4 19.1 0.8 20.0 0.4 14.8 0.5 18.7 0.4"/>
<path d="M469.0,105.7 L469.1,105.7 L469.3,105.6 L469.5,106.5 L469.7,106.3 L469.9,106.3 L470.1,106.5 L470.4,107.7 L470.6,107.6 L470.9,108.0 L471.2,108.5 L471.5,108.2 L471.8,109.1 L472.1,109.5 L472.4,109.1 L472.7,109.8 L473.0,110.3 L473.3,110.5 L473.6,110.4 L473.9,110.7 L474.2,110.3 L474.5,110.1 L474.7,110.3 L475.0,109.6 L475.3,109.1 L475.5,109.2 L475.8,108.6 L476.1,108.6 L476.3,108.1 L476.6,106.4 L476.9,106.7 L477.1,106.1 L477.4,104.4 L477.7,104.0 L478.0,104.0 L478.2,103.1 L478.5,102.4 L478.7,101.7 L479.0,101.2 L479.3,100.0 L479.5,99.6 L479.8,98.9 L480.0,98.6 L480.2,98.2 L480.5,97.8 L480.8,96.0 L481.1,95.8 L481.4,95.9 L481.7,96.2 L482.0,96.0 L482.3,95.8 L482.5,95.5 L482.8,95.6 L483.1,95.2 L483.3,95.1 L483.6,94.9 L483.8,93.8 L484.1,93.8 L484.3,93.4 L484.6,93.0 L484.8,92.0 L485.1,90.2 L485.4,89.7 L485.7,88.3 L485.9,85.8 L486.2,84.1 L486.4,81.0 L486.7,80.6 L486.9,76.7 L487.1,77.2 L487.4,74.6 L487.7,73.7 L487.9,73.0 L488.2,70.1 L488.4,70.1 L488.6,71.0 L488.9,69.7 L489.1,68.8 L489.4,69.9 L489.6,69.5 L489.9,68.0 L490.2,67.4 L490.5,68.4 L490.8,68.5 L491.0,68.4 L491.3,69.2 L491.5,67.2 L491.8,67.1 L492.1,69.4 L492.4,70.7 L492.7,70.4 L493.0,69.3 L493.3,71.4 L493.5,72.2 L493.8,72.6 L494.1,71.5 L494.4,72.3 L494.6,73.7 L494.8,73.1 L495.1,73.2 L495.4,73.0 L495.6,74.2 L495.8,76.2 L496.0,75.6 L496.2,75.8 L496.4,76.8 L496.7,78.0 L496.9,79.4 L497.3,80.5 L497.7,80.4 L497.9,81.6 L498.1,81.7 L498.3,83.4 L498.5,84.0 L498.8,84.3 L499.0,84.1 L499.3,84.6 L499.5,85.9 L499.8,86.5 L500.0,85.1 L500.3,87.7 L500.6,86.3 L500.9,87.4 L501.2,88.5 L501.5,87.9 L501.7,89.4 L502.0,91.0 L502.3,89.8 L502.6,91.7 L502.9,91.0 L503.2,91.9 L503.5,93.6 L503.8,94.2 L504.1,94.7 L504.3,94.0 L504.6,94.5 L504.9,96.0 L505.2,96.6 L505.4,96.7 L505.7,96.4 L505.9,96.9 L506.2,97.1 L506.5,97.3 L506.7,98.2 L507.0,98.5 L507.2,100.0 L507.5,100.4 L507.7,99.7 L508.0,100.6 L508.3,101.4 L508.5,102.0 L508.8,102.2 L509.0,102.6 L509.3,102.7 L509.6,103.2 L509.8,103.8 L510.1,104.2 L510.4,104.5 L510.7,104.9 L510.9,105.3 L511.2,105.4 L511.5,105.9 L511.8,105.5 L512.1,106.2 L512.3,106.6 L512.6,106.6 L512.8,107.3 L513.0,107.7 L513.3,107.9 L513.5,108.0 L513.8,108.2 L514.0,108.5 L514.3,108.7 L514.5,108.3 L514.8,109.3 L515.0,109.3 L515.3,109.5 L515.5,109.8 L515.8,109.6 L516.1,110.3 L516.3,110.6 L516.6,110.8 L516.9,110.1 L517.1,111.0 L517.4,111.4 L517.7,110.8 L517.9,111.4 L518.2,111.2 L518.5,112.0 L518.7,111.8 L519.0,112.5 L519.3,112.7 L519.6,112.4 L519.8,112.8 L520.1,112.8 L520.4,113.3 L520.7,113.1 L520.9,113.8 L521.2,113.6 L521.4,114.1 L521.7,114.3 L522.0,113.9 L522.3,114.4 L522.5,114.3 L522.8,114.9 L523.1,114.7 L523.4,114.7 L523.7,115.1 L524.0,115.5 L524.2,115.4 L524.5,115.3 L524.8,115.6 L525.1,116.0 L525.4,116.2 L525.7,116.4 L526.0,116.2 L526.3,116.7 L526.6,116.8 L526.8,117.0 L527.1,117.1 L527.4,117.2 L527.7,117.2 L527.9,117.5 L528.2,117.5 L528.5,117.5 L528.7,117.9 L529.0,118.0 L529.2,118.0 L529.5,117.8 L529.7,117.9 L529.9,118.3 L530.1,118.6 L530.3,118.3 L530.5,118.3 L530.7,118.5 L531.2,118.9 L531.5,119.2 L531.9,119.3 L532.2,119.3 L532.5,119.3 L532.7,119.7 L532.9,119.9 L533.2,120.0 L533.4,120.1 L533.6,120.1 L533.8,120.3 L534.0,120.3 L534.2,120.1 L534.5,120.5 L534.8,120.5 L535.0,120.5 L535.3,120.3 L535.5,120.6 L535.7,120.4 L535.9,120.3 L536.1,120.4 L536.2,120.4 L536.4,120.6 L536.6,120.5 L536.8,120.4 L537.0,120.6 L537.2,120.4 L537.4,120.2 L537.7,120.2 L537.9,120.4 L538.2,120.4 L538.5,120.3 L538.8,120.2 L539.1,120.0 L539.5,120.0 L539.9,119.6 L540.3,119.6 L540.8,119.5 L541.0,119.3 L541.2,119.5 L541.4,119.3 L541.6,119.4 L541.8,119.3 L542.0,119.3 L542.2,118.9 L542.4,118.7 L542.6,119.0 L542.9,118.7 L543.1,118.9 L543.3,118.7 L543.6,118.6 L543.8,118.2 L544.1,118.4 L544.3,118.2 L544.6,118.2 L544.9,118.1 L545.1,118.0 L545.4,118.0 L545.7,117.8 L545.9,117.5 L546.2,117.3 L546.5,117.2 L546.8,117.3 L547.0,116.7 L547.3,117.2 L547.6,116.9 L547.9,116.8 L548.2,116.8 L548.5,116.2 L548.8,116.3 L549.1,116.5 L549.3,116.3 L549.6,115.8 L549.9,116.0 L550.2,116.0 L550.5,115.9 L550.8,115.7 L551.1,115.5 L551.4,115.5 L551.7,115.3 L551.9,115.4 L552.2,115.1 L552.5,115.0 L552.8,115.1 L553.1,114.5 L553.3,114.4 L553.6,114.6 L553.9,114.7 L554.1,114.7 L554.4,114.4 L554.7,114.5 L554.9,114.5 L555.2,114.3 L555.4,114.4 L555.7,114.1 L555.9,113.9 L556.1,114.3 L556.4,114.0 L556.6,114.2 L556.9,114.1 L557.2,113.8 L557.5,113.5 L557.8,114.1 L558.1,113.8 L558.4,114.1 L558.7,113.6 L558.9,114.3 L559.2,114.0 L559.5,114.4 L559.8,114.2 L560.0,114.1 L560.3,114.0 L560.6,114.2 L560.8,114.5 L561.1,114.6 L561.3,114.6 L561.6,114.6 L561.9,114.7 L562.1,114.7 L562.4,114.8 L562.6,114.7 L562.9,115.1 L563.1,115.0 L563.4,115.2 L563.6,115.6 L563.8,115.3 L564.1,115.7 L564.3,115.5 L564.6,115.5 L564.8,115.6 L565.1,115.7 L565.3,115.9 L565.6,116.1 L565.8,116.3 L566.1,116.2 L566.3,116.0 L566.6,116.5 L566.8,116.6 L567.1,116.3 L567.3,116.2 L567.6,116.7 L567.8,116.7 L568.1,116.7 L568.3,116.5 L568.6,116.3 L568.9,116.6 L569.1,116.3 L569.4,116.6 L569.6,116.5 L569.9,116.3 L570.1,116.1 L570.3,116.2 L570.6,116.0 L570.8,116.2 L571.1,116.1 L571.3,116.0 L571.5,116.1 L571.8,116.0 L572.0,115.8 L572.3,115.5 L572.5,115.7 L572.7,115.6 L573.0,115.0 L573.2,115.2 L573.5,115.3 L573.7,114.9 L574.0,114.9 L574.2,114.7 L574.5,114.8 L574.7,114.7 L575.0,114.9 L575.2,114.7 L575.5,114.6 L575.8,114.6 L576.0,114.5 L576.3,114.0 L576.6,114.5 L576.9,114.4 L577.1,114.3 L577.4,114.3 L577.7,114.3 L578.0,113.7 L578.3,114.0 L578.6,114.3 L578.9,114.0 L579.3,114.2 L579.6,114.1 L579.8,113.6 L580.0,113.6 L580.2,114.2 L580.5,113.9 L580.7,114.1 L580.9,114.4 L581.2,114.3 L581.4,113.9 L581.7,114.0 L581.9,114.1 L582.1,113.9 L582.4,114.5 L582.6,114.2 L582.9,114.2 L583.2,114.1 L583.4,114.2 L583.7,114.3 L583.9,114.8 L584.2,114.8 L584.5,114.7 L584.7,115.0 L585.0,115.0 L585.3,115.0 L585.5,115.2 L585.8,115.3 L586.1,115.0 L586.4,115.3 L586.6,115.5 L586.9,115.1 L587.2,115.0 L587.5,115.6 L587.7,115.4 L588.0,115.8 L588.3,115.9 L588.6,116.0 L588.8,115.8 L589.1,115.9 L589.4,115.8 L589.7,116.0 L590.0,116.0 L590.2,115.9 L590.5,116.2 L590.8,116.5 L591.1,116.6 L591.3,116.3 L591.6,116.4 L591.9,116.6 L592.2,116.4 L592.4,116.6 L592.7,116.9 L593.0,117.1 L593.2,117.1 L593.5,116.8 L593.8,116.9 L594.0,117.4 L594.3,117.5 L594.6,117.4 L594.8,117.1 L595.1,117.2 L595.3,117.3 L595.6,117.8 L595.8,117.8 L596.1,117.5 L596.3,117.8 L596.6,117.9 L596.8,117.6 L597.1,118.1 L597.4,118.0 L597.7,117.8 L598.0,118.0 L598.3,117.9 L598.5,118.3 L598.8,118.3 L599.1,118.0 L599.4,118.5 L599.7,118.5 L600.0,118.2 L600.3,118.7 L600.6,118.5 L600.9,118.5 L601.2,118.8 L601.5,118.5 L601.7,118.7 L602.0,119.0 L602.3,118.7 L602.6,118.8 L602.9,119.1 L603.2,119.3 L603.5,119.0 L603.7,119.2 L604.0,119.1 L604.3,119.5 L604.6,119.4 L604.8,119.3 L605.1,119.4 L605.4,119.6 L605.7,119.6 L605.9,119.6 L606.2,119.7 L606.4,119.4 L606.7,119.5 L607.0,119.9 L607.2,119.8 L607.5,120.0 L607.7,119.8 L608.0,120.0 L608.2,119.8 L608.4,119.9 L608.7,119.9 L608.9,120.3 L609.1,120.3 L609.3,120.1 L609.6,120.3 L609.8,120.2 L610.0,120.4 L610.2,120.4 L610.4,120.3 L610.6,120.5 L610.8,120.5 L611.0,120.6 L611.2,120.6 L611.6,120.6 L612.0,120.7 L612.4,120.8 L612.8,120.9 L613.2,120.9 L613.5,121.0 L613.8,121.0 L614.1,121.1 L614.4,121.1 L614.7,121.2 L614.9,121.2 L615.2,121.3 L615.4,121.3 L615.6,121.4 L615.8,121.4 L616.0,121.4 L616.2,121.5 L616.3,121.5 L616.5,121.5 L616.6,121.5 L616.8,121.6 L616.9,121.6 L616.9,121.6 L616.6,121.6 L616.1,121.6 L615.5,121.6 L614.9,121.6 L614.3,121.6 L613.8,121.6 L613.2,121.6 L612.6,121.6 L612.0,121.6 L611.5,121.6 L610.9,121.6 L610.3,121.6 L609.7,121.6 L609.2,121.6 L608.6,121.6 L608.0,121.6 L607.4,121.6 L606.9,121.6 L606.3,121.6 L605.7,121.6 L605.1,121.6 L604.6,121.6 L604.0,121.6 L603.4,121.6 L602.8,121.6 L602.3,121.6 L601.7,121.6 L601.1,121.6 L600.5,121.6 L600.0,121.6 L599.4,121.6 L598.8,121.6 L598.2,121.6 L597.7,121.6 L597.1,121.6 L596.5,121.6 L595.9,121.6 L595.4,121.6 L594.8,121.6 L594.2,121.6 L593.7,121.6 L593.1,121.6 L592.5,121.6 L591.9,121.6 L591.4,121.6 L590.8,121.6 L590.2,121.6 L589.6,121.6 L589.1,121.6 L588.5,121.6 L587.9,121.6 L587.3,121.6 L586.8,121.6 L586.2,121.6 L585.6,121.6 L585.0,121.6 L584.5,121.6 L583.9,121.6 L583.3,121.6 L582.7,121.6 L582.2,121.6 L581.6,121.6 L581.0,121.6 L580.4,121.6 L579.9,121.6 L579.3,121.6 L578.7,121.6 L578.1,121.6 L577.6,121.6 L577.0,121.6 L576.4,121.6 L575.8,121.6 L575.3,121.6 L574.7,121.6 L574.1,121.6 L573.5,121.6 L573.0,121.6 L572.4,121.6 L571.8,121.6 L571.2,121.6 L570.7,121.6 L570.1,121.6 L569.5,121.6 L568.9,121.6 L568.4,121.6 L567.8,121.6 L567.2,121.6 L566.6,121.6 L566.1,121.6 L565.5,121.6 L564.9,121.6 L564.4,121.6 L563.8,121.6 L563.2,121.6 L562.6,121.6 L562.1,121.6 L561.5,121.6 L560.9,121.6 L560.3,121.6 L559.8,121.6 L559.2,121.6 L558.6,121.6 L558.0,121.6 L557.5,121.6 L556.9,121.6 L556.3,121.6 L555.7,121.6 L555.2,121.6 L554.6,121.6 L554.0,121.6 L553.4,121.6 L552.9,121.6 L552.3,121.6 L551.7,121.6 L551.1,121.6 L550.6,121.6 L550.0,121.6 L549.4,121.6 L548.8,121.6 L548.3,121.6 L547.7,121.6 L547.1,121.6 L546.5,121.6 L546.0,121.6 L545.4,121.6 L544.8,121.6 L544.2,121.6 L543.7,121.6 L543.1,121.6 L542.5,121.6 L541.9,121.6 L541.4,121.6 L540.8,121.6 L540.2,121.6 L539.6,121.6 L539.1,121.6 L538.5,121.6 L537.9,121.6 L537.3,121.6 L536.8,121.6 L536.2,121.6 L535.6,121.6 L535.0,121.6 L534.5,121.6 L533.9,121.6 L533.3,121.6 L532.8,121.6 L532.2,121.6 L531.6,121.6 L531.0,121.6 L530.5,121.6 L529.9,121.6 L529.3,121.6 L528.7,121.6 L528.2,121.6 L527.6,121.6 L527.0,121.6 L526.4,121.6 L525.9,121.6 L525.3,121.6 L524.7,121.6 L524.1,121.6 L523.6,121.6 L523.0,121.6 L522.4,121.6 L521.8,121.6 L521.3,121.6 L520.7,121.6 L520.1,121.6 L519.5,121.6 L519.0,121.6 L518.4,121.6 L517.8,121.6 L517.2,121.6 L516.7,121.6 L516.1,121.6 L515.5,121.6 L514.9,121.6 L514.4,121.6 L513.8,121.6 L513.2,121.6 L512.6,121.6 L512.1,121.6 L511.5,121.6 L510.9,121.6 L510.3,121.6 L509.8,121.6 L509.2,121.6 L508.6,121.6 L508.0,121.6 L507.5,121.6 L506.9,121.6 L506.3,121.6 L505.7,121.6 L505.2,121.6 L504.6,121.5 L504.0,121.5 L503.5,121.5 L502.9,121.5 L502.3,121.5 L501.7,121.5 L501.2,121.5 L500.6,121.5 L500.0,121.5 L499.4,121.5 L498.9,121.5 L498.3,121.5 L497.7,121.5 L497.1,121.4 L496.6,121.4 L496.0,121.4 L495.4,121.4 L494.8,121.4 L494.3,121.4 L493.7,121.3 L493.1,121.3 L492.5,121.3 L492.0,121.2 L491.4,121.2 L490.8,121.2 L490.2,121.1 L489.7,121.1 L489.1,121.0 L488.5,121.0 L487.9,120.9 L487.4,120.8 L486.8,120.8 L486.2,120.7 L485.6,120.6 L485.1,120.5 L484.5,120.4 L483.9,120.3 L483.3,120.1 L482.8,120.0 L482.2,119.8 L481.6,119.6 L481.0,119.4 L480.5,119.2 L479.9,119.0 L479.3,118.7 L478.7,118.4 L478.2,118.1 L477.6,117.8 L477.0,117.4 L476.4,117.0 L475.9,116.5 L475.3,116.0 L474.7,115.5 L474.2,114.8 L473.6,114.2 L473.0,113.4 L472.4,112.6 L471.9,111.7 L471.3,110.7 L470.7,109.6 L470.1,108.5 L469.6,107.1 L469.0,105.7 Z" fill="#00cc78" fill-opacity="0.9"/>
<path d="M619.79,120.80 L634.15,120.80" stroke="#00cc78" stroke-width="0.9" stroke-opacity="0.75" fill="none" stroke-dasharray="16.0 0.6 16.6 0.8 8.5 0.6 17.5 0.4 20.2 0.8 8.7 0.3 23.2 0.4 19.2 0.6 23.1 0.8 9.0 0.6 13.5 0.3 22.5 0.3 14.4 0.4 27.5 0.7 14.7 0.6 14.3 0.9 18.4 0.7 25.9 0.6"/>
<path d="M458.4,117.8 L458.5,117.9 L458.7,117.7 L458.9,117.9 L459.1,118.2 L459.3,119.0 L459.6,118.7 L459.9,119.6 L460.1,120.0 L460.4,120.5 L460.7,120.5 L461.0,121.1 L461.4,121.4 L461.7,121.4 L462.0,121.6 L462.3,121.8 L462.6,122.5 L462.9,122.7 L463.2,122.8 L463.5,122.7 L463.8,122.4 L464.0,122.4 L464.3,122.2 L464.6,122.3 L464.9,122.0 L465.2,121.9 L465.4,121.4 L465.7,120.9 L465.9,120.1 L466.2,119.4 L466.4,118.7 L466.7,118.2 L466.9,117.4 L467.2,116.7 L467.4,115.2 L467.7,114.6 L468.0,113.5 L468.4,112.4 L468.7,112.2 L469.0,111.7 L469.2,110.9 L469.4,109.3 L469.7,108.8 L470.0,108.7 L470.2,107.3 L470.5,107.2 L470.8,105.5 L471.1,105.8 L471.4,104.0 L471.7,102.6 L472.0,102.9 L472.3,102.0 L472.6,101.5 L472.9,100.5 L473.2,99.8 L473.5,98.9 L473.8,98.3 L474.1,97.3 L474.4,96.8 L474.6,95.4 L474.9,95.0 L475.2,94.6 L475.4,92.4 L475.7,93.3 L475.9,92.4 L476.1,91.0 L476.5,90.7 L476.8,89.5 L477.1,90.0 L477.4,88.9 L477.6,90.2 L477.9,88.7 L478.1,89.4 L478.4,89.3 L478.6,88.1 L478.8,88.2 L479.1,89.2 L479.3,89.2 L479.6,89.4 L479.9,87.8 L480.2,88.9 L480.6,89.8 L480.8,89.4 L481.0,90.3 L481.3,90.2 L481.5,89.9 L481.8,88.8 L482.1,89.4 L482.3,90.5 L482.6,90.1 L482.9,91.5 L483.2,90.9 L483.5,90.3 L483.8,92.5 L484.1,91.1 L484.3,91.3 L484.6,93.2 L484.9,92.5 L485.2,92.3 L485.5,94.5 L485.8,94.4 L486.1,94.5 L486.4,94.4 L486.7,95.9 L487.0,95.3 L487.2,95.8 L487.5,95.8 L487.7,96.5 L488.0,96.5 L488.3,97.6 L488.6,98.3 L488.9,98.9 L489.1,99.5 L489.4,100.0 L489.7,100.5 L489.9,101.2 L490.2,102.0 L490.5,102.3 L490.7,101.8 L491.0,103.6 L491.2,102.9 L491.5,103.9 L491.7,105.2 L492.0,106.0 L492.2,105.6 L492.5,106.0 L492.8,107.7 L493.1,107.8 L493.3,108.2 L493.6,109.0 L493.9,110.2 L494.2,110.5 L494.4,110.4 L494.7,111.0 L494.9,111.4 L495.2,112.4 L495.4,112.1 L495.7,112.7 L496.0,113.6 L496.2,113.6 L496.5,114.8 L496.8,115.1 L497.0,115.6 L497.3,115.4 L497.6,116.0 L497.9,117.2 L498.1,117.2 L498.4,118.2 L498.7,118.0 L499.0,118.5 L499.3,119.2 L499.6,120.1 L499.9,120.4 L500.1,120.9 L500.4,121.0 L500.7,121.7 L501.0,122.1 L501.3,122.4 L501.6,122.1 L501.8,122.7 L502.1,122.7 L502.3,122.9 L502.6,123.6 L502.9,123.6 L503.1,124.2 L503.4,124.3 L503.7,124.8 L503.9,124.9 L504.2,125.3 L504.5,125.4 L504.7,125.2 L505.0,125.4 L505.3,125.9 L505.6,126.5 L505.8,126.1 L506.1,126.7 L506.4,126.8 L506.7,127.2 L506.9,127.1 L507.2,127.6 L507.5,127.9 L507.8,127.9 L508.0,128.2 L508.3,128.4 L508.6,128.5 L508.9,128.5 L509.1,128.6 L509.4,129.0 L509.7,129.0 L510.0,129.4 L510.2,129.1 L510.5,129.6 L510.8,129.6 L511.0,129.8 L511.3,129.7 L511.6,130.1 L511.8,130.3 L512.1,130.1 L512.4,130.3 L512.6,130.5 L512.9,130.5 L513.1,130.4 L513.4,130.6 L513.7,130.7 L513.9,131.0 L514.2,131.1 L514.5,131.2 L514.7,130.9 L515.0,131.3 L515.2,131.3 L515.5,131.2 L515.8,131.5 L516.0,131.2 L516.3,131.5 L516.6,131.6 L516.9,131.5 L517.1,131.6 L517.4,131.8 L517.7,131.8 L518.0,131.7 L518.3,131.9 L518.5,132.0 L518.8,131.8 L519.1,132.1 L519.4,132.2 L519.6,132.2 L519.9,132.2 L520.2,132.2 L520.5,132.3 L520.7,132.4 L521.0,132.5 L521.3,132.3 L521.6,132.4 L521.9,132.4 L522.2,132.6 L522.5,132.4 L522.8,132.5 L523.1,132.6 L523.4,132.5 L523.7,132.8 L524.0,132.7 L524.3,132.8 L524.6,132.9 L524.9,132.8 L525.2,132.8 L525.5,132.8 L525.8,132.8 L526.0,132.9 L526.3,132.9 L526.6,132.9 L526.9,132.9 L527.2,133.0 L527.4,133.0 L527.7,133.0 L527.9,133.0 L528.2,133.0 L528.4,133.0 L528.6,133.0 L528.9,133.1 L529.1,133.1 L529.3,133.1 L529.5,133.1 L529.9,133.1 L530.2,133.2 L530.5,133.2 L530.7,133.2 L530.8,133.2 L530.9,133.3 L531.1,133.3 L531.2,133.3 L531.3,133.3 L531.5,133.3 L531.7,133.2 L531.9,133.2 L532.3,133.1 L532.7,133.0 L533.3,132.9 L533.9,132.8 L534.1,132.7 L534.3,132.8 L534.5,132.6 L534.6,132.7 L534.8,132.4 L535.0,132.6 L535.2,132.5 L535.4,132.2 L535.7,132.4 L535.9,132.3 L536.1,132.3 L536.3,132.2 L536.5,132.2 L536.8,132.1 L537.0,132.1 L537.3,131.8 L537.5,131.9 L537.8,131.7 L538.0,131.5 L538.3,131.5 L538.5,131.4 L538.8,131.3 L539.1,131.4 L539.3,131.3 L539.6,131.4 L539.9,131.3 L540.1,131.2 L540.4,131.1 L540.7,131.0 L541.0,131.0 L541.3,130.8 L541.6,130.8 L541.9,130.7 L542.2,130.7 L542.4,130.3 L542.7,130.2 L543.0,130.2 L543.3,130.4 L543.6,130.3 L543.9,129.8 L544.2,129.9 L544.5,129.7 L544.8,129.9 L545.1,129.6 L545.4,129.8 L545.7,129.7 L546.0,129.4 L546.3,129.4 L546.7,129.5 L547.0,129.3 L547.3,129.2 L547.6,129.3 L547.9,129.3 L548.2,129.1 L548.4,129.1 L548.7,128.6 L549.0,129.0 L549.3,128.8 L549.6,128.8 L549.9,128.7 L550.2,128.7 L550.5,128.7 L550.8,128.4 L551.1,128.3 L551.3,128.3 L551.6,128.1 L551.9,128.0 L552.2,128.3 L552.4,128.0 L552.7,128.1 L553.0,128.0 L553.2,128.3 L553.5,127.9 L553.8,128.0 L554.0,128.3 L554.3,128.3 L554.6,128.1 L554.9,128.0 L555.1,128.1 L555.4,128.1 L555.7,127.9 L555.9,128.1 L556.2,128.2 L556.4,128.1 L556.7,128.1 L556.9,127.9 L557.2,128.2 L557.5,127.8 L557.7,127.7 L558.0,127.9 L558.2,128.0 L558.5,128.2 L558.7,128.2 L559.0,128.0 L559.2,127.8 L559.5,128.2 L559.7,127.9 L560.0,127.8 L560.2,127.9 L560.5,128.1 L560.7,128.0 L561.0,128.3 L561.2,128.2 L561.5,128.4 L561.7,128.1 L562.0,128.4 L562.2,128.1 L562.5,128.2 L562.8,128.5 L563.0,128.5 L563.3,128.3 L563.5,128.5 L563.8,128.4 L564.0,128.3 L564.3,128.6 L564.6,128.7 L564.8,128.6 L565.1,128.5 L565.4,128.6 L565.7,128.8 L565.9,128.7 L566.2,128.7 L566.5,128.5 L566.8,128.9 L567.0,128.9 L567.3,128.9 L567.6,128.8 L567.9,129.0 L568.2,128.8 L568.5,129.0 L568.8,129.0 L569.1,129.2 L569.4,128.9 L569.7,129.2 L570.0,129.2 L570.4,129.2 L570.7,129.0 L571.0,129.0 L571.2,129.1 L571.5,129.0 L571.7,129.4 L571.9,129.1 L572.2,129.2 L572.4,129.2 L572.7,129.2 L572.9,129.6 L573.1,129.6 L573.4,129.6 L573.7,129.3 L573.9,129.5 L574.2,129.7 L574.4,129.5 L574.7,129.5 L574.9,129.8 L575.2,129.7 L575.5,129.8 L575.7,129.7 L576.0,129.8 L576.3,129.9 L576.5,129.8 L576.8,129.7 L577.1,129.6 L577.4,130.0 L577.6,129.7 L577.9,130.0 L578.2,130.0 L578.5,130.1 L578.7,130.1 L579.0,130.1 L579.3,130.0 L579.6,129.9 L579.9,129.9 L580.2,130.3 L580.4,130.3 L580.7,130.4 L581.0,130.3 L581.3,130.4 L581.6,130.5 L581.9,130.5 L582.2,130.3 L582.4,130.4 L582.7,130.5 L583.0,130.6 L583.3,130.4 L583.6,130.7 L583.9,130.7 L584.2,130.8 L584.5,130.8 L584.7,130.8 L585.0,130.9 L585.3,130.9 L585.6,130.9 L585.9,131.0 L586.2,131.0 L586.5,131.1 L586.7,131.0 L587.0,130.8 L587.3,131.2 L587.6,130.9 L587.9,131.1 L588.2,131.3 L588.4,131.2 L588.7,131.3 L589.0,131.4 L589.3,131.2 L589.6,131.2 L589.8,131.1 L590.1,131.4 L590.4,131.2 L590.6,131.2 L590.9,131.4 L591.2,131.5 L591.5,131.6 L591.7,131.5 L592.0,131.6 L592.2,131.5 L592.5,131.7 L592.8,131.8 L593.0,131.8 L593.3,131.8 L593.5,131.7 L593.8,131.8 L594.0,131.8 L594.3,131.7 L594.5,131.9 L594.8,131.9 L595.0,131.8 L595.3,132.1 L595.5,131.8 L595.7,132.0 L596.0,132.0 L596.2,131.9 L596.5,132.0 L596.8,132.0 L597.2,132.0 L597.5,132.2 L597.8,132.3 L598.1,132.2 L598.4,132.2 L598.8,132.4 L599.1,132.4 L599.4,132.2 L599.7,132.5 L600.0,132.5 L600.3,132.3 L600.6,132.2 L600.9,132.4 L601.3,132.4 L601.6,132.4 L601.9,132.6 L602.2,132.6 L602.5,132.4 L602.8,132.6 L603.1,132.6 L603.3,132.6 L603.6,132.6 L603.9,132.7 L604.2,132.8 L604.5,132.7 L604.8,132.6 L605.1,132.9 L605.4,132.8 L605.6,132.9 L605.9,132.8 L606.2,132.8 L606.5,132.8 L606.7,132.8 L607.0,132.9 L607.3,132.9 L607.5,132.9 L607.8,132.9 L608.1,132.9 L608.3,132.9 L608.6,133.0 L608.8,133.0 L609.1,133.0 L609.3,133.0 L609.6,133.0 L609.8,133.0 L610.1,133.1 L610.3,133.1 L610.6,133.1 L610.8,133.1 L611.0,133.1 L611.2,133.1 L611.5,133.1 L611.7,133.2 L611.9,133.2 L612.1,133.2 L612.4,133.2 L612.6,133.2 L612.8,133.2 L613.0,133.2 L613.2,133.3 L613.4,133.3 L613.6,133.3 L613.8,133.3 L614.0,133.3 L614.4,133.3 L614.9,133.4 L615.3,133.4 L615.7,133.4 L616.1,133.5 L616.5,133.5 L616.8,133.5 L617.2,133.5 L617.5,133.6 L617.8,133.6 L618.1,133.6 L618.4,133.6 L618.7,133.6 L618.9,133.7 L619.2,133.7 L619.4,133.7 L619.6,133.7 L619.9,133.7 L620.1,133.7 L620.3,133.8 L620.4,133.8 L620.6,133.8 L620.8,133.8 L620.9,133.8 L621.1,133.8 L621.2,133.8 L621.4,133.8 L621.4,133.8 L621.4,133.8 L620.8,133.8 L620.2,133.8 L619.6,133.8 L619.0,133.8 L618.4,133.8 L617.8,133.8 L617.2,133.8 L616.6,133.8 L616.1,133.8 L615.5,133.8 L614.9,133.8 L614.3,133.8 L613.7,133.8 L613.1,133.8 L612.5,133.8 L611.9,133.8 L611.3,133.8 L610.7,133.8 L610.1,133.8 L609.5,133.8 L608.9,133.8 L608.3,133.8 L607.8,133.8 L607.2,133.8 L606.6,133.8 L606.0,133.8 L605.4,133.8 L604.8,133.8 L604.2,133.8 L603.6,133.8 L603.0,133.8 L602.4,133.8 L601.8,133.8 L601.2,133.8 L600.6,133.8 L600.0,133.8 L599.5,133.8 L598.9,133.8 L598.3,133.8 L597.7,133.8 L597.1,133.8 L596.5,133.8 L595.9,133.8 L595.3,133.8 L594.7,133.8 L594.1,133.8 L593.5,133.8 L592.9,133.8 L592.3,133.8 L591.7,133.8 L591.2,133.8 L590.6,133.8 L590.0,133.8 L589.4,133.8 L588.8,133.8 L588.2,133.8 L587.6,133.8 L587.0,133.8 L586.4,133.8 L585.8,133.8 L585.2,133.8 L584.6,133.8 L584.0,133.8 L583.4,133.8 L582.9,133.8 L582.3,133.8 L581.7,133.8 L581.1,133.8 L580.5,133.8 L579.9,133.8 L579.3,133.8 L578.7,133.8 L578.1,133.8 L577.5,133.8 L576.9,133.8 L576.3,133.8 L575.7,133.8 L575.1,133.8 L574.6,133.8 L574.0,133.8 L573.4,133.8 L572.8,133.8 L572.2,133.8 L571.6,133.8 L571.0,133.8 L570.4,133.8 L569.8,133.8 L569.2,133.8 L568.6,133.8 L568.0,133.8 L567.4,133.8 L566.8,133.8 L566.3,133.8 L565.7,133.8 L565.1,133.8 L564.5,133.8 L563.9,133.8 L563.3,133.8 L562.7,133.8 L562.1,133.8 L561.5,133.8 L560.9,133.8 L560.3,133.8 L559.7,133.8 L559.1,133.8 L558.5,133.8 L558.0,133.8 L557.4,133.8 L556.8,133.8 L556.2,133.8 L555.6,133.8 L555.0,133.8 L554.4,133.8 L553.8,133.8 L553.2,133.8 L552.6,133.8 L552.0,133.8 L551.4,133.8 L550.8,133.8 L550.2,133.8 L549.7,133.8 L549.1,133.8 L548.5,133.8 L547.9,133.8 L547.3,133.8 L546.7,133.8 L546.1,133.8 L545.5,133.8 L544.9,133.8 L544.3,133.8 L543.7,133.8 L543.1,133.8 L542.5,133.8 L541.9,133.8 L541.4,133.8 L540.8,133.8 L540.2,133.8 L539.6,133.8 L539.0,133.8 L538.4,133.8 L537.8,133.8 L537.2,133.8 L536.6,133.8 L536.0,133.8 L535.4,133.8 L534.8,133.8 L534.2,133.8 L533.6,133.8 L533.1,133.8 L532.5,133.8 L531.9,133.8 L531.3,133.8 L530.7,133.8 L530.1,133.8 L529.5,133.8 L528.9,133.8 L528.3,133.8 L527.7,133.8 L527.1,133.8 L526.5,133.8 L525.9,133.8 L525.3,133.8 L524.8,133.8 L524.2,133.8 L523.6,133.8 L523.0,133.8 L522.4,133.8 L521.8,133.8 L521.2,133.8 L520.6,133.8 L520.0,133.8 L519.4,133.8 L518.8,133.8 L518.2,133.8 L517.6,133.8 L517.0,133.8 L516.5,133.8 L515.9,133.8 L515.3,133.8 L514.7,133.8 L514.1,133.8 L513.5,133.8 L512.9,133.8 L512.3,133.8 L511.7,133.8 L511.1,133.8 L510.5,133.8 L509.9,133.8 L509.3,133.8 L508.7,133.8 L508.2,133.8 L507.6,133.8 L507.0,133.8 L506.4,133.8 L505.8,133.8 L505.2,133.8 L504.6,133.8 L504.0,133.8 L503.4,133.8 L502.8,133.8 L502.2,133.8 L501.6,133.8 L501.0,133.8 L500.4,133.8 L499.9,133.8 L499.3,133.8 L498.7,133.8 L498.1,133.8 L497.5,133.8 L496.9,133.8 L496.3,133.8 L495.7,133.8 L495.1,133.8 L494.5,133.8 L493.9,133.8 L493.3,133.8 L492.7,133.8 L492.1,133.8 L491.6,133.8 L491.0,133.8 L490.4,133.8 L489.8,133.7 L489.2,133.7 L488.6,133.7 L488.0,133.7 L487.4,133.7 L486.8,133.7 L486.2,133.7 L485.6,133.6 L485.0,133.6 L484.4,133.6 L483.8,133.6 L483.3,133.6 L482.7,133.5 L482.1,133.5 L481.5,133.5 L480.9,133.4 L480.3,133.4 L479.7,133.3 L479.1,133.3 L478.5,133.2 L477.9,133.2 L477.3,133.1 L476.7,133.0 L476.1,132.9 L475.5,132.8 L475.0,132.7 L474.4,132.6 L473.8,132.5 L473.2,132.4 L472.6,132.2 L472.0,132.0 L471.4,131.9 L470.8,131.7 L470.2,131.5 L469.6,131.2 L469.0,130.9 L468.4,130.7 L467.8,130.3 L467.2,130.0 L466.7,129.6 L466.1,129.2 L465.5,128.7 L464.9,128.2 L464.3,127.6 L463.7,127.0 L463.1,126.3 L462.5,125.6 L461.9,124.8 L461.3,123.9 L460.7,122.9 L460.1,121.8 L459.5,120.6 L458.9,119.2 L458.4,117.8 Z" fill="#00d600" fill-opacity="0.9"/>
<path d="M622.87,132.90 L628.80,132.90" stroke="#00d600" stroke-width="0.9" stroke-opacity="0.75" fill="none" stroke-dasharray="17.0 0.6 21.1 0.5 22.1 0.5 27.6 0.4 29.1 0.8 9.8 0.6 28.2 0.8 12.1 0.9 8.7 0.6 11.5 0.8 13.2 0.7 22.3 0.8 21.3 0.6 25.4 0.7 29.2 0.8"/>
<path d="M447.0,130.5 L447.5,130.9 L448.1,131.7 L448.9,132.6 L449.7,134.0 L450.6,134.5 L451.5,135.6 L452.3,135.8 L453.2,135.7 L453.9,134.9 L454.7,134.2 L455.5,132.8 L456.3,130.9 L457.1,129.2 L457.9,127.3 L458.6,125.9 L459.3,123.7 L460.1,122.6 L460.9,120.0 L461.7,118.4 L462.4,116.7 L463.1,114.5 L463.9,113.7 L464.8,112.2 L465.7,111.0 L466.6,110.3 L467.5,109.9 L468.5,110.1 L469.2,109.9 L469.8,112.0 L470.5,113.5 L471.2,115.3 L472.0,116.2 L473.1,118.6 L473.7,119.2 L474.4,120.1 L475.2,121.9 L476.1,123.1 L476.9,124.3 L477.8,125.6 L478.7,126.6 L479.6,127.4 L480.5,129.0 L481.4,129.9 L482.2,130.8 L483.0,131.7 L483.8,132.7 L484.5,133.6 L485.2,134.6 L486.0,135.3 L486.7,135.8 L487.5,136.7 L488.3,137.3 L489.0,138.2 L489.8,138.7 L490.6,139.4 L491.4,139.8 L492.2,140.3 L493.0,141.1 L493.9,141.4 L494.7,142.1 L495.6,142.2 L496.4,142.9 L497.3,143.3 L498.2,143.5 L499.0,144.0 L499.8,144.4 L500.6,144.7 L501.4,144.9 L502.1,145.3 L503.0,145.5 L503.7,145.8 L504.3,146.1 L504.8,146.3 L505.4,146.4 L506.0,146.5 L506.7,146.6 L507.5,146.7 L508.6,146.8 L509.8,146.8 L510.3,146.8 L510.9,146.8 L511.6,146.8 L512.2,146.8 L512.9,146.8 L513.6,146.7 L514.4,146.7 L515.2,146.7 L516.0,146.6 L516.8,146.6 L517.6,146.5 L518.4,146.5 L519.3,146.5 L520.1,146.4 L521.0,146.3 L521.8,146.3 L522.7,146.2 L523.5,146.2 L524.3,146.1 L525.2,146.1 L526.0,146.0 L526.8,146.0 L527.5,145.9 L528.3,145.9 L529.0,145.8 L529.7,145.8 L530.6,145.8 L531.4,145.7 L532.2,145.7 L533.0,145.7 L533.8,145.6 L534.6,145.5 L535.3,145.4 L536.1,145.4 L536.8,145.4 L537.5,145.2 L538.3,145.3 L539.0,145.1 L539.7,145.2 L540.5,145.0 L541.2,145.1 L541.9,145.0 L542.7,145.0 L543.4,145.0 L544.2,144.9 L545.0,144.8 L545.8,145.0 L546.5,144.8 L547.3,144.9 L548.0,145.0 L548.8,144.9 L549.5,144.9 L550.3,145.0 L551.0,144.9 L551.8,145.1 L552.6,145.1 L553.3,145.2 L554.1,145.1 L554.9,145.2 L555.7,145.3 L556.6,145.1 L557.4,145.3 L558.2,145.4 L559.1,145.3 L560.0,145.5 L560.9,145.4 L561.9,145.4 L562.5,145.5 L563.2,145.4 L563.9,145.4 L564.6,145.6 L565.4,145.5 L566.1,145.6 L566.9,145.6 L567.6,145.6 L568.4,145.5 L569.2,145.6 L570.0,145.8 L570.7,145.8 L571.5,145.8 L572.3,145.8 L573.1,145.8 L573.9,145.8 L574.8,145.9 L575.6,145.9 L576.4,145.9 L577.2,145.9 L578.0,146.0 L578.8,146.0 L579.5,146.0 L580.3,146.0 L581.1,146.0 L581.9,146.1 L582.6,146.1 L583.4,146.1 L584.1,146.1 L584.8,146.1 L585.6,146.2 L586.5,146.2 L587.3,146.2 L588.1,146.2 L589.0,146.2 L589.8,146.2 L590.6,146.2 L591.5,146.3 L592.3,146.3 L593.1,146.3 L593.9,146.3 L594.7,146.3 L595.5,146.3 L596.3,146.3 L597.1,146.3 L597.9,146.3 L598.6,146.4 L599.4,146.4 L600.1,146.4 L600.8,146.4 L601.5,146.4 L602.2,146.4 L602.9,146.4 L603.5,146.4 L604.1,146.4 L604.7,146.5 L605.9,146.5 L607.0,146.5 L608.0,146.6 L609.0,146.6 L610.0,146.6 L610.9,146.7 L611.7,146.7 L612.5,146.8 L613.2,146.8 L613.9,146.8 L614.5,146.9 L615.0,146.9 L615.4,146.9 L615.4,146.9 L615.4,146.9 L614.8,146.9 L614.2,146.9 L613.6,146.9 L613.0,146.9 L612.4,146.9 L611.8,146.9 L611.2,146.9 L610.5,146.9 L609.9,146.9 L609.3,146.9 L608.7,146.9 L608.1,146.9 L607.5,146.9 L606.9,146.9 L606.3,146.9 L605.6,146.9 L605.0,146.9 L604.4,146.9 L603.8,146.9 L603.2,146.9 L602.6,146.9 L602.0,146.9 L601.4,146.9 L600.7,146.9 L600.1,146.9 L599.5,146.9 L598.9,146.9 L598.3,146.9 L597.7,146.9 L597.1,146.9 L596.5,146.9 L595.8,146.9 L595.2,146.9 L594.6,146.9 L594.0,146.9 L593.4,146.9 L592.8,146.9 L592.2,146.9 L591.6,146.9 L590.9,146.9 L590.3,146.9 L589.7,146.9 L589.1,146.9 L588.5,146.9 L587.9,146.9 L587.3,146.9 L586.7,146.9 L586.0,146.9 L585.4,146.9 L584.8,146.9 L584.2,146.9 L583.6,146.9 L583.0,146.9 L582.4,146.9 L581.8,146.9 L581.1,146.9 L580.5,146.9 L579.9,146.9 L579.3,146.9 L578.7,146.9 L578.1,146.9 L577.5,146.9 L576.9,146.9 L576.2,146.9 L575.6,146.9 L575.0,146.9 L574.4,146.9 L573.8,146.9 L573.2,146.9 L572.6,146.9 L572.0,146.9 L571.3,146.9 L570.7,146.9 L570.1,146.9 L569.5,146.9 L568.9,146.9 L568.3,146.9 L567.7,146.9 L567.1,146.9 L566.4,146.9 L565.8,146.9 L565.2,146.9 L564.6,146.9 L564.0,146.9 L563.4,146.9 L562.8,146.9 L562.2,146.9 L561.5,146.9 L560.9,146.9 L560.3,146.9 L559.7,146.9 L559.1,146.9 L558.5,146.9 L557.9,146.9 L557.3,146.9 L556.6,146.9 L556.0,146.9 L555.4,146.9 L554.8,146.9 L554.2,146.9 L553.6,146.9 L553.0,146.9 L552.4,146.9 L551.7,146.9 L551.1,146.9 L550.5,146.9 L549.9,146.9 L549.3,146.9 L548.7,146.9 L548.1,146.9 L547.5,146.9 L546.8,146.9 L546.2,146.9 L545.6,146.9 L545.0,146.9 L544.4,146.9 L543.8,146.9 L543.2,146.9 L542.6,146.9 L541.9,146.9 L541.3,146.9 L540.7,146.9 L540.1,146.9 L539.5,146.9 L538.9,146.9 L538.3,146.9 L537.7,146.9 L537.1,146.9 L536.4,146.9 L535.8,146.9 L535.2,146.9 L534.6,146.9 L534.0,146.9 L533.4,146.9 L532.8,146.9 L532.2,146.9 L531.5,146.9 L530.9,146.9 L530.3,146.9 L529.7,146.9 L529.1,146.9 L528.5,146.9 L527.9,146.9 L527.3,146.9 L526.6,146.9 L526.0,146.9 L525.4,146.9 L524.8,146.9 L524.2,146.9 L523.6,146.9 L523.0,146.9 L522.4,146.9 L521.7,146.9 L521.1,146.9 L520.5,146.9 L519.9,146.9 L519.3,146.9 L518.7,146.9 L518.1,146.9 L517.5,146.9 L516.8,146.9 L516.2,146.9 L515.6,146.9 L515.0,146.9 L514.4,146.9 L513.8,146.9 L513.2,146.9 L512.6,146.9 L511.9,146.9 L511.3,146.9 L510.7,146.9 L510.1,146.9 L509.5,146.9 L508.9,146.9 L508.3,146.9 L507.7,146.9 L507.0,146.9 L506.4,146.9 L505.8,146.9 L505.2,146.9 L504.6,146.9 L504.0,146.9 L503.4,146.9 L502.8,146.9 L502.1,146.9 L501.5,146.9 L500.9,146.9 L500.3,146.9 L499.7,146.9 L499.1,146.9 L498.5,146.9 L497.9,146.9 L497.2,146.9 L496.6,146.9 L496.0,146.9 L495.4,146.9 L494.8,146.9 L494.2,146.9 L493.6,146.9 L493.0,146.9 L492.3,146.9 L491.7,146.9 L491.1,146.9 L490.5,146.9 L489.9,146.9 L489.3,146.9 L488.7,146.9 L488.1,146.9 L487.4,146.9 L486.8,146.9 L486.2,146.9 L485.6,146.9 L485.0,146.9 L484.4,146.9 L483.8,146.9 L483.2,146.8 L482.5,146.8 L481.9,146.8 L481.3,146.8 L480.7,146.8 L480.1,146.8 L479.5,146.8 L478.9,146.8 L478.3,146.8 L477.6,146.8 L477.0,146.8 L476.4,146.7 L475.8,146.7 L475.2,146.7 L474.6,146.7 L474.0,146.7 L473.4,146.6 L472.7,146.6 L472.1,146.6 L471.5,146.5 L470.9,146.5 L470.3,146.5 L469.7,146.4 L469.1,146.4 L468.5,146.3 L467.8,146.3 L467.2,146.2 L466.6,146.1 L466.0,146.1 L465.4,146.0 L464.8,145.9 L464.2,145.8 L463.6,145.7 L462.9,145.5 L462.3,145.4 L461.7,145.2 L461.1,145.1 L460.5,144.9 L459.9,144.7 L459.3,144.5 L458.7,144.2 L458.1,144.0 L457.4,143.7 L456.8,143.3 L456.2,143.0 L455.6,142.6 L455.0,142.2 L454.4,141.7 L453.8,141.2 L453.2,140.6 L452.5,140.0 L451.9,139.3 L451.3,138.5 L450.7,137.7 L450.1,136.7 L449.5,135.7 L448.9,134.6 L448.3,133.4 L447.6,132.0 L447.0,130.5 Z" fill="#99da1e" fill-opacity="0.9"/>
<path d="M616.97,145.80 L623.09,145.80" stroke="#99da1e" stroke-width="0.9" stroke-opacity="0.75" fill="none" stroke-dasharray="14.6 0.8 24.4 0.5 24.5 0.3 27.5 0.7 21.3 0.6 27.5 0.5 26.9 0.3 11.8 0.8 12.6 0.9 24.7 0.9 20.7 0.8 17.5 0.5 15.9 0.9 27.7 0.8"/>
<path d="M434.9,144.4 L435.4,144.5 L436.1,145.5 L436.8,146.6 L437.7,147.8 L438.6,148.8 L439.5,149.8 L440.4,150.1 L441.3,150.1 L442.0,149.2 L442.8,148.1 L443.6,146.5 L444.3,144.8 L445.1,142.8 L445.9,140.7 L446.7,138.7 L447.6,137.5 L448.3,135.9 L449.1,134.3 L449.9,133.3 L450.6,131.9 L451.5,130.2 L452.3,128.6 L453.1,127.7 L453.9,127.0 L454.7,125.9 L455.5,125.9 L456.4,125.4 L457.2,126.5 L458.1,127.0 L458.9,128.3 L459.8,128.9 L460.7,131.0 L461.6,131.8 L462.5,133.5 L463.4,134.8 L464.2,135.7 L464.9,136.4 L465.7,137.0 L466.5,137.8 L467.3,138.9 L468.1,140.1 L468.9,141.2 L469.7,142.0 L470.5,142.9 L471.3,143.9 L472.1,144.3 L472.9,145.6 L473.7,146.3 L474.5,147.0 L475.2,147.6 L476.0,148.3 L476.7,148.8 L477.5,149.4 L478.2,149.7 L479.0,150.4 L479.8,150.9 L480.7,151.5 L481.5,152.1 L482.4,152.5 L483.2,152.8 L484.0,153.4 L484.8,153.6 L485.6,154.1 L486.5,154.3 L487.3,154.8 L488.2,155.1 L489.1,155.5 L490.0,155.6 L490.9,156.0 L491.7,156.4 L492.6,156.5 L493.5,156.9 L494.3,157.2 L495.1,157.5 L495.9,157.7 L496.8,158.0 L497.7,158.1 L498.6,158.5 L499.4,158.7 L500.3,159.0 L501.1,159.1 L501.9,159.4 L502.7,159.6 L503.5,159.8 L504.2,159.9 L504.9,160.0 L505.6,160.2 L506.2,160.3 L507.2,160.5 L507.7,160.7 L508.0,160.7 L508.9,160.7 L510.9,160.6 L511.4,160.6 L512.0,160.6 L512.5,160.6 L513.1,160.5 L513.7,160.5 L514.4,160.5 L515.1,160.4 L515.8,160.4 L516.5,160.3 L517.3,160.3 L518.1,160.2 L518.9,160.2 L519.7,160.1 L520.5,160.1 L521.4,160.0 L522.3,160.0 L523.1,159.9 L524.0,159.9 L524.9,159.8 L525.8,159.8 L526.7,159.7 L527.6,159.6 L528.5,159.5 L529.4,159.7 L530.3,159.6 L531.2,159.6 L532.1,159.5 L533.0,159.4 L533.9,159.5 L534.6,159.4 L535.3,159.5 L536.0,159.5 L536.8,159.5 L537.5,159.5 L538.2,159.5 L539.0,159.5 L539.7,159.5 L540.4,159.5 L541.1,159.5 L541.9,159.6 L542.6,159.6 L543.4,159.6 L544.1,159.6 L544.9,159.6 L545.6,159.7 L546.4,159.6 L547.2,159.7 L548.0,159.7 L548.7,159.7 L549.5,159.8 L550.3,159.8 L551.1,159.8 L552.0,159.8 L552.8,159.9 L553.6,159.9 L554.5,159.9 L555.3,159.9 L556.2,159.9 L557.0,160.0 L557.9,160.0 L558.8,160.0 L559.7,160.0 L560.7,160.0 L561.6,160.1 L562.3,160.1 L563.0,160.1 L563.7,160.1 L564.5,160.1 L565.3,160.1 L566.0,160.1 L566.9,160.1 L567.7,160.1 L568.5,160.2 L569.3,160.2 L570.2,160.2 L571.1,160.2 L571.9,160.2 L572.8,160.2 L573.7,160.2 L574.6,160.2 L575.5,160.2 L576.4,160.2 L577.3,160.3 L578.2,160.3 L579.1,160.3 L580.0,160.3 L580.9,160.3 L581.8,160.3 L582.7,160.3 L583.6,160.3 L584.5,160.3 L585.4,160.3 L586.2,160.3 L587.1,160.4 L587.9,160.4 L588.8,160.4 L589.6,160.4 L590.4,160.4 L591.2,160.4 L592.0,160.4 L592.7,160.4 L593.5,160.4 L594.2,160.4 L594.9,160.4 L595.5,160.5 L596.2,160.5 L596.8,160.5 L597.4,160.5 L598.0,160.5 L598.6,160.5 L599.1,160.5 L599.6,160.5 L601.6,160.6 L603.2,160.6 L604.4,160.6 L605.3,160.7 L605.9,160.7 L606.3,160.8 L606.7,160.8 L606.9,160.8 L607.2,160.8 L607.5,160.9 L607.5,160.9 L607.2,160.9 L606.5,160.9 L605.9,160.9 L605.3,160.9 L604.6,160.9 L604.0,160.9 L603.4,160.9 L602.7,160.9 L602.1,160.9 L601.5,160.9 L600.8,160.9 L600.2,160.9 L599.6,160.9 L598.9,160.9 L598.3,160.9 L597.7,160.9 L597.0,160.9 L596.4,160.9 L595.8,160.9 L595.1,160.9 L594.5,160.9 L593.9,160.9 L593.2,160.9 L592.6,160.9 L592.0,160.9 L591.3,160.9 L590.7,160.9 L590.1,160.9 L589.4,160.9 L588.8,160.9 L588.2,160.9 L587.5,160.9 L586.9,160.9 L586.3,160.9 L585.6,160.9 L585.0,160.9 L584.4,160.9 L583.7,160.9 L583.1,160.9 L582.5,160.9 L581.8,160.9 L581.2,160.9 L580.6,160.9 L579.9,160.9 L579.3,160.9 L578.7,160.9 L578.0,160.9 L577.4,160.9 L576.8,160.9 L576.2,160.9 L575.5,160.9 L574.9,160.9 L574.3,160.9 L573.6,160.9 L573.0,160.9 L572.4,160.9 L571.7,160.9 L571.1,160.9 L570.5,160.9 L569.8,160.9 L569.2,160.9 L568.6,160.9 L567.9,160.9 L567.3,160.9 L566.7,160.9 L566.0,160.9 L565.4,160.9 L564.8,160.9 L564.1,160.9 L563.5,160.9 L562.9,160.9 L562.2,160.9 L561.6,160.9 L561.0,160.9 L560.3,160.9 L559.7,160.9 L559.1,160.9 L558.4,160.9 L557.8,160.9 L557.2,160.9 L556.5,160.9 L555.9,160.9 L555.3,160.9 L554.6,160.9 L554.0,160.9 L553.4,160.9 L552.7,160.9 L552.1,160.9 L551.5,160.9 L550.8,160.9 L550.2,160.9 L549.6,160.9 L548.9,160.9 L548.3,160.9 L547.7,160.9 L547.0,160.9 L546.4,160.9 L545.8,160.9 L545.1,160.9 L544.5,160.9 L543.9,160.9 L543.2,160.9 L542.6,160.9 L542.0,160.9 L541.3,160.9 L540.7,160.9 L540.1,160.9 L539.4,160.9 L538.8,160.9 L538.2,160.9 L537.5,160.9 L536.9,160.9 L536.3,160.9 L535.6,160.9 L535.0,160.9 L534.4,160.9 L533.7,160.9 L533.1,160.9 L532.5,160.9 L531.8,160.9 L531.2,160.9 L530.6,160.9 L529.9,160.9 L529.3,160.9 L528.7,160.9 L528.0,160.9 L527.4,160.9 L526.8,160.9 L526.1,160.9 L525.5,160.9 L524.9,160.9 L524.2,160.9 L523.6,160.9 L523.0,160.9 L522.3,160.9 L521.7,160.9 L521.1,160.9 L520.4,160.9 L519.8,160.9 L519.2,160.9 L518.5,160.9 L517.9,160.9 L517.3,160.9 L516.6,160.9 L516.0,160.9 L515.4,160.9 L514.7,160.9 L514.1,160.9 L513.5,160.9 L512.8,160.9 L512.2,160.9 L511.6,160.9 L510.9,160.9 L510.3,160.9 L509.7,160.9 L509.0,160.9 L508.4,160.9 L507.8,160.9 L507.1,160.9 L506.5,160.9 L505.9,160.9 L505.2,160.9 L504.6,160.9 L504.0,160.9 L503.3,160.9 L502.7,160.9 L502.1,160.9 L501.4,160.9 L500.8,160.9 L500.2,160.9 L499.5,160.9 L498.9,160.9 L498.3,160.9 L497.6,160.9 L497.0,160.9 L496.4,160.9 L495.7,160.9 L495.1,160.9 L494.5,160.9 L493.8,160.9 L493.2,160.9 L492.6,160.9 L491.9,160.9 L491.3,160.9 L490.7,160.9 L490.0,160.9 L489.4,160.9 L488.8,160.9 L488.1,160.9 L487.5,160.9 L486.9,160.9 L486.2,160.9 L485.6,160.9 L485.0,160.8 L484.3,160.8 L483.7,160.8 L483.1,160.8 L482.4,160.8 L481.8,160.8 L481.2,160.8 L480.5,160.8 L479.9,160.8 L479.3,160.8 L478.6,160.8 L478.0,160.8 L477.4,160.8 L476.7,160.8 L476.1,160.8 L475.5,160.8 L474.8,160.8 L474.2,160.8 L473.6,160.8 L472.9,160.8 L472.3,160.8 L471.7,160.8 L471.0,160.8 L470.4,160.8 L469.8,160.8 L469.1,160.8 L468.5,160.8 L467.9,160.7 L467.2,160.7 L466.6,160.7 L466.0,160.7 L465.3,160.7 L464.7,160.7 L464.1,160.7 L463.4,160.6 L462.8,160.6 L462.2,160.6 L461.5,160.6 L460.9,160.5 L460.3,160.5 L459.6,160.5 L459.0,160.4 L458.4,160.4 L457.7,160.3 L457.1,160.3 L456.5,160.2 L455.8,160.1 L455.2,160.1 L454.6,160.0 L453.9,159.9 L453.3,159.8 L452.7,159.7 L452.0,159.6 L451.4,159.5 L450.8,159.3 L450.1,159.2 L449.5,159.0 L448.9,158.8 L448.2,158.6 L447.6,158.4 L447.0,158.1 L446.3,157.9 L445.7,157.6 L445.1,157.2 L444.4,156.9 L443.8,156.5 L443.2,156.0 L442.5,155.6 L441.9,155.0 L441.3,154.5 L440.6,153.8 L440.0,153.1 L439.4,152.3 L438.7,151.5 L438.1,150.5 L437.5,149.5 L436.8,148.4 L436.2,147.1 L435.6,145.8 L434.9,144.3 Z" fill="#dfd61e" fill-opacity="0.9"/>
<path d="M609.08,159.58 L617.00,159.58" stroke="#dfd61e" stroke-width="0.9" stroke-opacity="0.75" fill="none" stroke-dasharray="15.4 0.3 16.2 0.4 26.4 0.5 11.3 0.7 27.7 0.8 15.0 0.6 18.4 0.6 23.5 0.5 11.4 0.3 28.3 0.7 27.3 0.5 19.3 0.8 23.1 0.8 12.9 0.8 13.2 0.4 12.9 0.5"/>
<path d="M422.0,159.1 L422.5,159.9 L423.2,160.6 L424.0,161.6 L424.8,162.7 L425.8,163.9 L426.7,164.7 L427.7,165.2 L428.5,165.1 L429.3,164.7 L430.1,163.4 L430.9,162.1 L431.7,160.6 L432.5,158.9 L433.3,156.9 L434.2,155.4 L435.1,153.5 L435.8,152.3 L436.6,151.2 L437.4,150.4 L438.2,149.1 L439.1,147.7 L439.9,146.5 L440.8,145.1 L441.6,144.1 L442.5,143.8 L443.3,143.5 L444.2,143.6 L445.1,144.3 L446.0,144.8 L446.8,145.9 L447.7,146.9 L448.6,148.2 L449.5,149.1 L450.5,150.0 L451.5,151.6 L452.2,152.1 L453.0,153.2 L453.8,153.9 L454.6,154.8 L455.4,155.2 L456.2,156.2 L457.0,156.9 L457.9,158.2 L458.7,158.7 L459.6,159.6 L460.4,160.5 L461.3,161.0 L462.1,161.8 L462.8,162.6 L463.6,163.0 L464.4,163.7 L465.2,164.4 L465.9,164.8 L466.7,165.5 L467.6,166.0 L468.4,166.5 L469.2,167.1 L470.1,167.5 L471.0,168.2 L471.9,168.5 L472.8,169.1 L473.6,169.5 L474.4,169.7 L475.3,170.3 L476.2,170.7 L477.1,171.0 L478.0,171.5 L479.0,171.8 L479.9,172.2 L480.8,172.5 L481.8,172.8 L482.7,173.2 L483.6,173.5 L484.4,173.7 L485.3,174.1 L486.1,174.3 L486.8,174.4 L487.5,174.7 L488.6,175.0 L489.5,175.2 L490.3,175.4 L491.0,175.5 L491.6,175.6 L492.3,175.7 L493.0,175.7 L493.8,175.7 L494.7,175.7 L495.7,175.7 L496.4,175.7 L497.0,175.7 L497.7,175.6 L498.3,175.6 L499.0,175.6 L499.7,175.5 L500.4,175.5 L501.1,175.4 L501.9,175.4 L502.7,175.3 L503.5,175.2 L504.4,175.2 L505.3,175.1 L506.2,175.0 L507.2,175.0 L508.2,174.9 L509.3,174.9 L510.5,174.8 L511.1,174.8 L511.8,174.8 L512.5,174.8 L513.2,174.8 L513.8,174.7 L514.6,174.7 L515.3,174.7 L516.0,174.6 L516.7,174.6 L517.5,174.7 L518.3,174.6 L519.0,174.5 L519.8,174.6 L520.6,174.4 L521.4,174.5 L522.3,174.5 L523.1,174.5 L523.9,174.3 L524.8,174.4 L525.7,174.3 L526.6,174.3 L527.5,174.2 L528.4,174.3 L529.3,174.3 L530.3,174.3 L531.2,174.2 L532.2,174.3 L533.2,174.2 L534.2,174.2 L535.2,174.3 L536.2,174.1 L537.3,174.3 L538.4,174.3 L539.1,174.3 L539.8,174.3 L540.5,174.3 L541.3,174.3 L542.1,174.3 L542.9,174.3 L543.7,174.3 L544.5,174.3 L545.4,174.3 L546.2,174.3 L547.1,174.3 L548.0,174.3 L548.9,174.4 L549.8,174.5 L550.7,174.5 L551.6,174.5 L552.6,174.5 L553.5,174.4 L554.4,174.5 L555.4,174.6 L556.3,174.7 L557.3,174.6 L558.2,174.7 L559.2,174.7 L560.1,174.7 L561.1,174.7 L562.0,174.8 L562.9,174.8 L563.9,174.8 L564.8,174.8 L565.7,174.9 L566.6,174.9 L567.5,174.9 L568.4,174.9 L569.3,175.0 L570.1,175.0 L571.0,175.0 L571.8,175.1 L572.7,175.1 L573.5,175.1 L574.3,175.1 L575.0,175.1 L575.8,175.2 L576.5,175.2 L577.2,175.2 L577.9,175.2 L578.6,175.3 L579.2,175.3 L579.8,175.3 L580.4,175.3 L581.0,175.3 L582.6,175.4 L584.1,175.4 L585.4,175.5 L586.6,175.5 L587.7,175.5 L588.6,175.6 L589.5,175.6 L590.2,175.6 L590.8,175.7 L591.4,175.7 L591.9,175.7 L592.4,175.7 L592.9,175.7 L593.3,175.8 L593.7,175.8 L594.1,175.8 L594.1,175.8 L593.8,175.8 L593.1,175.8 L592.4,175.8 L591.8,175.8 L591.1,175.8 L590.5,175.8 L589.8,175.8 L589.2,175.8 L588.5,175.8 L587.9,175.8 L587.2,175.8 L586.5,175.8 L585.9,175.8 L585.2,175.8 L584.6,175.8 L583.9,175.8 L583.3,175.8 L582.6,175.8 L582.0,175.8 L581.3,175.8 L580.6,175.8 L580.0,175.8 L579.3,175.8 L578.7,175.8 L578.0,175.8 L577.4,175.8 L576.7,175.8 L576.0,175.8 L575.4,175.8 L574.7,175.8 L574.1,175.8 L573.4,175.8 L572.8,175.8 L572.1,175.8 L571.5,175.8 L570.8,175.8 L570.1,175.8 L569.5,175.8 L568.8,175.8 L568.2,175.8 L567.5,175.8 L566.9,175.8 L566.2,175.8 L565.6,175.8 L564.9,175.8 L564.2,175.8 L563.6,175.8 L562.9,175.8 L562.3,175.8 L561.6,175.8 L561.0,175.8 L560.3,175.8 L559.7,175.8 L559.0,175.8 L558.3,175.8 L557.7,175.8 L557.0,175.8 L556.4,175.8 L555.7,175.8 L555.1,175.8 L554.4,175.8 L553.8,175.8 L553.1,175.8 L552.4,175.8 L551.8,175.8 L551.1,175.8 L550.5,175.8 L549.8,175.8 L549.2,175.8 L548.5,175.8 L547.9,175.8 L547.2,175.8 L546.5,175.8 L545.9,175.8 L545.2,175.8 L544.6,175.8 L543.9,175.8 L543.3,175.8 L542.6,175.8 L542.0,175.8 L541.3,175.8 L540.6,175.8 L540.0,175.8 L539.3,175.8 L538.7,175.8 L538.0,175.8 L537.4,175.8 L536.7,175.8 L536.1,175.8 L535.4,175.8 L534.7,175.8 L534.1,175.8 L533.4,175.8 L532.8,175.8 L532.1,175.8 L531.5,175.8 L530.8,175.8 L530.2,175.8 L529.5,175.8 L528.8,175.8 L528.2,175.8 L527.5,175.8 L526.9,175.8 L526.2,175.8 L525.6,175.8 L524.9,175.8 L524.3,175.8 L523.6,175.8 L522.9,175.8 L522.3,175.8 L521.6,175.8 L521.0,175.8 L520.3,175.8 L519.7,175.8 L519.0,175.8 L518.4,175.8 L517.7,175.8 L517.0,175.8 L516.4,175.8 L515.7,175.8 L515.1,175.8 L514.4,175.8 L513.8,175.8 L513.1,175.8 L512.5,175.8 L511.8,175.8 L511.1,175.8 L510.5,175.8 L509.8,175.8 L509.2,175.8 L508.5,175.8 L507.9,175.8 L507.2,175.8 L506.6,175.8 L505.9,175.8 L505.2,175.8 L504.6,175.8 L503.9,175.8 L503.3,175.8 L502.6,175.8 L502.0,175.8 L501.3,175.8 L500.7,175.8 L500.0,175.8 L499.3,175.8 L498.7,175.8 L498.0,175.8 L497.4,175.8 L496.7,175.8 L496.1,175.8 L495.4,175.8 L494.8,175.8 L494.1,175.8 L493.4,175.8 L492.8,175.8 L492.1,175.8 L491.5,175.8 L490.8,175.8 L490.2,175.8 L489.5,175.8 L488.8,175.8 L488.2,175.8 L487.5,175.8 L486.9,175.8 L486.2,175.8 L485.6,175.8 L484.9,175.8 L484.3,175.8 L483.6,175.8 L482.9,175.8 L482.3,175.8 L481.6,175.8 L481.0,175.8 L480.3,175.8 L479.7,175.8 L479.0,175.8 L478.4,175.8 L477.7,175.8 L477.0,175.8 L476.4,175.8 L475.7,175.8 L475.1,175.8 L474.4,175.8 L473.8,175.8 L473.1,175.8 L472.5,175.8 L471.8,175.8 L471.1,175.8 L470.5,175.8 L469.8,175.8 L469.2,175.8 L468.5,175.8 L467.9,175.8 L467.2,175.8 L466.6,175.8 L465.9,175.8 L465.2,175.8 L464.6,175.8 L463.9,175.8 L463.3,175.8 L462.6,175.7 L462.0,175.7 L461.3,175.7 L460.7,175.7 L460.0,175.7 L459.3,175.7 L458.7,175.7 L458.0,175.7 L457.4,175.7 L456.7,175.7 L456.1,175.7 L455.4,175.7 L454.8,175.7 L454.1,175.6 L453.4,175.6 L452.8,175.6 L452.1,175.6 L451.5,175.6 L450.8,175.5 L450.2,175.5 L449.5,175.5 L448.9,175.5 L448.2,175.4 L447.5,175.4 L446.9,175.3 L446.2,175.3 L445.6,175.3 L444.9,175.2 L444.3,175.1 L443.6,175.1 L443.0,175.0 L442.3,174.9 L441.6,174.8 L441.0,174.7 L440.3,174.6 L439.7,174.5 L439.0,174.4 L438.4,174.3 L437.7,174.1 L437.1,173.9 L436.4,173.8 L435.7,173.5 L435.1,173.3 L434.4,173.1 L433.8,172.8 L433.1,172.5 L432.5,172.2 L431.8,171.8 L431.2,171.4 L430.5,171.0 L429.8,170.5 L429.2,170.0 L428.5,169.4 L427.9,168.8 L427.2,168.0 L426.6,167.3 L425.9,166.4 L425.3,165.5 L424.6,164.5 L423.9,163.3 L423.3,162.1 L422.6,160.7 L422.0,159.2 Z" fill="#dfa219" fill-opacity="0.9"/>
<path d="M597.36,174.32 L610.47,174.32" stroke="#dfa219" stroke-width="0.9" stroke-opacity="0.55" fill="none" stroke-dasharray="2.8 1.7 2.8 2.8 3.8 1.5 3.8 2.9 2.1 2.5 7.5 1.3 2.7 1.1 4.0 2.2 6.0 2.6 6.1 1.6 2.9 2.6 3.1 0.8 8.7 1.0 1.6 2.4 8.2 1.7 4.2 2.2 3.6 1.4 2.5 1.1 8.3 1.9 1.7 2.7 4.0 2.2 8.7 1.6 1.6 0.6 2.7 1.2 5.5 2.0 6.3 1.1 6.6 2.9 8.6 2.5 4.0 1.9 3.1 2.4 2.6 1.7 8.2 2.7 7.2 2.0 6.1 1.9 3.3 0.8 7.1 0.8 3.9 0.9 5.3 1.7 5.3 1.9 6.6 1.6 4.8 2.9 8.8 2.8 5.0 1.8 2.2 0.7 8.5 1.5"/>
<path d="M408.1,175.8 L408.6,176.4 L409.4,177.0 L410.3,178.2 L411.4,178.9 L412.4,180.0 L413.4,180.7 L414.2,181.3 L414.9,181.5 L415.5,179.4 L416.6,175.3 L417.1,174.3 L417.8,173.5 L418.6,172.1 L419.5,171.3 L420.4,170.3 L421.3,169.0 L422.3,167.9 L423.3,167.1 L424.3,165.9 L425.2,165.4 L426.0,164.7 L426.8,164.2 L427.9,163.9 L428.9,163.9 L429.7,164.9 L430.6,166.1 L431.5,166.9 L432.4,168.2 L433.6,168.9 L434.3,169.4 L435.1,170.7 L435.9,171.1 L436.7,172.2 L437.6,173.1 L438.4,173.8 L439.3,174.7 L440.2,175.6 L441.1,176.5 L442.0,177.3 L442.9,178.0 L443.8,178.9 L444.6,179.6 L445.4,180.4 L446.2,180.9 L447.0,181.8 L447.8,182.3 L448.6,183.2 L449.5,183.6 L450.3,184.4 L451.2,184.8 L452.1,185.5 L453.0,186.0 L453.9,186.8 L454.8,187.0 L455.6,187.4 L456.5,187.7 L457.5,188.2 L458.4,188.5 L459.4,188.7 L460.4,189.0 L461.3,189.5 L462.3,189.7 L463.3,189.9 L464.2,190.1 L465.1,190.4 L466.0,190.6 L466.8,190.8 L467.5,191.0 L468.5,191.2 L469.3,191.4 L470.0,191.5 L470.6,191.6 L471.2,191.7 L471.8,191.7 L472.6,191.7 L473.5,191.7 L474.6,191.7 L476.0,191.7 L476.7,191.7 L477.3,191.7 L478.0,191.6 L478.7,191.6 L479.4,191.6 L480.1,191.5 L480.9,191.4 L481.6,191.4 L482.4,191.3 L483.3,191.3 L484.1,191.2 L485.0,191.1 L485.9,191.1 L486.8,191.0 L487.7,190.9 L488.6,190.9 L489.6,190.8 L490.6,190.7 L491.6,190.7 L492.6,190.6 L493.6,190.5 L494.6,190.5 L495.7,190.4 L496.8,190.5 L497.9,190.4 L499.0,190.4 L499.7,190.3 L500.4,190.3 L501.1,190.3 L501.9,190.3 L502.6,190.4 L503.4,190.3 L504.2,190.3 L505.0,190.3 L505.8,190.3 L506.6,190.2 L507.4,190.2 L508.2,190.3 L509.1,190.3 L509.9,190.3 L510.7,190.3 L511.6,190.3 L512.4,190.3 L513.3,190.3 L514.2,190.3 L515.0,190.2 L515.9,190.3 L516.8,190.3 L517.7,190.3 L518.6,190.3 L519.5,190.3 L520.4,190.3 L521.3,190.4 L522.2,190.4 L523.1,190.3 L524.0,190.4 L524.9,190.4 L525.8,190.4 L526.7,190.4 L527.6,190.4 L528.5,190.4 L529.4,190.5 L530.3,190.5 L531.1,190.4 L532.0,190.4 L532.9,190.5 L533.8,190.5 L534.7,190.5 L535.5,190.6 L536.4,190.5 L537.3,190.5 L538.2,190.6 L539.1,190.6 L540.1,190.6 L541.0,190.6 L542.0,190.6 L542.9,190.6 L543.9,190.6 L544.9,190.6 L545.8,190.7 L546.8,190.7 L547.8,190.7 L548.8,190.7 L549.8,190.7 L550.7,190.7 L551.7,190.8 L552.7,190.8 L553.7,190.8 L554.6,190.8 L555.6,190.8 L556.5,190.9 L557.5,190.9 L558.4,190.9 L559.3,190.9 L560.2,190.9 L561.1,191.0 L561.9,191.0 L562.8,191.0 L563.6,191.0 L564.4,191.0 L565.2,191.1 L566.0,191.1 L566.7,191.1 L567.4,191.1 L568.1,191.1 L568.8,191.1 L569.4,191.2 L570.1,191.2 L570.6,191.2 L571.2,191.2 L573.2,191.3 L574.9,191.4 L576.1,191.4 L577.1,191.5 L577.8,191.6 L578.3,191.6 L578.7,191.7 L579.0,191.7 L579.3,191.8 L579.7,191.8 L579.7,191.8 L579.3,191.8 L578.7,191.8 L578.0,191.8 L577.3,191.8 L576.6,191.8 L575.9,191.8 L575.3,191.8 L574.6,191.8 L573.9,191.8 L573.2,191.8 L572.5,191.8 L571.9,191.8 L571.2,191.8 L570.5,191.8 L569.8,191.8 L569.1,191.8 L568.5,191.8 L567.8,191.8 L567.1,191.8 L566.4,191.8 L565.7,191.8 L565.1,191.8 L564.4,191.8 L563.7,191.8 L563.0,191.8 L562.3,191.8 L561.7,191.8 L561.0,191.8 L560.3,191.8 L559.6,191.8 L559.0,191.8 L558.3,191.8 L557.6,191.8 L556.9,191.8 L556.2,191.8 L555.6,191.8 L554.9,191.8 L554.2,191.8 L553.5,191.8 L552.8,191.8 L552.2,191.8 L551.5,191.8 L550.8,191.8 L550.1,191.8 L549.4,191.8 L548.8,191.8 L548.1,191.8 L547.4,191.8 L546.7,191.8 L546.0,191.8 L545.4,191.8 L544.7,191.8 L544.0,191.8 L543.3,191.8 L542.6,191.8 L542.0,191.8 L541.3,191.8 L540.6,191.8 L539.9,191.8 L539.2,191.8 L538.6,191.8 L537.9,191.8 L537.2,191.8 L536.5,191.8 L535.8,191.8 L535.2,191.8 L534.5,191.8 L533.8,191.8 L533.1,191.8 L532.4,191.8 L531.8,191.8 L531.1,191.8 L530.4,191.8 L529.7,191.8 L529.0,191.8 L528.4,191.8 L527.7,191.8 L527.0,191.8 L526.3,191.8 L525.6,191.8 L525.0,191.8 L524.3,191.8 L523.6,191.8 L522.9,191.8 L522.3,191.8 L521.6,191.8 L520.9,191.8 L520.2,191.8 L519.5,191.8 L518.9,191.8 L518.2,191.8 L517.5,191.8 L516.8,191.8 L516.1,191.8 L515.5,191.8 L514.8,191.8 L514.1,191.8 L513.4,191.8 L512.7,191.8 L512.1,191.8 L511.4,191.8 L510.7,191.8 L510.0,191.8 L509.3,191.8 L508.7,191.8 L508.0,191.8 L507.3,191.8 L506.6,191.8 L505.9,191.8 L505.3,191.8 L504.6,191.8 L503.9,191.8 L503.2,191.8 L502.5,191.8 L501.9,191.8 L501.2,191.8 L500.5,191.8 L499.8,191.8 L499.1,191.8 L498.5,191.8 L497.8,191.8 L497.1,191.8 L496.4,191.8 L495.7,191.8 L495.1,191.8 L494.4,191.8 L493.7,191.8 L493.0,191.8 L492.3,191.8 L491.7,191.8 L491.0,191.8 L490.3,191.8 L489.6,191.8 L488.9,191.8 L488.3,191.8 L487.6,191.8 L486.9,191.8 L486.2,191.8 L485.6,191.8 L484.9,191.8 L484.2,191.8 L483.5,191.8 L482.8,191.8 L482.2,191.8 L481.5,191.8 L480.8,191.8 L480.1,191.8 L479.4,191.8 L478.8,191.8 L478.1,191.8 L477.4,191.8 L476.7,191.8 L476.0,191.8 L475.4,191.8 L474.7,191.8 L474.0,191.8 L473.3,191.8 L472.6,191.8 L472.0,191.8 L471.3,191.8 L470.6,191.8 L469.9,191.8 L469.2,191.8 L468.6,191.8 L467.9,191.8 L467.2,191.8 L466.5,191.8 L465.8,191.8 L465.2,191.8 L464.5,191.8 L463.8,191.8 L463.1,191.8 L462.4,191.8 L461.8,191.8 L461.1,191.8 L460.4,191.8 L459.7,191.8 L459.0,191.8 L458.4,191.8 L457.7,191.8 L457.0,191.8 L456.3,191.8 L455.6,191.8 L455.0,191.8 L454.3,191.8 L453.6,191.8 L452.9,191.8 L452.2,191.8 L451.6,191.8 L450.9,191.8 L450.2,191.8 L449.5,191.8 L448.9,191.8 L448.2,191.8 L447.5,191.8 L446.8,191.8 L446.1,191.7 L445.5,191.7 L444.8,191.7 L444.1,191.7 L443.4,191.7 L442.7,191.7 L442.1,191.7 L441.4,191.7 L440.7,191.7 L440.0,191.6 L439.3,191.6 L438.7,191.6 L438.0,191.6 L437.3,191.6 L436.6,191.5 L435.9,191.5 L435.3,191.5 L434.6,191.4 L433.9,191.4 L433.2,191.4 L432.5,191.3 L431.9,191.3 L431.2,191.2 L430.5,191.1 L429.8,191.1 L429.1,191.0 L428.5,190.9 L427.8,190.8 L427.1,190.7 L426.4,190.6 L425.7,190.5 L425.1,190.3 L424.4,190.2 L423.7,190.0 L423.0,189.9 L422.3,189.7 L421.7,189.4 L421.0,189.2 L420.3,188.9 L419.6,188.7 L418.9,188.3 L418.3,188.0 L417.6,187.6 L416.9,187.2 L416.2,186.7 L415.5,186.2 L414.9,185.7 L414.2,185.0 L413.5,184.4 L412.8,183.6 L412.2,182.8 L411.5,181.9 L410.8,180.9 L410.1,179.8 L409.4,178.6 L408.8,177.3 L408.1,175.8 Z" fill="#ed7517" fill-opacity="0.9"/>
<path d="M583.08,190.15 L603.47,190.15" stroke="#ed7517" stroke-width="0.9" stroke-opacity="0.55" fill="none" stroke-dasharray="2.4 2.4 5.2 2.0 3.5 0.8 7.0 0.7 4.7 1.2 8.9 2.4 7.1 2.9 4.8 2.5 3.8 1.5 8.3 2.1 7.8 0.7 7.3 1.0 4.3 2.0 2.9 2.7 4.2 0.9 5.6 1.7 4.3 0.6 6.5 1.9 3.5 1.0 3.1 2.0 7.9 2.2 2.5 1.4 8.5 2.0 5.3 1.5 8.3 2.0 5.1 2.5 5.8 1.9 4.6 0.5 3.8 1.2 3.2 2.7 4.3 0.6 4.6 2.7 2.6 1.6 8.4 2.5 3.1 0.6 8.9 1.3 5.9 2.0 1.8 3.0 2.7 1.5 1.9 1.0 8.8 2.5 2.3 1.0 8.2 2.4 2.3 1.2"/>
<path d="M393.1,193.0 L393.7,193.4 L394.5,194.2 L395.4,195.0 L396.4,195.8 L397.5,196.6 L398.5,197.4 L399.4,197.7 L400.2,197.7 L401.1,196.1 L401.6,193.9 L402.3,190.6 L403.7,188.2 L404.4,187.4 L405.1,186.4 L406.0,185.4 L407.0,184.1 L408.0,183.0 L409.0,182.3 L410.1,181.5 L411.2,180.2 L412.2,179.6 L413.3,179.1 L414.3,178.5 L415.2,178.3 L416.0,177.7 L417.2,178.3 L418.2,178.7 L419.2,179.3 L420.2,180.4 L421.1,181.6 L422.1,182.9 L423.0,184.1 L423.9,185.3 L424.9,186.4 L425.7,187.8 L426.6,188.8 L427.4,189.9 L428.2,190.8 L429.0,191.9 L429.9,192.5 L430.8,193.6 L431.7,194.9 L432.7,195.6 L433.7,196.5 L434.5,197.3 L435.3,197.7 L436.1,198.4 L436.9,199.1 L437.8,199.5 L438.7,200.4 L439.6,201.0 L440.5,201.3 L441.5,201.9 L442.4,202.6 L443.3,203.0 L444.2,203.5 L445.1,204.0 L446.0,204.4 L446.9,204.7 L447.8,205.0 L448.8,205.5 L449.7,205.9 L450.7,206.1 L451.6,206.4 L452.5,206.7 L453.4,206.9 L454.4,207.3 L455.2,207.3 L456.1,207.6 L456.9,207.8 L457.7,208.0 L458.4,208.2 L459.5,208.5 L460.4,208.7 L461.0,208.8 L461.7,208.9 L462.5,209.0 L463.7,209.0 L465.4,208.9 L466.0,208.9 L466.7,208.9 L467.4,208.9 L468.1,208.8 L468.9,208.8 L469.6,208.7 L470.5,208.6 L471.3,208.6 L472.2,208.5 L473.1,208.4 L474.0,208.3 L474.9,208.2 L475.8,208.2 L476.8,208.1 L477.8,208.0 L478.7,207.9 L479.7,207.8 L480.7,207.8 L481.7,207.8 L482.7,207.6 L483.7,207.6 L484.7,207.4 L485.6,207.4 L486.6,207.5 L487.4,207.3 L488.2,207.4 L489.0,207.3 L489.8,207.4 L490.6,207.2 L491.5,207.3 L492.3,207.1 L493.1,207.2 L493.9,207.2 L494.7,207.3 L495.5,207.2 L496.4,207.2 L497.2,207.2 L498.1,207.0 L498.9,207.1 L499.8,207.2 L500.6,207.2 L501.5,207.1 L502.4,207.0 L503.3,207.1 L504.3,207.1 L505.2,207.1 L506.2,207.2 L507.2,207.2 L508.2,207.1 L509.2,207.1 L510.2,207.2 L511.3,207.2 L512.1,207.2 L512.9,207.1 L513.7,207.3 L514.5,207.3 L515.4,207.2 L516.2,207.3 L517.1,207.3 L518.0,207.3 L518.9,207.2 L519.9,207.4 L520.8,207.4 L521.8,207.3 L522.7,207.4 L523.7,207.3 L524.6,207.4 L525.6,207.5 L526.6,207.5 L527.6,207.6 L528.5,207.6 L529.5,207.6 L530.5,207.5 L531.5,207.7 L532.4,207.6 L533.4,207.6 L534.4,207.7 L535.3,207.8 L536.3,207.8 L537.2,207.8 L538.1,207.9 L539.0,207.9 L539.9,207.9 L540.8,207.9 L541.7,208.0 L542.6,208.0 L543.4,208.0 L544.2,208.0 L545.0,208.0 L545.8,208.0 L546.5,208.1 L547.7,208.1 L548.8,208.1 L549.8,208.1 L550.9,208.1 L551.9,208.1 L553.0,208.1 L554.0,208.1 L555.0,208.1 L556.0,208.1 L556.9,208.1 L557.8,208.1 L558.8,208.1 L559.7,208.0 L560.5,208.0 L561.4,208.0 L562.2,208.0 L563.1,208.0 L563.9,208.0 L564.6,208.0 L565.4,208.0 L566.1,208.0 L566.8,208.0 L567.5,208.0 L568.2,208.0 L568.9,208.0 L569.5,208.1 L571.0,208.1 L572.3,208.2 L573.4,208.3 L574.4,208.4 L575.3,208.6 L576.1,208.7 L576.7,208.8 L577.3,208.9 L577.8,209.0 L578.3,209.1 L578.3,209.1 L577.9,209.1 L577.2,209.1 L576.5,209.1 L575.8,209.1 L575.1,209.1 L574.4,209.1 L573.7,209.1 L573.0,209.1 L572.3,209.1 L571.6,209.1 L570.9,209.1 L570.2,209.1 L569.5,209.1 L568.8,209.1 L568.1,209.1 L567.4,209.1 L566.7,209.1 L565.9,209.1 L565.2,209.1 L564.5,209.1 L563.8,209.1 L563.1,209.1 L562.4,209.1 L561.7,209.1 L561.0,209.1 L560.3,209.1 L559.6,209.1 L558.9,209.1 L558.2,209.1 L557.5,209.1 L556.8,209.1 L556.1,209.1 L555.4,209.1 L554.7,209.1 L554.0,209.1 L553.3,209.1 L552.5,209.1 L551.8,209.1 L551.1,209.1 L550.4,209.1 L549.7,209.1 L549.0,209.1 L548.3,209.1 L547.6,209.1 L546.9,209.1 L546.2,209.1 L545.5,209.1 L544.8,209.1 L544.1,209.1 L543.4,209.1 L542.7,209.1 L542.0,209.1 L541.3,209.1 L540.6,209.1 L539.8,209.1 L539.1,209.1 L538.4,209.1 L537.7,209.1 L537.0,209.1 L536.3,209.1 L535.6,209.1 L534.9,209.1 L534.2,209.1 L533.5,209.1 L532.8,209.1 L532.1,209.1 L531.4,209.1 L530.7,209.1 L530.0,209.1 L529.3,209.1 L528.6,209.1 L527.9,209.1 L527.1,209.1 L526.4,209.1 L525.7,209.1 L525.0,209.1 L524.3,209.1 L523.6,209.1 L522.9,209.1 L522.2,209.1 L521.5,209.1 L520.8,209.1 L520.1,209.1 L519.4,209.1 L518.7,209.1 L518.0,209.1 L517.3,209.1 L516.6,209.1 L515.9,209.1 L515.2,209.1 L514.5,209.1 L513.7,209.1 L513.0,209.1 L512.3,209.1 L511.6,209.1 L510.9,209.1 L510.2,209.1 L509.5,209.1 L508.8,209.1 L508.1,209.1 L507.4,209.1 L506.7,209.1 L506.0,209.1 L505.3,209.1 L504.6,209.1 L503.9,209.1 L503.2,209.1 L502.5,209.1 L501.8,209.1 L501.0,209.1 L500.3,209.1 L499.6,209.1 L498.9,209.1 L498.2,209.1 L497.5,209.1 L496.8,209.1 L496.1,209.1 L495.4,209.1 L494.7,209.1 L494.0,209.1 L493.3,209.1 L492.6,209.1 L491.9,209.1 L491.2,209.1 L490.5,209.1 L489.8,209.1 L489.1,209.1 L488.4,209.1 L487.6,209.1 L486.9,209.1 L486.2,209.1 L485.5,209.1 L484.8,209.1 L484.1,209.1 L483.4,209.1 L482.7,209.1 L482.0,209.1 L481.3,209.1 L480.6,209.1 L479.9,209.1 L479.2,209.1 L478.5,209.1 L477.8,209.1 L477.1,209.1 L476.4,209.1 L475.7,209.1 L474.9,209.1 L474.2,209.1 L473.5,209.1 L472.8,209.1 L472.1,209.1 L471.4,209.1 L470.7,209.1 L470.0,209.1 L469.3,209.1 L468.6,209.1 L467.9,209.1 L467.2,209.1 L466.5,209.1 L465.8,209.1 L465.1,209.1 L464.4,209.1 L463.7,209.1 L463.0,209.1 L462.2,209.1 L461.5,209.1 L460.8,209.1 L460.1,209.1 L459.4,209.1 L458.7,209.1 L458.0,209.1 L457.3,209.1 L456.6,209.1 L455.9,209.1 L455.2,209.1 L454.5,209.1 L453.8,209.1 L453.1,209.1 L452.4,209.1 L451.7,209.1 L451.0,209.1 L450.3,209.1 L449.6,209.1 L448.8,209.1 L448.1,209.1 L447.4,209.1 L446.7,209.1 L446.0,209.1 L445.3,209.1 L444.6,209.1 L443.9,209.1 L443.2,209.1 L442.5,209.1 L441.8,209.0 L441.1,209.0 L440.4,209.0 L439.7,209.0 L439.0,209.0 L438.3,209.0 L437.6,209.0 L436.9,209.0 L436.1,209.0 L435.4,209.0 L434.7,209.0 L434.0,209.0 L433.3,209.0 L432.6,209.0 L431.9,209.0 L431.2,209.0 L430.5,209.0 L429.8,209.0 L429.1,208.9 L428.4,208.9 L427.7,208.9 L427.0,208.9 L426.3,208.9 L425.6,208.9 L424.9,208.8 L424.2,208.8 L423.5,208.8 L422.7,208.8 L422.0,208.7 L421.3,208.7 L420.6,208.7 L419.9,208.6 L419.2,208.6 L418.5,208.5 L417.8,208.5 L417.1,208.4 L416.4,208.4 L415.7,208.3 L415.0,208.2 L414.3,208.1 L413.6,208.0 L412.9,207.9 L412.2,207.8 L411.5,207.7 L410.8,207.6 L410.0,207.4 L409.3,207.3 L408.6,207.1 L407.9,206.9 L407.2,206.7 L406.5,206.4 L405.8,206.2 L405.1,205.9 L404.4,205.5 L403.7,205.2 L403.0,204.8 L402.3,204.4 L401.6,203.9 L400.9,203.4 L400.2,202.8 L399.5,202.2 L398.8,201.5 L398.1,200.8 L397.3,199.9 L396.6,199.0 L395.9,198.0 L395.2,196.9 L394.5,195.7 L393.8,194.3 L393.1,192.9 Z" fill="#f72c2c" fill-opacity="0.9"/>
<path d="M580.06,207.18 L595.93,207.18" stroke="#f72c2c" stroke-width="0.9" stroke-opacity="0.55" fill="none" stroke-dasharray="1.6 1.6 4.0 1.5 8.5 1.5 2.8 1.1 1.5 2.4 5.2 1.5 5.4 2.3 8.2 1.2 7.8 0.7 7.9 2.2 1.7 0.7 3.1 2.3 4.9 1.7 6.0 0.6 7.8 2.6 7.3 1.6 7.2 1.8 4.7 2.9 3.1 0.9 5.0 0.7 2.1 1.4 8.1 2.1 2.7 2.6 8.6 2.6 5.6 1.1 6.4 0.7 8.5 2.3 8.8 2.5 8.0 2.0 4.3 0.9 7.8 1.2 8.4 2.7 8.2 2.7 3.3 2.2 7.3 1.1 7.4 1.8 2.0 1.2 2.1 1.3 5.7 2.7 3.3 2.0 5.8 2.6 1.9 0.8"/>
<path d="M377.0,211.3 L377.9,212.1 L379.3,214.0 L380.6,215.2 L381.6,215.5 L382.5,216.1 L383.4,216.5 L384.3,216.2 L385.2,215.3 L386.0,214.4 L386.9,213.1 L388.0,210.9 L389.0,209.4 L390.0,206.9 L391.2,204.5 L392.3,202.4 L393.5,200.1 L394.4,199.4 L395.2,197.9 L396.0,197.2 L396.9,195.6 L397.8,195.8 L399.0,195.5 L399.7,195.3 L400.5,195.7 L401.4,196.9 L402.3,196.9 L403.2,197.7 L404.2,199.0 L405.1,199.5 L406.1,200.8 L407.1,201.7 L408.1,202.6 L409.1,203.3 L410.1,203.7 L411.1,204.9 L412.1,205.4 L413.1,206.4 L414.2,207.8 L415.2,208.7 L416.2,209.8 L417.2,210.4 L418.2,211.3 L419.1,212.1 L420.1,213.2 L421.1,213.9 L422.0,214.9 L422.9,215.4 L423.7,216.4 L424.6,217.2 L425.5,217.6 L426.4,218.4 L427.3,219.4 L428.3,219.8 L429.2,220.6 L430.0,221.1 L430.9,221.7 L431.8,222.1 L432.7,222.8 L433.6,223.3 L434.5,223.8 L435.4,224.2 L436.4,224.5 L437.3,225.0 L438.3,225.4 L439.3,225.6 L440.2,226.0 L441.2,226.2 L442.2,226.4 L443.2,226.5 L444.2,226.6 L445.2,226.7 L446.2,226.8 L447.3,226.9 L448.3,226.9 L449.3,227.0 L450.2,227.0 L451.2,227.1 L452.1,227.1 L453.1,227.2 L453.8,227.3 L454.5,227.3 L455.2,227.4 L455.8,227.4 L456.5,227.4 L457.2,227.4 L458.0,227.4 L459.0,227.4 L460.2,227.4 L461.5,227.3 L463.1,227.3 L463.8,227.3 L464.4,227.2 L465.1,227.2 L465.8,227.1 L466.6,227.1 L467.3,227.0 L468.1,227.0 L468.9,226.9 L469.7,226.8 L470.5,226.8 L471.4,226.7 L472.3,226.6 L473.2,226.6 L474.1,226.5 L475.0,226.4 L475.9,226.2 L476.9,226.2 L477.9,226.2 L478.8,226.1 L479.8,226.1 L480.8,226.0 L481.8,225.8 L482.8,225.8 L483.9,225.8 L484.9,225.7 L485.9,225.6 L487.0,225.7 L488.0,225.6 L489.0,225.4 L490.1,225.5 L491.1,225.4 L492.2,225.4 L493.3,225.3 L494.3,225.3 L495.1,225.3 L496.0,225.2 L496.9,225.2 L497.8,225.1 L498.7,225.3 L499.7,225.3 L500.6,225.2 L501.6,225.3 L502.6,225.2 L503.6,225.3 L504.6,225.3 L505.6,225.2 L506.6,225.3 L507.6,225.3 L508.6,225.4 L509.7,225.2 L510.7,225.3 L511.8,225.4 L512.8,225.4 L513.8,225.3 L514.9,225.3 L515.9,225.5 L516.9,225.3 L518.0,225.4 L519.0,225.6 L520.0,225.5 L521.0,225.5 L522.0,225.6 L522.9,225.6 L523.9,225.6 L524.9,225.6 L525.8,225.7 L526.7,225.7 L527.6,225.6 L528.5,225.8 L529.3,225.8 L530.2,225.7 L531.0,225.8 L531.8,225.7 L532.5,225.7 L533.3,225.8 L534.0,225.8 L534.6,225.8 L536.2,225.8 L537.6,225.9 L538.8,226.0 L540.0,226.0 L541.1,225.8 L542.2,225.9 L543.1,226.0 L544.0,226.0 L544.8,226.1 L545.6,226.1 L546.4,226.1 L547.1,226.1 L547.7,226.1 L548.4,226.1 L549.1,226.1 L549.8,226.2 L550.4,226.3 L551.1,226.4 L552.4,226.5 L553.6,226.6 L554.7,226.7 L555.8,226.9 L556.7,227.1 L557.6,227.2 L558.5,227.4 L559.2,227.5 L559.8,227.6 L560.3,227.7 L560.3,227.7 L560.3,227.7 L559.6,227.7 L558.8,227.7 L558.1,227.7 L557.4,227.7 L556.6,227.7 L555.9,227.7 L555.2,227.7 L554.4,227.7 L553.7,227.7 L553.0,227.7 L552.2,227.7 L551.5,227.7 L550.8,227.7 L550.0,227.7 L549.3,227.7 L548.6,227.7 L547.8,227.7 L547.1,227.7 L546.4,227.7 L545.6,227.7 L544.9,227.7 L544.2,227.7 L543.4,227.7 L542.7,227.7 L542.0,227.7 L541.2,227.7 L540.5,227.7 L539.8,227.7 L539.0,227.7 L538.3,227.7 L537.6,227.7 L536.8,227.7 L536.1,227.7 L535.4,227.7 L534.6,227.7 L533.9,227.7 L533.2,227.7 L532.4,227.7 L531.7,227.7 L531.0,227.7 L530.2,227.7 L529.5,227.7 L528.8,227.7 L528.0,227.7 L527.3,227.7 L526.6,227.7 L525.8,227.7 L525.1,227.7 L524.4,227.7 L523.6,227.7 L522.9,227.7 L522.2,227.7 L521.4,227.7 L520.7,227.7 L520.0,227.7 L519.2,227.7 L518.5,227.7 L517.8,227.7 L517.0,227.7 L516.3,227.7 L515.6,227.7 L514.8,227.7 L514.1,227.7 L513.4,227.7 L512.6,227.7 L511.9,227.7 L511.2,227.7 L510.4,227.7 L509.7,227.7 L509.0,227.7 L508.2,227.7 L507.5,227.7 L506.8,227.7 L506.0,227.7 L505.3,227.7 L504.6,227.7 L503.8,227.7 L503.1,227.7 L502.4,227.7 L501.6,227.7 L500.9,227.7 L500.2,227.7 L499.4,227.7 L498.7,227.7 L498.0,227.7 L497.2,227.7 L496.5,227.7 L495.8,227.7 L495.0,227.7 L494.3,227.7 L493.6,227.7 L492.8,227.7 L492.1,227.7 L491.4,227.7 L490.6,227.7 L489.9,227.7 L489.2,227.7 L488.4,227.7 L487.7,227.7 L487.0,227.7 L486.2,227.7 L485.5,227.7 L484.8,227.7 L484.0,227.7 L483.3,227.7 L482.6,227.7 L481.8,227.7 L481.1,227.7 L480.4,227.7 L479.6,227.7 L478.9,227.7 L478.2,227.7 L477.4,227.7 L476.7,227.7 L476.0,227.7 L475.2,227.7 L474.5,227.7 L473.8,227.7 L473.0,227.7 L472.3,227.7 L471.6,227.7 L470.8,227.7 L470.1,227.7 L469.4,227.7 L468.6,227.7 L467.9,227.7 L467.2,227.7 L466.4,227.7 L465.7,227.7 L465.0,227.7 L464.2,227.7 L463.5,227.7 L462.8,227.7 L462.0,227.7 L461.3,227.7 L460.6,227.7 L459.8,227.7 L459.1,227.7 L458.4,227.7 L457.6,227.7 L456.9,227.7 L456.2,227.7 L455.4,227.7 L454.7,227.7 L454.0,227.7 L453.2,227.7 L452.5,227.7 L451.8,227.7 L451.0,227.7 L450.3,227.7 L449.6,227.7 L448.8,227.7 L448.1,227.7 L447.4,227.7 L446.6,227.7 L445.9,227.7 L445.2,227.7 L444.4,227.7 L443.7,227.7 L443.0,227.7 L442.2,227.7 L441.5,227.7 L440.8,227.7 L440.0,227.7 L439.3,227.7 L438.6,227.7 L437.8,227.7 L437.1,227.7 L436.4,227.7 L435.6,227.7 L434.9,227.7 L434.2,227.7 L433.4,227.7 L432.7,227.7 L432.0,227.7 L431.2,227.7 L430.5,227.7 L429.8,227.7 L429.0,227.7 L428.3,227.7 L427.6,227.7 L426.8,227.7 L426.1,227.7 L425.4,227.6 L424.6,227.6 L423.9,227.6 L423.2,227.6 L422.4,227.6 L421.7,227.6 L421.0,227.6 L420.2,227.6 L419.5,227.6 L418.8,227.6 L418.0,227.6 L417.3,227.6 L416.6,227.6 L415.8,227.6 L415.1,227.6 L414.4,227.6 L413.6,227.5 L412.9,227.5 L412.2,227.5 L411.4,227.5 L410.7,227.5 L410.0,227.5 L409.2,227.4 L408.5,227.4 L407.8,227.4 L407.0,227.3 L406.3,227.3 L405.6,227.3 L404.8,227.2 L404.1,227.2 L403.4,227.1 L402.6,227.1 L401.9,227.0 L401.2,227.0 L400.4,226.9 L399.7,226.8 L399.0,226.7 L398.2,226.6 L397.5,226.5 L396.8,226.4 L396.0,226.3 L395.3,226.2 L394.6,226.0 L393.8,225.8 L393.1,225.7 L392.4,225.5 L391.6,225.2 L390.9,225.0 L390.2,224.7 L389.4,224.4 L388.7,224.1 L388.0,223.7 L387.2,223.3 L386.5,222.9 L385.8,222.4 L385.0,221.9 L384.3,221.3 L383.6,220.7 L382.8,220.0 L382.1,219.2 L381.4,218.4 L380.6,217.5 L379.9,216.4 L379.2,215.3 L378.4,214.1 L377.7,212.7 L377.0,211.2 Z" fill="#eb007c" fill-opacity="0.9"/>
<path d="M563.97,225.56 L587.80,225.56" stroke="#eb007c" stroke-width="0.9" stroke-opacity="0.55" fill="none" stroke-dasharray="7.7 2.9 5.1 2.5 6.6 2.0 2.6 1.2 4.8 1.9 1.8 1.0 7.9 2.4 8.5 1.0 4.8 0.8 3.6 1.9 1.6 1.9 8.3 2.3 2.2 1.3 5.7 2.6 8.4 2.4 2.1 1.8 6.7 1.3 3.9 1.2 8.4 0.6 2.3 1.0 4.2 2.5 2.2 1.8 7.7 2.0 6.6 1.7 5.0 2.9 3.8 1.5 5.6 0.8 5.3 3.0 4.3 2.3 6.5 1.0 1.8 2.8 7.1 2.7 8.4 1.9 7.2 2.2 3.2 1.2 1.8 1.2 6.6 1.2 7.5 0.7 3.5 2.6 1.8 0.5 7.0 1.4 5.3 0.8 3.7 2.4 6.1 3.0"/>
<line x1="368.42" y1="239.58" x2="583.49" y2="239.58" stroke="#8a8a8a" stroke-width="1.3" />
<line x1="377.77" y1="239.58" x2="377.77" y2="241.78" stroke="#222" stroke-width="0.9" />
<line x1="396.47" y1="239.58" x2="396.47" y2="243.18" stroke="#222" stroke-width="0.9" />
<text x="396.47" y="255.08" font-size="9.3" text-anchor="middle" font-weight="bold" >2</text>
<line x1="415.18" y1="239.58" x2="415.18" y2="241.78" stroke="#222" stroke-width="0.9" />
<line x1="433.88" y1="239.58" x2="433.88" y2="243.18" stroke="#222" stroke-width="0.9" />
<text x="433.88" y="255.08" font-size="9.3" text-anchor="middle" font-weight="bold" >4</text>
<line x1="452.58" y1="239.58" x2="452.58" y2="241.78" stroke="#222" stroke-width="0.9" />
<line x1="471.28" y1="239.58" x2="471.28" y2="243.18" stroke="#222" stroke-width="0.9" />
<text x="471.28" y="255.08" font-size="9.3" text-anchor="middle" font-weight="bold" >6</text>
<line x1="489.98" y1="239.58" x2="489.98" y2="241.78" stroke="#222" stroke-width="0.9" />
<line x1="508.68" y1="239.58" x2="508.68" y2="243.18" stroke="#222" stroke-width="0.9" />
<text x="508.68" y="255.08" font-size="9.3" text-anchor="middle" font-weight="bold" >8</text>
<line x1="527.38" y1="239.58" x2="527.38" y2="241.78" stroke="#222" stroke-width="0.9" />
<line x1="546.08" y1="239.58" x2="546.08" y2="243.18" stroke="#222" stroke-width="0.9" />
<text x="546.08" y="255.08" font-size="9.3" text-anchor="middle" font-weight="bold" >10</text>
<line x1="564.79" y1="239.58" x2="564.79" y2="241.78" stroke="#222" stroke-width="0.9" />
<line x1="583.49" y1="239.58" x2="583.49" y2="243.18" stroke="#222" stroke-width="0.9" />
<text x="583.49" y="255.08" font-size="9.3" text-anchor="middle" font-weight="bold" >12</text>
<text x="485.89" y="270.38" font-size="9.3" text-anchor="middle" font-weight="bold" >Frequency (GHz)</text>
<line x1="650.54" y1="85.50" x2="583.49" y2="239.58" stroke="#222" stroke-width="1.0" />
<text x="653.90" y="93.32" font-size="9.3" text-anchor="start" font-weight="bold" >10</text>
<text x="649.59" y="103.60" font-size="9.3" text-anchor="start" font-weight="bold" >30</text>
<text x="645.02" y="114.49" font-size="9.3" text-anchor="start" font-weight="bold" >50</text>
<text x="640.16" y="126.05" font-size="9.3" text-anchor="start" font-weight="bold" >70</text>
<text x="635.00" y="138.35" font-size="9.3" text-anchor="start" font-weight="bold" >90</text>
<text x="629.50" y="151.47" font-size="9.3" text-anchor="start" font-weight="bold" >130</text>
<text x="623.62" y="165.48" font-size="9.3" text-anchor="start" font-weight="bold" >170</text>
<text x="617.33" y="180.47" font-size="9.3" text-anchor="start" font-weight="bold" >210</text>
<text x="610.58" y="196.57" font-size="9.3" text-anchor="start" font-weight="bold" >230</text>
<text x="603.31" y="213.89" font-size="9.3" text-anchor="start" font-weight="bold" >270</text>
<text x="595.47" y="232.57" font-size="9.3" text-anchor="start" font-weight="bold" >300</text>
<line x1="650.54" y1="85.50" x2="650.54" y2="10.50" stroke="#8a8a8a" stroke-width="1.0" />
<line x1="650.54" y1="85.50" x2="653.34" y2="85.50" stroke="#8a8a8a" stroke-width="1.0" />
<text x="657.54" y="87.20" font-size="9.3" text-anchor="start" font-weight="bold" >0</text>
<line x1="650.54" y1="76.12" x2="651.94" y2="76.12" stroke="#8a8a8a" stroke-width="1.0" />
<line x1="650.54" y1="66.75" x2="653.34" y2="66.75" stroke="#8a8a8a" stroke-width="1.0" />
<text x="657.54" y="69.10" font-size="9.3" text-anchor="start" font-weight="bold" >20</text>
<line x1="650.54" y1="57.38" x2="651.94" y2="57.38" stroke="#8a8a8a" stroke-width="1.0" />
<line x1="650.54" y1="48.00" x2="653.34" y2="48.00" stroke="#8a8a8a" stroke-width="1.0" />
<text x="657.54" y="51.00" font-size="9.3" text-anchor="start" font-weight="bold" >40</text>
<line x1="650.54" y1="38.62" x2="651.94" y2="38.62" stroke="#8a8a8a" stroke-width="1.0" />
<line x1="650.54" y1="29.25" x2="653.34" y2="29.25" stroke="#8a8a8a" stroke-width="1.0" />
<text x="657.54" y="32.90" font-size="9.3" text-anchor="start" font-weight="bold" >60</text>
<line x1="650.54" y1="19.88" x2="651.94" y2="19.88" stroke="#8a8a8a" stroke-width="1.0" />
<line x1="650.54" y1="10.50" x2="653.34" y2="10.50" stroke="#8a8a8a" stroke-width="1.0" />
<text x="657.54" y="14.80" font-size="9.3" text-anchor="start" font-weight="bold" >80</text>
<text x="579.50" y="37.70" font-size="9.3" text-anchor="start" font-weight="bold" >Ac : -5 dBm</text>
<text x="579.50" y="50.50" font-size="9.3" text-anchor="start" font-weight="bold" >DC Bias: -45 V</text>
<line x1="123.99" y1="386.12" x2="277.75" y2="386.12" stroke="#e9e9e9" stroke-width="1.0" />
<line x1="103.03" y1="410.38" x2="267.19" y2="410.38" stroke="#e9e9e9" stroke-width="1.0" />
<line x1="79.03" y1="438.17" x2="255.09" y2="438.17" stroke="#e9e9e9" stroke-width="1.0" />
<line x1="51.27" y1="470.30" x2="241.11" y2="470.30" stroke="#e9e9e9" stroke-width="1.0" />
<line x1="18.81" y1="507.89" x2="224.75" y2="507.89" stroke="#e9e9e9" stroke-width="1.0" />
<line x1="123.99" y1="386.12" x2="123.99" y2="308.74" stroke="#e9e9e9" stroke-width="1.0" />
<line x1="103.03" y1="410.38" x2="103.03" y2="327.77" stroke="#e9e9e9" stroke-width="1.0" />
<line x1="79.03" y1="438.17" x2="79.03" y2="349.57" stroke="#e9e9e9" stroke-width="1.0" />
<line x1="51.27" y1="470.30" x2="51.27" y2="374.77" stroke="#e9e9e9" stroke-width="1.0" />
<line x1="18.81" y1="507.89" x2="18.81" y2="404.25" stroke="#e9e9e9" stroke-width="1.0" />
<line x1="152.94" y1="375.10" x2="28.47" y2="529.18" stroke="#c4c4c4" stroke-width="0.7" />
<line x1="178.86" y1="375.10" x2="65.88" y2="529.18" stroke="#c4c4c4" stroke-width="0.7" />
<line x1="204.78" y1="375.10" x2="103.28" y2="529.18" stroke="#c4c4c4" stroke-width="0.7" />
<line x1="230.70" y1="375.10" x2="140.68" y2="529.18" stroke="#c4c4c4" stroke-width="0.7" />
<line x1="256.62" y1="375.10" x2="178.08" y2="529.18" stroke="#c4c4c4" stroke-width="0.7" />
<line x1="133.50" y1="356.35" x2="0.42" y2="502.12" stroke="#c4c4c4" stroke-width="0.8" />
<line x1="133.50" y1="337.60" x2="0.42" y2="475.06" stroke="#c4c4c4" stroke-width="0.8" />
<line x1="133.50" y1="318.85" x2="0.42" y2="448.01" stroke="#c4c4c4" stroke-width="0.8" />
<line x1="152.94" y1="375.10" x2="152.94" y2="300.10" stroke="#c4c4c4" stroke-width="0.8" />
<line x1="178.86" y1="375.10" x2="178.86" y2="300.10" stroke="#c4c4c4" stroke-width="0.8" />
<line x1="256.62" y1="375.10" x2="256.62" y2="300.10" stroke="#c4c4c4" stroke-width="0.8" />
<line x1="133.50" y1="356.35" x2="282.54" y2="356.35" stroke="#c4c4c4" stroke-width="0.8" />
<line x1="133.50" y1="318.85" x2="282.54" y2="318.85" stroke="#c4c4c4" stroke-width="0.8" />
<line x1="133.50" y1="375.10" x2="282.54" y2="375.10" stroke="#d4d4d4" stroke-width="0.9" />
<line x1="133.50" y1="300.10" x2="0.42" y2="420.95" stroke="#a4a4a4" stroke-width="0.9" />
<line x1="133.50" y1="300.10" x2="282.54" y2="300.10" stroke="#a4a4a4" stroke-width="0.9" />
<line x1="133.50" y1="375.10" x2="133.50" y2="300.10" stroke="#a4a4a4" stroke-width="0.9" />
<line x1="0.42" y1="529.18" x2="0.42" y2="420.95" stroke="#b4b4b4" stroke-width="0.9" />
<line x1="133.50" y1="375.10" x2="0.42" y2="529.18" stroke="#a4a4a4" stroke-width="0.9" />
<path d="M124.0,368.8 L124.1,369.3 L124.3,368.8 L124.5,369.7 L124.7,369.6 L124.9,368.7 L125.1,370.7 L125.3,370.7 L125.6,370.4 L125.9,371.6 L126.1,371.8 L126.4,371.0 L126.7,370.9 L127.0,372.5 L127.3,372.9 L127.5,371.7 L127.8,373.1 L128.1,372.8 L128.4,372.9 L128.6,372.8 L128.9,372.2 L129.1,371.9 L129.3,372.3 L129.6,371.6 L129.9,371.0 L130.2,370.7 L130.4,370.3 L130.7,369.7 L130.9,368.7 L131.2,366.0 L131.4,365.6 L131.7,365.6 L131.9,362.5 L132.1,363.1 L132.4,360.9 L132.6,360.5 L132.9,359.8 L133.1,358.9 L133.3,357.0 L133.6,356.6 L133.9,355.0 L134.1,353.7 L134.4,352.3 L134.6,351.1 L134.9,351.3 L135.2,348.7 L135.4,350.0 L135.7,347.2 L135.9,346.7 L136.2,345.7 L136.4,347.5 L136.7,345.2 L136.9,344.5 L137.1,345.0 L137.4,343.3 L137.6,341.4 L137.9,341.7 L138.2,340.4 L138.4,337.0 L138.7,336.6 L138.9,331.7 L139.1,331.3 L139.3,330.2 L139.6,329.1 L139.8,331.2 L140.0,327.4 L140.3,329.5 L140.5,328.4 L140.8,326.5 L141.0,326.2 L141.2,325.9 L141.5,322.9 L141.7,318.5 L142.0,323.4 L142.2,322.1 L142.5,316.5 L142.7,319.2 L142.9,319.0 L143.2,318.7 L143.4,315.0 L143.7,317.2 L143.9,317.1 L144.2,316.9 L144.4,313.4 L144.6,317.6 L144.9,315.7 L145.1,314.3 L145.4,317.9 L145.6,317.3 L145.8,317.8 L146.1,316.7 L146.3,318.7 L146.5,320.0 L146.7,322.4 L147.0,323.0 L147.2,320.5 L147.5,326.7 L147.8,327.8 L148.1,328.6 L148.3,329.4 L148.5,329.7 L148.7,329.7 L149.0,327.6 L149.2,326.4 L149.5,332.0 L149.7,330.7 L150.0,332.3 L150.2,328.9 L150.5,328.6 L150.8,331.2 L151.0,334.5 L151.3,333.3 L151.6,334.0 L151.8,333.9 L152.1,335.7 L152.3,336.5 L152.5,334.7 L152.8,333.6 L153.0,336.7 L153.2,336.8 L153.5,338.1 L153.7,336.7 L153.9,335.3 L154.1,337.5 L154.4,339.1 L154.6,339.5 L154.9,336.4 L155.2,337.7 L155.4,340.2 L155.8,339.6 L156.1,341.5 L156.3,340.2 L156.5,342.3 L156.7,342.0 L156.9,341.6 L157.2,342.1 L157.4,343.1 L157.7,341.9 L157.9,344.0 L158.2,342.0 L158.4,342.2 L158.7,344.0 L158.9,342.3 L159.2,346.0 L159.5,343.1 L159.7,347.3 L160.0,346.2 L160.3,347.9 L160.5,348.5 L160.8,348.6 L161.1,348.7 L161.3,350.0 L161.6,349.9 L161.8,347.6 L162.1,348.8 L162.3,349.9 L162.5,348.9 L162.8,351.5 L163.0,351.0 L163.3,350.9 L163.6,353.1 L163.8,353.8 L164.1,355.3 L164.3,353.2 L164.6,356.1 L164.8,357.0 L165.0,357.5 L165.3,356.4 L165.5,358.6 L165.8,358.1 L166.0,358.9 L166.2,358.4 L166.5,359.5 L166.7,359.6 L166.9,362.4 L167.2,363.2 L167.4,363.7 L167.6,364.1 L167.9,364.8 L168.1,365.3 L168.3,364.7 L168.6,365.9 L168.8,366.8 L169.0,366.9 L169.3,368.0 L169.5,368.3 L169.7,368.8 L169.9,369.7 L170.2,368.6 L170.4,369.3 L170.6,371.0 L170.8,371.0 L171.1,372.3 L171.3,372.5 L171.6,372.7 L171.8,373.4 L172.1,374.2 L172.3,374.3 L172.6,375.0 L172.9,375.0 L173.2,375.3 L173.5,376.0 L173.7,375.7 L173.9,376.1 L174.1,377.2 L174.3,376.3 L174.5,377.1 L174.8,377.5 L175.0,377.9 L175.2,377.7 L175.5,378.5 L175.7,378.3 L176.0,378.9 L176.2,378.9 L176.5,379.1 L176.7,379.4 L177.0,379.5 L177.3,380.1 L177.5,380.3 L177.8,380.3 L178.0,380.6 L178.3,380.7 L178.5,380.9 L178.8,381.1 L179.1,381.2 L179.3,381.5 L179.6,381.7 L179.8,381.3 L180.1,381.7 L180.3,381.7 L180.6,382.2 L180.8,381.9 L181.0,382.4 L181.3,382.6 L181.5,382.9 L181.8,383.0 L182.0,382.9 L182.3,382.9 L182.6,383.3 L182.9,383.1 L183.2,383.3 L183.4,383.7 L183.7,383.8 L184.0,383.7 L184.3,383.8 L184.6,383.9 L184.8,383.9 L185.1,384.0 L185.4,384.1 L185.6,384.1 L185.9,384.2 L186.1,384.2 L186.4,384.3 L186.6,384.3 L186.8,384.3 L187.1,384.4 L187.3,384.4 L187.5,384.4 L187.7,384.5 L187.8,384.5 L188.0,384.5 L188.2,384.6 L188.6,384.7 L188.7,384.7 L188.6,384.7 L188.8,384.7 L189.5,384.4 L189.6,384.3 L189.8,384.2 L190.0,384.2 L190.2,384.1 L190.3,384.0 L190.5,383.9 L190.8,383.8 L191.0,383.7 L191.2,383.2 L191.4,383.5 L191.7,383.6 L191.9,383.2 L192.2,383.2 L192.4,383.2 L192.7,382.6 L192.9,382.9 L193.2,382.5 L193.5,382.6 L193.8,382.0 L194.0,382.2 L194.3,382.2 L194.6,382.1 L194.9,381.4 L195.2,381.6 L195.4,381.1 L195.7,381.6 L196.0,381.3 L196.3,381.0 L196.6,380.5 L196.8,380.6 L197.1,380.8 L197.4,380.1 L197.6,380.2 L197.9,380.5 L198.1,380.3 L198.4,380.0 L198.6,379.3 L198.9,379.6 L199.1,379.7 L199.4,379.3 L199.6,379.6 L199.9,379.1 L200.2,378.8 L200.4,378.5 L200.7,378.0 L200.9,378.7 L201.2,378.0 L201.4,378.0 L201.7,378.1 L201.9,377.6 L202.2,377.7 L202.4,377.5 L202.7,376.5 L202.9,376.7 L203.2,377.1 L203.4,376.7 L203.6,376.7 L203.9,376.3 L204.1,376.1 L204.4,376.2 L204.6,376.1 L204.8,375.6 L205.1,374.5 L205.3,375.5 L205.5,374.4 L205.8,375.4 L206.0,374.3 L206.2,375.2 L206.4,374.4 L206.7,375.0 L206.9,373.8 L207.1,373.8 L207.4,374.8 L207.7,373.6 L207.9,374.2 L208.1,375.0 L208.4,374.0 L208.6,374.8 L208.8,374.9 L209.0,374.9 L209.2,375.3 L209.4,374.3 L209.7,374.9 L209.9,374.9 L210.1,374.9 L210.3,375.9 L210.5,375.4 L210.8,375.4 L211.0,376.1 L211.2,375.8 L211.5,376.0 L211.7,375.6 L212.0,376.3 L212.3,376.5 L212.6,376.2 L212.9,376.0 L213.2,376.2 L213.6,376.5 L213.8,376.3 L214.0,375.6 L214.2,376.1 L214.4,375.9 L214.6,376.6 L214.8,376.2 L215.0,376.1 L215.2,376.3 L215.4,375.9 L215.6,376.3 L215.9,376.2 L216.1,375.9 L216.3,375.1 L216.5,374.9 L216.8,375.7 L217.0,374.6 L217.2,374.5 L217.5,375.3 L217.7,375.2 L218.0,375.2 L218.2,375.2 L218.5,374.2 L218.7,374.8 L219.0,374.9 L219.2,373.9 L219.5,373.9 L219.7,374.5 L220.0,373.6 L220.2,373.3 L220.5,373.8 L220.8,373.2 L221.0,373.9 L221.3,373.0 L221.5,372.9 L221.8,372.8 L222.1,373.2 L222.3,373.5 L222.6,372.4 L222.9,372.5 L223.2,373.3 L223.4,372.6 L223.7,372.9 L224.0,372.5 L224.2,372.5 L224.5,372.5 L224.8,373.0 L225.1,371.9 L225.3,372.6 L225.6,372.9 L225.8,373.3 L226.0,373.1 L226.3,372.0 L226.5,373.2 L226.7,373.3 L226.9,373.6 L227.2,373.5 L227.4,373.8 L227.6,373.6 L227.9,373.5 L228.1,373.4 L228.3,374.0 L228.6,373.6 L228.8,372.7 L229.1,373.5 L229.3,373.1 L229.5,373.7 L229.8,374.5 L230.0,374.3 L230.3,374.6 L230.5,374.2 L230.8,375.0 L231.0,374.5 L231.3,374.2 L231.5,375.0 L231.8,374.6 L232.0,375.5 L232.2,375.1 L232.5,374.8 L232.7,374.6 L233.0,375.0 L233.2,375.7 L233.5,375.9 L233.7,376.0 L234.0,376.2 L234.2,376.4 L234.5,376.3 L234.7,376.8 L235.0,376.9 L235.2,377.0 L235.5,377.2 L235.7,377.3 L236.0,376.8 L236.2,377.5 L236.5,377.3 L236.7,377.4 L237.0,377.9 L237.2,377.6 L237.5,377.9 L237.7,378.0 L237.9,377.7 L238.2,378.2 L238.4,377.8 L238.7,377.7 L238.9,378.7 L239.1,378.8 L239.4,378.8 L239.6,378.6 L239.8,378.6 L240.1,379.1 L240.3,378.7 L240.6,379.3 L240.8,378.6 L241.1,379.5 L241.3,379.5 L241.6,379.5 L241.8,379.6 L242.1,379.9 L242.3,379.8 L242.6,379.9 L242.9,380.2 L243.1,379.7 L243.4,380.3 L243.6,380.1 L243.9,380.4 L244.1,380.6 L244.4,380.5 L244.6,380.7 L244.9,380.6 L245.1,380.5 L245.4,380.8 L245.6,380.9 L245.9,381.1 L246.1,381.0 L246.4,381.5 L246.6,381.5 L246.9,381.6 L247.1,381.7 L247.4,381.3 L247.6,381.3 L247.9,381.6 L248.1,382.0 L248.3,381.9 L248.6,381.8 L248.8,381.5 L249.1,381.8 L249.3,382.2 L249.5,382.4 L249.8,382.2 L250.0,382.4 L250.3,382.0 L250.5,382.1 L250.7,382.3 L251.0,382.3 L251.2,382.9 L251.4,382.8 L251.7,383.0 L251.9,383.0 L252.1,382.6 L252.3,382.7 L252.6,383.0 L252.8,382.8 L253.0,383.0 L253.2,383.1 L253.5,382.9 L253.7,383.5 L254.0,383.2 L254.2,383.5 L254.5,383.7 L254.8,383.6 L255.1,383.5 L255.3,383.5 L255.6,383.6 L255.9,383.7 L256.2,383.8 L256.4,383.8 L256.7,383.8 L257.0,383.9 L257.2,383.9 L257.5,383.9 L257.8,383.9 L258.0,384.0 L258.3,384.0 L258.6,384.0 L258.8,384.0 L259.1,384.1 L259.4,384.1 L259.6,384.1 L259.9,384.1 L260.1,384.1 L260.4,384.1 L260.6,384.2 L260.9,384.2 L261.1,384.2 L261.3,384.2 L261.6,384.2 L261.8,384.2 L262.0,384.2 L262.2,384.2 L262.5,384.3 L262.7,384.3 L262.9,384.3 L263.1,384.3 L263.3,384.3 L263.5,384.3 L263.7,384.3 L263.8,384.3 L264.0,384.3 L264.2,384.4 L264.4,384.4 L264.8,384.4 L265.2,384.4 L265.6,384.5 L265.9,384.5 L266.3,384.5 L266.5,384.6 L266.8,384.6 L267.0,384.6 L267.3,384.6 L267.5,384.6 L267.7,384.6 L267.8,384.6 L268.0,384.6 L268.1,384.6 L268.3,384.7 L268.4,384.7 L268.4,384.7 L268.4,384.7 L267.9,384.7 L267.3,384.7 L266.8,384.7 L266.2,384.7 L265.7,384.7 L265.2,384.7 L264.6,384.7 L264.1,384.7 L263.6,384.7 L263.0,384.7 L262.5,384.7 L262.0,384.7 L261.4,384.7 L260.9,384.7 L260.4,384.7 L259.8,384.7 L259.3,384.7 L258.8,384.7 L258.2,384.7 L257.7,384.7 L257.2,384.7 L256.6,384.7 L256.1,384.7 L255.6,384.7 L255.0,384.7 L254.5,384.7 L253.9,384.7 L253.4,384.7 L252.9,384.7 L252.3,384.7 L251.8,384.7 L251.3,384.7 L250.7,384.7 L250.2,384.7 L249.7,384.7 L249.1,384.7 L248.6,384.7 L248.1,384.7 L247.5,384.7 L247.0,384.7 L246.5,384.7 L245.9,384.7 L245.4,384.7 L244.9,384.7 L244.3,384.7 L243.8,384.7 L243.3,384.7 L242.7,384.7 L242.2,384.7 L241.6,384.7 L241.1,384.7 L240.6,384.7 L240.0,384.7 L239.5,384.7 L239.0,384.7 L238.4,384.7 L237.9,384.7 L237.4,384.7 L236.8,384.7 L236.3,384.7 L235.8,384.7 L235.2,384.7 L234.7,384.7 L234.2,384.7 L233.6,384.7 L233.1,384.7 L232.6,384.7 L232.0,384.7 L231.5,384.7 L230.9,384.7 L230.4,384.7 L229.9,384.7 L229.3,384.7 L228.8,384.7 L228.3,384.7 L227.7,384.7 L227.2,384.7 L226.7,384.7 L226.1,384.7 L225.6,384.7 L225.1,384.7 L224.5,384.7 L224.0,384.7 L223.5,384.7 L222.9,384.7 L222.4,384.7 L221.9,384.7 L221.3,384.7 L220.8,384.7 L220.3,384.7 L219.7,384.7 L219.2,384.7 L218.6,384.7 L218.1,384.7 L217.6,384.7 L217.0,384.7 L216.5,384.7 L216.0,384.7 L215.4,384.7 L214.9,384.7 L214.4,384.7 L213.8,384.7 L213.3,384.7 L212.8,384.7 L212.2,384.7 L211.7,384.7 L211.2,384.7 L210.6,384.7 L210.1,384.7 L209.6,384.7 L209.0,384.7 L208.5,384.7 L208.0,384.7 L207.4,384.7 L206.9,384.7 L206.3,384.7 L205.8,384.7 L205.3,384.7 L204.7,384.7 L204.2,384.7 L203.7,384.7 L203.1,384.7 L202.6,384.7 L202.1,384.7 L201.5,384.7 L201.0,384.7 L200.5,384.7 L199.9,384.7 L199.4,384.7 L198.9,384.7 L198.3,384.7 L197.8,384.7 L197.3,384.7 L196.7,384.7 L196.2,384.7 L195.7,384.7 L195.1,384.7 L194.6,384.7 L194.0,384.7 L193.5,384.7 L193.0,384.7 L192.4,384.7 L191.9,384.7 L191.4,384.7 L190.8,384.7 L190.3,384.7 L189.8,384.7 L189.2,384.7 L188.7,384.7 L188.2,384.7 L187.6,384.7 L187.1,384.7 L186.6,384.7 L186.0,384.7 L185.5,384.7 L185.0,384.7 L184.4,384.7 L183.9,384.7 L183.4,384.7 L182.8,384.7 L182.3,384.7 L181.7,384.7 L181.2,384.7 L180.7,384.7 L180.1,384.7 L179.6,384.7 L179.1,384.7 L178.5,384.7 L178.0,384.7 L177.5,384.7 L176.9,384.7 L176.4,384.7 L175.9,384.7 L175.3,384.7 L174.8,384.7 L174.3,384.7 L173.7,384.7 L173.2,384.7 L172.7,384.7 L172.1,384.7 L171.6,384.7 L171.0,384.7 L170.5,384.7 L170.0,384.7 L169.4,384.7 L168.9,384.7 L168.4,384.7 L167.8,384.7 L167.3,384.7 L166.8,384.7 L166.2,384.7 L165.7,384.7 L165.2,384.7 L164.6,384.7 L164.1,384.7 L163.6,384.7 L163.0,384.6 L162.5,384.6 L162.0,384.6 L161.4,384.6 L160.9,384.6 L160.4,384.6 L159.8,384.6 L159.3,384.6 L158.7,384.6 L158.2,384.6 L157.7,384.6 L157.1,384.6 L156.6,384.6 L156.1,384.6 L155.5,384.6 L155.0,384.6 L154.5,384.6 L153.9,384.6 L153.4,384.6 L152.9,384.6 L152.3,384.6 L151.8,384.6 L151.3,384.5 L150.7,384.5 L150.2,384.5 L149.7,384.5 L149.1,384.5 L148.6,384.5 L148.1,384.4 L147.5,384.4 L147.0,384.4 L146.4,384.4 L145.9,384.3 L145.4,384.3 L144.8,384.3 L144.3,384.2 L143.8,384.2 L143.2,384.1 L142.7,384.1 L142.2,384.0 L141.6,384.0 L141.1,383.9 L140.6,383.8 L140.0,383.7 L139.5,383.7 L139.0,383.6 L138.4,383.4 L137.9,383.3 L137.4,383.2 L136.8,383.0 L136.3,382.9 L135.8,382.7 L135.2,382.5 L134.7,382.3 L134.1,382.1 L133.6,381.8 L133.1,381.5 L132.5,381.2 L132.0,380.8 L131.5,380.5 L130.9,380.0 L130.4,379.6 L129.9,379.1 L129.3,378.5 L128.8,377.9 L128.3,377.2 L127.7,376.5 L127.2,375.7 L126.7,374.8 L126.1,373.8 L125.6,372.7 L125.1,371.5 L124.5,370.2 L124.0,368.7 Z" fill="#1582ff" fill-opacity="1.0"/>
<path d="M269.72,384.28 L277.75,384.28" stroke="#1582ff" stroke-width="0.9" stroke-opacity="0.75" fill="none" stroke-dasharray="26.0 0.4 8.0 0.9 8.4 0.4 8.6 0.7 19.9 0.5 27.2 0.8 10.0 0.6 26.5 0.6 25.7 0.6 20.0 0.6 20.2 0.3 27.3 0.9 20.7 0.8 15.7 0.4 8.1 0.3 17.5 0.7 10.2 0.8"/>
<path d="M103.0,395.5 L103.2,395.1 L103.3,396.0 L103.5,394.9 L103.8,396.5 L104.0,396.3 L104.3,395.8 L104.5,397.5 L104.8,396.5 L105.1,397.5 L105.4,398.3 L105.7,398.3 L106.0,398.6 L106.4,399.0 L106.7,397.5 L107.0,398.6 L107.3,396.9 L107.5,396.9 L107.8,397.9 L108.0,397.1 L108.2,396.2 L108.5,394.7 L108.7,395.4 L109.0,393.8 L109.2,393.6 L109.5,391.6 L109.7,390.2 L110.0,389.8 L110.2,390.4 L110.5,387.9 L110.8,388.0 L111.0,385.5 L111.3,385.9 L111.6,383.1 L111.9,381.6 L112.2,381.4 L112.4,380.3 L112.7,379.3 L113.0,379.4 L113.3,380.0 L113.5,375.6 L113.8,377.4 L114.0,377.7 L114.3,375.8 L114.5,374.9 L114.8,374.7 L115.1,369.9 L115.3,373.0 L115.6,368.2 L115.9,369.4 L116.2,370.0 L116.4,368.4 L116.7,367.0 L117.0,367.3 L117.3,363.0 L117.6,362.8 L117.8,359.2 L118.1,359.5 L118.4,358.9 L118.6,356.1 L118.9,355.8 L119.2,357.3 L119.4,357.3 L119.7,356.6 L119.9,353.5 L120.2,351.7 L120.4,351.7 L120.7,350.7 L121.0,354.9 L121.3,352.4 L121.6,353.2 L121.9,349.6 L122.2,348.9 L122.5,348.3 L122.7,344.8 L123.0,349.1 L123.3,344.7 L123.5,345.3 L123.8,347.3 L124.1,340.1 L124.3,346.8 L124.6,344.2 L124.8,343.2 L125.0,342.3 L125.2,337.8 L125.5,342.0 L125.7,338.4 L125.9,343.6 L126.2,342.2 L126.5,344.6 L126.8,341.7 L127.1,344.3 L127.3,342.1 L127.5,348.0 L127.7,347.0 L127.9,343.4 L128.2,350.9 L128.4,347.9 L128.7,348.2 L128.9,347.8 L129.2,349.3 L129.4,349.7 L129.7,345.4 L130.0,350.9 L130.2,347.6 L130.5,347.7 L130.8,346.9 L131.1,348.8 L131.3,350.7 L131.6,345.6 L131.9,349.2 L132.2,345.0 L132.5,342.5 L132.7,344.6 L133.0,347.5 L133.3,343.3 L133.5,347.2 L133.8,347.4 L134.0,345.2 L134.3,344.2 L134.5,343.5 L134.8,344.4 L135.1,345.3 L135.3,342.1 L135.6,345.3 L135.8,343.0 L136.1,346.3 L136.4,345.9 L136.7,340.2 L137.0,345.7 L137.3,344.7 L137.5,346.7 L137.8,342.1 L138.0,346.1 L138.2,347.6 L138.5,347.1 L138.7,341.8 L139.0,344.2 L139.3,349.3 L139.5,343.1 L139.8,350.2 L140.1,348.7 L140.3,348.9 L140.6,347.3 L140.9,352.3 L141.1,348.1 L141.4,352.9 L141.7,350.2 L141.9,349.1 L142.2,352.8 L142.5,356.2 L142.7,353.4 L143.0,355.7 L143.3,354.1 L143.5,354.3 L143.8,359.0 L144.0,357.3 L144.3,357.5 L144.5,355.8 L144.8,359.1 L145.0,359.8 L145.3,359.4 L145.5,363.5 L145.8,360.1 L146.0,362.9 L146.3,363.3 L146.5,366.3 L146.8,365.4 L147.0,366.7 L147.3,368.3 L147.6,364.7 L147.9,366.2 L148.1,369.2 L148.4,371.2 L148.7,367.3 L148.9,372.3 L149.2,371.4 L149.4,371.6 L149.7,370.4 L149.9,372.1 L150.2,372.9 L150.4,373.9 L150.7,371.7 L150.9,373.3 L151.2,376.1 L151.4,374.5 L151.7,374.0 L152.0,377.0 L152.2,378.7 L152.5,379.2 L152.8,376.0 L153.0,379.9 L153.3,378.0 L153.6,380.8 L153.9,381.2 L154.1,381.8 L154.4,379.9 L154.7,382.8 L155.0,382.3 L155.3,381.4 L155.6,383.0 L155.8,384.7 L156.1,385.1 L156.3,383.0 L156.6,385.3 L156.8,386.1 L157.1,385.4 L157.3,384.7 L157.6,386.8 L157.9,387.4 L158.1,387.7 L158.4,387.4 L158.6,386.7 L158.9,388.9 L159.2,387.5 L159.5,388.1 L159.7,388.9 L160.0,389.8 L160.3,390.7 L160.5,390.1 L160.8,390.7 L161.1,390.3 L161.3,392.0 L161.6,392.2 L161.9,392.6 L162.1,392.2 L162.4,393.3 L162.7,392.7 L162.9,393.3 L163.2,393.8 L163.4,394.4 L163.7,392.9 L163.9,394.4 L164.2,395.4 L164.4,394.8 L164.7,394.7 L165.0,395.7 L165.2,395.1 L165.5,395.6 L165.8,396.4 L166.0,397.7 L166.3,397.6 L166.5,397.8 L166.8,398.6 L167.0,398.4 L167.3,398.4 L167.5,398.6 L167.8,398.9 L168.0,399.2 L168.3,400.3 L168.5,400.1 L168.8,400.6 L169.0,400.4 L169.3,401.6 L169.5,401.8 L169.8,401.3 L170.1,401.6 L170.3,402.5 L170.6,402.1 L170.9,402.3 L171.2,402.8 L171.5,403.3 L171.8,403.8 L172.0,403.8 L172.3,403.3 L172.5,403.2 L172.8,404.3 L173.0,404.5 L173.3,404.5 L173.5,403.8 L173.8,404.9 L174.1,404.1 L174.4,404.5 L174.6,404.6 L174.9,404.5 L175.2,405.1 L175.5,405.7 L175.8,405.6 L176.1,405.8 L176.3,405.6 L176.6,406.1 L176.9,405.8 L177.2,406.5 L177.5,406.5 L177.8,406.6 L178.0,406.7 L178.3,406.3 L178.6,406.3 L178.9,407.0 L179.1,406.9 L179.4,407.3 L179.7,407.3 L179.9,407.4 L180.2,407.1 L180.4,407.0 L180.7,407.1 L180.9,407.7 L181.1,407.7 L181.3,407.8 L181.5,407.6 L181.9,407.8 L182.2,407.9 L182.6,408.0 L182.9,408.1 L183.2,408.2 L183.6,408.3 L183.9,408.3 L184.2,408.4 L184.5,408.5 L184.7,408.5 L185.0,408.5 L185.3,408.6 L185.5,408.6 L185.8,408.6 L186.0,408.7 L186.2,408.7 L186.4,408.7 L186.6,408.7 L186.8,408.8 L187.0,408.8 L187.1,408.8 L187.2,408.8 L187.2,408.8 L187.0,408.8 L186.4,408.8 L185.8,408.8 L185.2,408.8 L184.7,408.8 L184.1,408.8 L183.5,408.8 L183.0,408.8 L182.4,408.8 L181.8,408.8 L181.3,408.8 L180.7,408.8 L180.1,408.8 L179.5,408.8 L179.0,408.8 L178.4,408.8 L177.8,408.8 L177.3,408.8 L176.7,408.8 L176.1,408.8 L175.5,408.8 L175.0,408.8 L174.4,408.8 L173.8,408.8 L173.3,408.8 L172.7,408.8 L172.1,408.8 L171.5,408.8 L171.0,408.8 L170.4,408.8 L169.8,408.8 L169.3,408.8 L168.7,408.8 L168.1,408.8 L167.5,408.8 L167.0,408.8 L166.4,408.8 L165.8,408.8 L165.3,408.8 L164.7,408.8 L164.1,408.8 L163.6,408.8 L163.0,408.8 L162.4,408.8 L161.8,408.8 L161.3,408.8 L160.7,408.8 L160.1,408.8 L159.6,408.8 L159.0,408.8 L158.4,408.8 L157.8,408.8 L157.3,408.8 L156.7,408.8 L156.1,408.8 L155.6,408.8 L155.0,408.8 L154.4,408.8 L153.8,408.8 L153.3,408.8 L152.7,408.8 L152.1,408.8 L151.6,408.8 L151.0,408.8 L150.4,408.8 L149.8,408.8 L149.3,408.8 L148.7,408.8 L148.1,408.8 L147.6,408.8 L147.0,408.8 L146.4,408.8 L145.9,408.8 L145.3,408.8 L144.7,408.8 L144.1,408.8 L143.6,408.8 L143.0,408.8 L142.4,408.8 L141.9,408.8 L141.3,408.8 L140.7,408.8 L140.1,408.8 L139.6,408.8 L139.0,408.8 L138.4,408.8 L137.9,408.8 L137.3,408.8 L136.7,408.8 L136.1,408.8 L135.6,408.8 L135.0,408.8 L134.4,408.8 L133.9,408.8 L133.3,408.7 L132.7,408.7 L132.1,408.7 L131.6,408.7 L131.0,408.7 L130.4,408.7 L129.9,408.7 L129.3,408.7 L128.7,408.6 L128.2,408.6 L127.6,408.6 L127.0,408.6 L126.4,408.6 L125.9,408.5 L125.3,408.5 L124.7,408.5 L124.2,408.4 L123.6,408.4 L123.0,408.3 L122.4,408.3 L121.9,408.2 L121.3,408.2 L120.7,408.1 L120.2,408.0 L119.6,408.0 L119.0,407.9 L118.4,407.8 L117.9,407.7 L117.3,407.5 L116.7,407.4 L116.2,407.3 L115.6,407.1 L115.0,406.9 L114.4,406.8 L113.9,406.6 L113.3,406.3 L112.7,406.1 L112.2,405.8 L111.6,405.5 L111.0,405.2 L110.4,404.8 L109.9,404.4 L109.3,403.9 L108.7,403.5 L108.2,402.9 L107.6,402.3 L107.0,401.7 L106.5,401.0 L105.9,400.2 L105.3,399.3 L104.7,398.4 L104.2,397.3 L103.6,396.2 L103.0,394.9 Z" fill="#00f500" fill-opacity="0.73"/>
<path d="M190.10,408.42 L267.19,408.42" stroke="#00f500" stroke-width="0.9" stroke-opacity="0.95" fill="none" stroke-dasharray="18.2 0.3 11.6 0.9 20.1 0.7 26.9 0.7 17.5 0.7 26.5 0.5 11.4 0.4 18.4 0.9 10.4 0.7 29.5 0.7 20.3 0.7 26.8 0.6 21.1 0.6 10.7 0.5 23.2 0.5"/>
<path d="M79.0,423.9 L79.2,425.3 L79.4,424.8 L79.6,425.4 L79.8,425.0 L80.0,426.2 L80.3,425.8 L80.5,427.2 L80.8,426.6 L81.1,427.8 L81.4,428.5 L81.7,428.8 L82.0,428.9 L82.3,429.8 L82.7,429.9 L83.0,430.5 L83.3,430.8 L83.6,431.0 L84.0,431.2 L84.3,431.4 L84.6,431.0 L84.9,431.4 L85.2,431.0 L85.4,430.8 L85.7,430.7 L86.0,430.4 L86.3,430.5 L86.6,430.1 L86.9,429.5 L87.2,429.5 L87.4,429.4 L87.7,428.6 L88.0,428.1 L88.3,427.9 L88.6,427.5 L88.9,426.9 L89.2,425.8 L89.4,425.0 L89.7,424.7 L90.0,424.5 L90.3,424.3 L90.5,423.8 L90.8,422.5 L91.0,422.3 L91.3,421.9 L91.6,421.6 L91.9,421.1 L92.3,420.4 L92.6,419.8 L92.9,418.4 L93.2,418.3 L93.6,417.2 L93.9,416.8 L94.2,415.9 L94.4,414.7 L94.7,414.0 L95.0,414.6 L95.2,412.2 L95.5,411.9 L95.7,411.4 L95.9,411.8 L96.3,408.6 L96.5,407.4 L96.6,407.4 L96.8,404.9 L97.4,403.2 L97.6,403.4 L97.8,402.6 L98.0,403.7 L98.3,403.0 L98.5,404.3 L98.8,402.7 L99.1,403.8 L99.4,402.1 L99.7,401.2 L100.0,402.9 L100.4,403.3 L100.7,403.2 L101.0,402.1 L101.3,402.9 L101.6,401.2 L101.9,401.6 L102.2,402.0 L102.5,401.4 L102.8,402.8 L103.1,402.2 L103.3,403.0 L103.5,402.1 L103.9,401.5 L104.2,403.8 L104.5,403.0 L104.7,402.6 L104.9,405.6 L105.2,406.6 L105.4,407.4 L105.6,406.6 L105.9,409.1 L106.2,408.2 L106.6,410.0 L106.8,409.0 L107.0,408.7 L107.3,409.0 L107.5,410.8 L107.8,410.1 L108.0,410.8 L108.3,409.3 L108.6,411.0 L108.9,411.2 L109.2,410.9 L109.5,411.4 L109.8,411.3 L110.1,410.2 L110.4,411.2 L110.7,411.5 L111.0,409.7 L111.3,411.5 L111.6,410.3 L111.8,410.8 L112.1,411.2 L112.4,411.1 L112.7,411.5 L113.0,410.9 L113.3,411.6 L113.5,412.7 L113.8,412.1 L114.0,412.7 L114.3,411.7 L114.6,413.8 L114.8,413.5 L115.1,412.4 L115.3,414.6 L115.6,413.6 L115.8,413.4 L116.1,414.4 L116.4,415.6 L116.7,414.6 L116.9,416.0 L117.2,415.8 L117.5,415.4 L117.8,416.8 L118.2,417.2 L118.5,417.7 L118.8,417.7 L119.1,418.2 L119.3,417.5 L119.6,417.4 L119.8,418.9 L120.1,418.6 L120.3,418.3 L120.6,418.6 L120.9,419.8 L121.2,419.6 L121.4,419.6 L121.7,420.2 L122.0,419.4 L122.3,419.9 L122.6,420.1 L122.9,421.8 L123.2,422.1 L123.5,421.7 L123.8,422.1 L124.1,422.8 L124.4,423.1 L124.7,422.5 L125.0,422.8 L125.3,424.1 L125.5,424.3 L125.8,423.8 L126.1,424.5 L126.4,425.1 L126.7,424.2 L127.0,425.5 L127.2,425.9 L127.5,425.9 L127.8,426.1 L128.0,426.1 L128.3,426.2 L128.6,427.2 L128.9,427.2 L129.2,426.9 L129.5,427.8 L129.8,427.6 L130.1,427.9 L130.4,428.3 L130.7,428.8 L131.0,429.6 L131.2,429.0 L131.5,430.0 L131.8,430.3 L132.1,430.4 L132.4,430.7 L132.6,430.7 L132.9,431.2 L133.2,431.1 L133.5,431.5 L133.7,431.9 L134.0,432.4 L134.3,432.4 L134.6,432.7 L134.8,432.7 L135.1,433.3 L135.4,433.1 L135.7,433.4 L136.0,433.9 L136.2,433.5 L136.5,434.1 L136.8,434.2 L137.1,434.4 L137.4,434.5 L137.7,434.4 L137.9,434.4 L138.2,434.8 L138.5,434.9 L138.8,435.0 L139.1,435.2 L139.4,434.9 L139.6,435.3 L139.9,435.5 L140.2,435.5 L140.5,435.4 L140.8,435.5 L141.1,435.5 L141.3,435.6 L141.6,435.7 L141.9,435.7 L142.2,435.8 L142.5,435.8 L142.8,435.9 L143.0,435.9 L143.3,436.0 L143.6,436.0 L143.9,436.1 L144.1,436.1 L144.3,436.2 L144.5,436.2 L144.7,436.3 L144.9,436.4 L145.1,436.4 L145.3,436.5 L145.5,436.5 L145.7,436.5 L145.9,436.5 L146.1,436.5 L146.3,436.5 L146.5,436.5 L146.8,436.5 L147.0,436.5 L147.3,436.5 L147.6,436.5 L147.9,436.5 L148.3,436.5 L148.6,436.5 L149.0,436.5 L149.5,436.5 L149.9,436.4 L150.4,436.3 L151.0,436.2 L151.2,436.1 L151.4,436.1 L151.6,436.0 L151.8,436.0 L152.0,435.9 L152.2,435.9 L152.4,435.8 L152.7,435.7 L152.9,435.7 L153.1,435.6 L153.4,435.5 L153.6,435.5 L153.9,435.5 L154.1,435.1 L154.4,435.4 L154.7,435.3 L154.9,434.8 L155.2,435.1 L155.5,434.6 L155.8,435.0 L156.0,434.9 L156.3,434.8 L156.6,434.6 L156.9,434.4 L157.2,434.4 L157.5,433.8 L157.8,433.7 L158.1,434.0 L158.4,433.5 L158.7,433.5 L159.0,433.3 L159.4,433.5 L159.7,433.7 L160.0,433.3 L160.3,433.5 L160.6,433.2 L160.9,432.6 L161.3,433.0 L161.6,432.7 L161.9,432.3 L162.2,432.4 L162.5,432.6 L162.9,432.4 L163.2,432.5 L163.5,431.9 L163.8,431.9 L164.1,432.1 L164.4,431.9 L164.8,431.4 L165.1,431.9 L165.4,431.7 L165.7,431.3 L166.0,431.0 L166.3,431.2 L166.6,431.0 L167.0,431.3 L167.3,430.8 L167.6,430.8 L167.9,431.0 L168.2,430.6 L168.5,430.7 L168.7,430.6 L169.0,430.0 L169.3,429.9 L169.6,430.5 L169.9,430.4 L170.2,429.9 L170.4,429.4 L170.7,429.7 L171.0,429.9 L171.2,429.4 L171.5,429.2 L171.7,429.9 L172.0,429.8 L172.2,429.5 L172.5,429.2 L172.7,429.3 L172.9,429.3 L173.1,429.5 L173.3,429.5 L173.6,429.5 L173.8,429.2 L173.9,429.3 L174.4,429.0 L174.9,429.1 L175.3,429.2 L175.7,428.7 L176.0,429.2 L176.4,429.1 L176.7,429.1 L177.0,428.9 L177.3,428.6 L177.6,429.0 L177.9,429.7 L178.1,429.2 L178.3,429.6 L178.6,429.6 L178.8,430.2 L179.0,430.3 L179.2,430.4 L179.4,430.5 L179.6,430.6 L179.8,430.3 L180.0,430.3 L180.2,430.8 L180.5,431.0 L180.7,431.0 L180.9,431.3 L181.1,431.3 L181.4,431.3 L181.6,430.9 L181.9,431.1 L182.2,431.6 L182.5,431.1 L182.8,430.9 L183.1,431.0 L183.4,431.7 L183.6,431.3 L183.8,430.9 L184.1,431.6 L184.3,431.3 L184.5,431.2 L184.8,430.7 L185.0,430.9 L185.2,431.2 L185.5,431.0 L185.7,431.2 L185.9,430.6 L186.2,431.1 L186.4,430.6 L186.7,431.0 L186.9,430.4 L187.2,430.2 L187.4,430.7 L187.7,430.4 L187.9,430.5 L188.2,430.2 L188.4,430.3 L188.7,429.5 L188.9,429.5 L189.2,430.1 L189.5,429.9 L189.7,429.8 L190.0,429.8 L190.3,429.4 L190.6,429.1 L190.9,429.3 L191.2,429.2 L191.5,429.4 L191.8,429.1 L192.1,428.6 L192.4,429.2 L192.7,429.1 L193.0,428.8 L193.3,428.8 L193.7,429.0 L194.0,428.4 L194.3,428.0 L194.7,428.6 L195.0,427.9 L195.4,428.0 L195.8,428.2 L196.1,428.7 L196.5,428.5 L196.9,428.0 L197.1,428.2 L197.4,428.6 L197.6,428.9 L197.8,428.9 L198.0,428.8 L198.3,428.3 L198.5,428.8 L198.8,428.7 L199.0,429.0 L199.3,428.9 L199.5,429.1 L199.8,429.2 L200.0,429.2 L200.3,428.9 L200.6,428.8 L200.8,428.7 L201.1,429.2 L201.4,428.9 L201.6,428.6 L201.9,429.5 L202.2,429.2 L202.5,429.6 L202.7,428.8 L203.0,429.7 L203.3,429.6 L203.6,429.7 L203.9,429.3 L204.2,429.5 L204.5,430.0 L204.8,429.8 L205.1,430.0 L205.4,430.2 L205.7,430.3 L206.0,430.1 L206.2,429.8 L206.5,429.6 L206.8,430.5 L207.2,430.5 L207.5,430.2 L207.8,430.4 L208.1,430.6 L208.4,430.8 L208.7,430.3 L209.0,430.8 L209.3,431.0 L209.6,430.9 L209.9,431.2 L210.2,431.0 L210.5,431.3 L210.8,431.3 L211.1,431.1 L211.4,431.1 L211.7,430.8 L212.0,431.3 L212.3,431.8 L212.6,431.5 L212.9,431.8 L213.2,431.9 L213.5,431.7 L213.8,432.0 L214.1,431.6 L214.4,432.0 L214.7,432.3 L215.0,432.4 L215.3,432.5 L215.6,431.9 L215.9,431.9 L216.1,432.5 L216.4,432.1 L216.7,432.4 L217.0,432.4 L217.3,432.6 L217.6,432.5 L217.8,433.0 L218.1,432.8 L218.4,433.0 L218.6,433.1 L218.9,433.2 L219.2,433.0 L219.4,432.9 L219.7,433.1 L219.9,433.5 L220.2,433.5 L220.4,433.2 L220.7,433.3 L220.9,433.7 L221.2,433.7 L221.4,433.2 L221.7,433.2 L222.1,433.4 L222.4,433.7 L222.8,434.0 L223.1,434.0 L223.4,434.0 L223.7,434.0 L224.1,433.7 L224.4,433.7 L224.7,434.3 L225.0,434.2 L225.4,434.0 L225.7,433.9 L226.0,434.3 L226.3,434.6 L226.6,434.3 L226.9,434.7 L227.2,434.4 L227.5,434.4 L227.8,434.4 L228.1,434.5 L228.4,434.9 L228.7,434.8 L229.0,435.0 L229.3,435.1 L229.6,434.7 L229.9,435.2 L230.2,435.0 L230.5,435.2 L230.7,435.1 L231.0,435.3 L231.3,435.1 L231.6,435.0 L231.8,435.5 L232.1,435.2 L232.4,435.4 L232.7,435.4 L232.9,435.4 L233.2,435.5 L233.4,435.5 L233.7,435.6 L233.9,435.6 L234.2,435.6 L234.4,435.7 L234.7,435.7 L234.9,435.7 L235.2,435.8 L235.4,435.8 L235.6,435.8 L235.9,435.9 L236.1,435.9 L236.3,435.9 L236.6,436.0 L236.8,436.0 L237.0,436.0 L237.2,436.0 L237.4,436.1 L237.6,436.1 L237.8,436.1 L238.0,436.1 L238.3,436.2 L238.7,436.2 L239.1,436.3 L239.5,436.3 L240.0,436.4 L240.3,436.4 L240.7,436.4 L241.1,436.4 L241.4,436.5 L241.8,436.5 L242.1,436.5 L242.4,436.5 L242.7,436.5 L243.0,436.5 L243.3,436.5 L243.5,436.5 L243.8,436.5 L244.0,436.5 L244.3,436.5 L244.5,436.5 L244.7,436.5 L244.9,436.5 L245.1,436.5 L245.3,436.5 L245.4,436.5 L245.6,436.5 L245.8,436.5 L245.9,436.5 L245.9,436.5 L245.6,436.5 L245.0,436.5 L244.4,436.5 L243.8,436.5 L243.2,436.5 L242.5,436.5 L241.9,436.5 L241.3,436.5 L240.7,436.5 L240.1,436.5 L239.5,436.5 L238.9,436.5 L238.3,436.5 L237.6,436.5 L237.0,436.5 L236.4,436.5 L235.8,436.5 L235.2,436.5 L234.6,436.5 L234.0,436.5 L233.4,436.5 L232.7,436.5 L232.1,436.5 L231.5,436.5 L230.9,436.5 L230.3,436.5 L229.7,436.5 L229.1,436.5 L228.5,436.5 L227.8,436.5 L227.2,436.5 L226.6,436.5 L226.0,436.5 L225.4,436.5 L224.8,436.5 L224.2,436.5 L223.6,436.5 L222.9,436.5 L222.3,436.5 L221.7,436.5 L221.1,436.5 L220.5,436.5 L219.9,436.5 L219.3,436.5 L218.7,436.5 L218.0,436.5 L217.4,436.5 L216.8,436.5 L216.2,436.5 L215.6,436.5 L215.0,436.5 L214.4,436.5 L213.8,436.5 L213.1,436.5 L212.5,436.5 L211.9,436.5 L211.3,436.5 L210.7,436.5 L210.1,436.5 L209.5,436.5 L208.9,436.5 L208.2,436.5 L207.6,436.5 L207.0,436.5 L206.4,436.5 L205.8,436.5 L205.2,436.5 L204.6,436.5 L204.0,436.5 L203.3,436.5 L202.7,436.5 L202.1,436.5 L201.5,436.5 L200.9,436.5 L200.3,436.5 L199.7,436.5 L199.1,436.5 L198.4,436.5 L197.8,436.5 L197.2,436.5 L196.6,436.5 L196.0,436.5 L195.4,436.5 L194.8,436.5 L194.2,436.5 L193.5,436.5 L192.9,436.5 L192.3,436.5 L191.7,436.5 L191.1,436.5 L190.5,436.5 L189.9,436.5 L189.3,436.5 L188.6,436.5 L188.0,436.5 L187.4,436.5 L186.8,436.5 L186.2,436.5 L185.6,436.5 L185.0,436.5 L184.4,436.5 L183.7,436.5 L183.1,436.5 L182.5,436.5 L181.9,436.5 L181.3,436.5 L180.7,436.5 L180.1,436.5 L179.5,436.5 L178.8,436.5 L178.2,436.5 L177.6,436.5 L177.0,436.5 L176.4,436.5 L175.8,436.5 L175.2,436.5 L174.6,436.5 L173.9,436.5 L173.3,436.5 L172.7,436.5 L172.1,436.5 L171.5,436.5 L170.9,436.5 L170.3,436.5 L169.7,436.5 L169.1,436.5 L168.4,436.5 L167.8,436.5 L167.2,436.5 L166.6,436.5 L166.0,436.5 L165.4,436.5 L164.8,436.5 L164.2,436.5 L163.5,436.5 L162.9,436.5 L162.3,436.5 L161.7,436.5 L161.1,436.5 L160.5,436.5 L159.9,436.5 L159.3,436.5 L158.6,436.5 L158.0,436.5 L157.4,436.5 L156.8,436.5 L156.2,436.5 L155.6,436.5 L155.0,436.5 L154.4,436.5 L153.7,436.5 L153.1,436.5 L152.5,436.5 L151.9,436.5 L151.3,436.5 L150.7,436.5 L150.1,436.5 L149.5,436.5 L148.8,436.5 L148.2,436.5 L147.6,436.5 L147.0,436.5 L146.4,436.5 L145.8,436.5 L145.2,436.5 L144.6,436.5 L143.9,436.5 L143.3,436.5 L142.7,436.5 L142.1,436.5 L141.5,436.5 L140.9,436.5 L140.3,436.5 L139.7,436.5 L139.0,436.5 L138.4,436.5 L137.8,436.5 L137.2,436.5 L136.6,436.5 L136.0,436.5 L135.4,436.5 L134.8,436.5 L134.1,436.5 L133.5,436.5 L132.9,436.5 L132.3,436.5 L131.7,436.5 L131.1,436.5 L130.5,436.5 L129.9,436.5 L129.2,436.5 L128.6,436.5 L128.0,436.5 L127.4,436.5 L126.8,436.5 L126.2,436.5 L125.6,436.5 L125.0,436.5 L124.3,436.5 L123.7,436.5 L123.1,436.5 L122.5,436.5 L121.9,436.5 L121.3,436.5 L120.7,436.5 L120.1,436.5 L119.4,436.5 L118.8,436.5 L118.2,436.5 L117.6,436.5 L117.0,436.5 L116.4,436.5 L115.8,436.5 L115.2,436.5 L114.5,436.5 L113.9,436.5 L113.3,436.4 L112.7,436.4 L112.1,436.4 L111.5,436.4 L110.9,436.4 L110.3,436.4 L109.6,436.4 L109.0,436.4 L108.4,436.4 L107.8,436.4 L107.2,436.4 L106.6,436.3 L106.0,436.3 L105.4,436.3 L104.7,436.3 L104.1,436.3 L103.5,436.2 L102.9,436.2 L102.3,436.2 L101.7,436.2 L101.1,436.1 L100.5,436.1 L99.8,436.0 L99.2,436.0 L98.6,435.9 L98.0,435.9 L97.4,435.8 L96.8,435.8 L96.2,435.7 L95.6,435.6 L94.9,435.5 L94.3,435.4 L93.7,435.3 L93.1,435.2 L92.5,435.0 L91.9,434.9 L91.3,434.7 L90.7,434.6 L90.1,434.4 L89.4,434.2 L88.8,433.9 L88.2,433.7 L87.6,433.4 L87.0,433.1 L86.4,432.7 L85.8,432.4 L85.2,431.9 L84.5,431.5 L83.9,431.0 L83.3,430.4 L82.7,429.8 L82.1,429.1 L81.5,428.4 L80.9,427.6 L80.3,426.7 L79.6,425.7 L79.0,424.7 Z" fill="#ffe811" fill-opacity="1.0"/>
<path d="M51.3,454.9 L51.4,454.5 L51.6,455.5 L51.8,455.2 L52.1,455.0 L52.3,456.0 L52.6,456.0 L52.9,456.3 L53.2,456.3 L53.5,457.7 L53.8,457.9 L54.1,457.1 L54.5,457.9 L54.8,458.8 L55.2,458.5 L55.5,459.5 L55.9,459.7 L56.2,459.9 L56.6,460.3 L56.9,460.7 L57.3,460.6 L57.6,460.6 L58.0,461.1 L58.3,460.9 L58.6,460.6 L58.9,461.6 L59.2,461.5 L59.5,461.6 L59.9,461.0 L60.2,461.1 L60.5,460.9 L60.9,460.9 L61.2,460.0 L61.5,459.7 L61.8,459.7 L62.1,458.8 L62.4,459.1 L62.7,458.6 L63.0,457.2 L63.3,457.8 L63.6,457.4 L63.9,456.9 L64.2,455.7 L64.5,454.9 L64.8,455.4 L65.1,454.5 L65.3,454.1 L65.6,453.8 L65.9,453.4 L66.1,452.8 L66.5,452.5 L66.8,450.4 L67.1,451.1 L67.4,449.9 L67.7,448.9 L68.0,448.2 L68.3,447.8 L68.6,447.0 L68.9,445.2 L69.2,446.2 L69.5,445.6 L69.8,444.8 L70.1,443.1 L70.4,443.4 L70.7,442.9 L71.1,443.0 L71.4,442.6 L71.6,441.2 L71.9,442.0 L72.2,441.2 L72.5,441.4 L72.8,441.1 L73.1,441.1 L73.4,438.9 L73.7,439.7 L74.1,439.9 L74.4,440.3 L74.7,438.5 L75.0,439.3 L75.3,440.1 L75.6,440.0 L76.0,437.7 L76.3,439.6 L76.6,439.3 L76.9,439.8 L77.1,437.8 L77.4,439.6 L77.7,438.8 L78.0,438.4 L78.4,439.1 L78.7,439.8 L79.0,440.3 L79.3,439.5 L79.6,440.9 L79.9,440.4 L80.2,439.6 L80.4,440.1 L80.7,441.4 L81.0,441.9 L81.3,443.1 L81.6,441.8 L82.0,441.7 L82.3,443.4 L82.6,443.8 L82.9,443.0 L83.2,443.1 L83.4,441.8 L83.7,442.0 L84.0,442.7 L84.3,442.3 L84.6,442.2 L84.8,441.4 L85.1,441.2 L85.4,440.9 L85.7,441.6 L86.0,439.8 L86.3,441.3 L86.6,440.8 L87.0,439.8 L87.3,440.6 L87.6,439.3 L87.9,439.8 L88.2,439.6 L88.6,439.9 L88.9,439.4 L89.2,438.8 L89.5,439.9 L89.8,438.0 L90.1,437.5 L90.4,439.1 L90.7,439.1 L91.0,438.4 L91.3,439.0 L91.6,439.1 L91.9,439.8 L92.2,439.9 L92.6,440.4 L92.9,441.0 L93.2,439.6 L93.5,440.1 L93.8,441.6 L94.2,440.2 L94.5,439.6 L94.8,441.6 L95.1,440.3 L95.4,442.4 L95.7,441.6 L96.0,441.3 L96.3,442.6 L96.6,443.0 L96.9,443.4 L97.2,442.8 L97.5,443.5 L97.8,443.3 L98.2,443.2 L98.5,444.2 L98.8,444.1 L99.1,444.8 L99.4,443.9 L99.7,443.9 L100.0,445.1 L100.3,445.5 L100.6,444.8 L100.9,445.4 L101.2,444.7 L101.5,445.1 L101.8,446.0 L102.1,446.3 L102.3,446.1 L102.6,446.3 L102.9,446.8 L103.2,446.8 L103.5,447.3 L103.8,446.8 L104.1,447.4 L104.4,448.1 L104.7,447.3 L105.0,448.0 L105.3,448.1 L105.5,447.7 L105.8,447.0 L106.1,448.1 L106.4,448.2 L106.6,447.7 L106.9,447.2 L107.2,447.4 L107.5,446.9 L107.8,448.8 L108.1,448.2 L108.4,448.6 L108.7,448.7 L109.0,448.9 L109.3,448.5 L109.6,448.3 L110.0,448.7 L110.3,449.8 L110.7,449.6 L111.0,448.9 L111.2,450.1 L111.5,450.5 L111.8,450.6 L112.1,450.4 L112.3,451.2 L112.6,451.7 L112.9,452.1 L113.3,452.3 L113.6,451.8 L113.9,453.0 L114.2,453.1 L114.5,453.5 L114.8,452.9 L115.2,453.2 L115.5,454.7 L115.8,455.0 L116.1,455.2 L116.5,455.7 L116.8,455.6 L117.1,455.1 L117.4,456.4 L117.7,456.3 L118.1,456.9 L118.4,456.5 L118.7,457.6 L119.0,457.5 L119.3,458.4 L119.5,458.4 L119.8,458.9 L120.1,458.7 L120.4,458.7 L120.6,459.3 L121.0,459.2 L121.3,459.1 L121.6,459.6 L121.9,458.9 L122.2,459.9 L122.5,459.7 L122.8,458.8 L123.0,458.8 L123.3,459.4 L123.6,459.7 L123.8,459.5 L124.1,459.3 L124.3,459.3 L124.6,459.1 L124.9,459.1 L125.1,458.3 L125.4,459.2 L125.8,458.3 L126.1,459.0 L126.4,458.1 L126.8,458.3 L127.2,458.4 L127.5,459.1 L127.7,458.6 L128.0,459.6 L128.2,459.5 L128.5,459.8 L128.8,459.9 L129.0,459.1 L129.3,459.9 L129.6,460.2 L129.9,459.5 L130.2,459.8 L130.5,460.2 L130.8,460.7 L131.1,460.9 L131.4,461.1 L131.7,460.8 L132.0,460.5 L132.4,461.0 L132.7,461.6 L133.0,461.8 L133.3,461.3 L133.6,461.5 L134.0,462.0 L134.3,462.1 L134.6,462.6 L134.9,462.7 L135.3,462.1 L135.6,463.1 L135.9,462.6 L136.2,463.3 L136.6,463.0 L136.9,463.6 L137.2,463.8 L137.5,463.5 L137.8,463.3 L138.1,463.9 L138.5,463.6 L138.8,464.0 L139.1,463.9 L139.4,464.3 L139.7,464.1 L140.0,464.4 L140.3,464.7 L140.6,464.9 L141.0,464.6 L141.3,465.2 L141.6,465.1 L141.9,465.4 L142.3,465.0 L142.6,465.4 L142.9,465.2 L143.2,465.7 L143.6,465.7 L143.9,465.7 L144.2,465.8 L144.5,466.1 L144.9,466.3 L145.2,466.1 L145.5,466.4 L145.8,466.3 L146.1,466.6 L146.4,466.4 L146.7,466.5 L147.0,466.8 L147.3,466.5 L147.6,466.8 L147.9,466.5 L148.2,467.0 L148.5,467.0 L148.8,467.1 L149.0,467.0 L149.3,467.3 L149.6,467.2 L149.8,467.4 L150.1,467.4 L150.3,467.4 L150.7,467.5 L151.1,467.6 L151.5,467.7 L151.9,467.8 L152.3,467.9 L152.7,467.9 L153.0,468.0 L153.4,468.0 L153.7,468.1 L154.0,468.1 L154.3,468.2 L154.6,468.2 L154.9,468.3 L155.2,468.3 L155.5,468.3 L155.7,468.4 L156.0,468.4 L156.2,468.4 L156.4,468.4 L156.6,468.5 L156.8,468.5 L156.9,468.5 L156.9,468.5 L156.9,468.5 L156.3,468.5 L155.6,468.5 L154.9,468.5 L154.3,468.5 L153.6,468.5 L153.0,468.5 L152.3,468.5 L151.6,468.5 L151.0,468.5 L150.3,468.5 L149.7,468.5 L149.0,468.5 L148.3,468.5 L147.7,468.5 L147.0,468.5 L146.4,468.5 L145.7,468.5 L145.0,468.5 L144.4,468.5 L143.7,468.5 L143.1,468.5 L142.4,468.5 L141.7,468.5 L141.1,468.5 L140.4,468.5 L139.8,468.5 L139.1,468.5 L138.4,468.5 L137.8,468.5 L137.1,468.5 L136.5,468.5 L135.8,468.5 L135.1,468.5 L134.5,468.5 L133.8,468.5 L133.2,468.5 L132.5,468.5 L131.8,468.5 L131.2,468.5 L130.5,468.5 L129.8,468.5 L129.2,468.5 L128.5,468.5 L127.9,468.5 L127.2,468.5 L126.5,468.5 L125.9,468.5 L125.2,468.5 L124.6,468.5 L123.9,468.5 L123.2,468.5 L122.6,468.5 L121.9,468.5 L121.3,468.5 L120.6,468.5 L119.9,468.5 L119.3,468.5 L118.6,468.5 L118.0,468.5 L117.3,468.5 L116.6,468.5 L116.0,468.5 L115.3,468.5 L114.7,468.5 L114.0,468.5 L113.3,468.5 L112.7,468.5 L112.0,468.5 L111.4,468.5 L110.7,468.5 L110.0,468.5 L109.4,468.5 L108.7,468.5 L108.1,468.5 L107.4,468.5 L106.7,468.5 L106.1,468.5 L105.4,468.5 L104.8,468.5 L104.1,468.5 L103.4,468.5 L102.8,468.5 L102.1,468.5 L101.5,468.5 L100.8,468.5 L100.1,468.5 L99.5,468.5 L98.8,468.5 L98.2,468.5 L97.5,468.5 L96.8,468.5 L96.2,468.5 L95.5,468.5 L94.9,468.5 L94.2,468.5 L93.5,468.5 L92.9,468.5 L92.2,468.5 L91.6,468.5 L90.9,468.5 L90.2,468.5 L89.6,468.5 L88.9,468.5 L88.3,468.4 L87.6,468.4 L86.9,468.4 L86.3,468.4 L85.6,468.4 L84.9,468.4 L84.3,468.4 L83.6,468.4 L83.0,468.4 L82.3,468.4 L81.6,468.3 L81.0,468.3 L80.3,468.3 L79.7,468.3 L79.0,468.3 L78.3,468.2 L77.7,468.2 L77.0,468.2 L76.4,468.1 L75.7,468.1 L75.0,468.1 L74.4,468.0 L73.7,468.0 L73.1,467.9 L72.4,467.9 L71.7,467.8 L71.1,467.7 L70.4,467.7 L69.8,467.6 L69.1,467.5 L68.4,467.4 L67.8,467.3 L67.1,467.1 L66.5,467.0 L65.8,466.8 L65.1,466.7 L64.5,466.5 L63.8,466.3 L63.2,466.1 L62.5,465.8 L61.8,465.6 L61.2,465.3 L60.5,465.0 L59.9,464.6 L59.2,464.2 L58.5,463.8 L57.9,463.3 L57.2,462.8 L56.6,462.2 L55.9,461.6 L55.2,460.9 L54.6,460.1 L53.9,459.3 L53.3,458.4 L52.6,457.4 L51.9,456.2 L51.3,455.0 Z" fill="#ff6a10" fill-opacity="1.0"/>
<path d="M158.57,468.03 L241.11,468.03" stroke="#ff6a10" stroke-width="0.9" stroke-opacity="0.35" fill="none" stroke-dasharray="23.5 0.8 25.0 0.4 26.1 0.5 25.8 0.9 23.6 0.8 23.9 0.6 27.5 0.3 9.9 0.4 10.2 0.7 26.6 0.7 14.8 0.7 19.4 0.9 28.5 0.5 29.6 0.4"/>
<line x1="0.42" y1="529.18" x2="215.49" y2="529.18" stroke="#8a8a8a" stroke-width="1.3" />
<line x1="9.77" y1="529.18" x2="9.77" y2="531.38" stroke="#222" stroke-width="0.9" />
<line x1="28.47" y1="529.18" x2="28.47" y2="532.78" stroke="#222" stroke-width="0.9" />
<text x="28.47" y="544.68" font-size="9.3" text-anchor="middle" font-weight="bold" >2</text>
<line x1="47.18" y1="529.18" x2="47.18" y2="531.38" stroke="#222" stroke-width="0.9" />
<line x1="65.88" y1="529.18" x2="65.88" y2="532.78" stroke="#222" stroke-width="0.9" />
<text x="65.88" y="544.68" font-size="9.3" text-anchor="middle" font-weight="bold" >4</text>
<line x1="84.58" y1="529.18" x2="84.58" y2="531.38" stroke="#222" stroke-width="0.9" />
<line x1="103.28" y1="529.18" x2="103.28" y2="532.78" stroke="#222" stroke-width="0.9" />
<text x="103.28" y="544.68" font-size="9.3" text-anchor="middle" font-weight="bold" >6</text>
<line x1="121.98" y1="529.18" x2="121.98" y2="531.38" stroke="#222" stroke-width="0.9" />
<line x1="140.68" y1="529.18" x2="140.68" y2="532.78" stroke="#222" stroke-width="0.9" />
<text x="140.68" y="544.68" font-size="9.3" text-anchor="middle" font-weight="bold" >8</text>
<line x1="159.38" y1="529.18" x2="159.38" y2="531.38" stroke="#222" stroke-width="0.9" />
<line x1="178.08" y1="529.18" x2="178.08" y2="532.78" stroke="#222" stroke-width="0.9" />
<text x="178.08" y="544.68" font-size="9.3" text-anchor="middle" font-weight="bold" >10</text>
<line x1="196.79" y1="529.18" x2="196.79" y2="531.38" stroke="#222" stroke-width="0.9" />
<line x1="215.49" y1="529.18" x2="215.49" y2="532.78" stroke="#222" stroke-width="0.9" />
<text x="215.49" y="544.68" font-size="9.3" text-anchor="middle" font-weight="bold" >12</text>
<text x="117.89" y="559.98" font-size="9.3" text-anchor="middle" font-weight="bold" >Frequency (GHz)</text>
<line x1="282.54" y1="375.10" x2="215.49" y2="529.18" stroke="#222" stroke-width="1.0" />
<text x="284.55" y="389.02" font-size="9.3" text-anchor="start" font-weight="bold" >-45</text>
<line x1="277.75" y1="386.12" x2="280.35" y2="386.12" stroke="#222" stroke-width="0.9" />
<text x="274.45" y="413.28" font-size="9.3" text-anchor="start" font-weight="bold" >+45</text>
<line x1="267.19" y1="410.38" x2="269.96" y2="410.38" stroke="#222" stroke-width="0.9" />
<text x="262.88" y="441.07" font-size="9.3" text-anchor="start" font-weight="bold" >-25</text>
<line x1="255.09" y1="438.17" x2="258.07" y2="438.17" stroke="#222" stroke-width="0.9" />
<text x="249.50" y="473.20" font-size="9.3" text-anchor="start" font-weight="bold" >+25</text>
<line x1="241.11" y1="470.30" x2="244.32" y2="470.30" stroke="#222" stroke-width="0.9" />
<text x="233.86" y="510.79" font-size="9.3" text-anchor="start" font-weight="bold" >0</text>
<line x1="224.75" y1="507.89" x2="228.23" y2="507.89" stroke="#222" stroke-width="0.9" />
<line x1="272.64" y1="397.85" x2="274.24" y2="397.85" stroke="#222" stroke-width="0.9" />
<line x1="261.35" y1="423.79" x2="262.95" y2="423.79" stroke="#222" stroke-width="0.9" />
<line x1="248.36" y1="453.63" x2="249.96" y2="453.63" stroke="#222" stroke-width="0.9" />
<line x1="233.26" y1="488.33" x2="234.86" y2="488.33" stroke="#222" stroke-width="0.9" />
<line x1="282.54" y1="375.10" x2="282.54" y2="300.10" stroke="#8a8a8a" stroke-width="1.0" />
<line x1="282.54" y1="375.10" x2="285.34" y2="375.10" stroke="#8a8a8a" stroke-width="1.0" />
<text x="289.54" y="376.80" font-size="9.3" text-anchor="start" font-weight="bold" >0</text>
<line x1="282.54" y1="365.73" x2="283.94" y2="365.73" stroke="#8a8a8a" stroke-width="1.0" />
<line x1="282.54" y1="356.35" x2="285.34" y2="356.35" stroke="#8a8a8a" stroke-width="1.0" />
<text x="289.54" y="358.70" font-size="9.3" text-anchor="start" font-weight="bold" >20</text>
<line x1="282.54" y1="346.98" x2="283.94" y2="346.98" stroke="#8a8a8a" stroke-width="1.0" />
<line x1="282.54" y1="337.60" x2="285.34" y2="337.60" stroke="#8a8a8a" stroke-width="1.0" />
<text x="289.54" y="340.60" font-size="9.3" text-anchor="start" font-weight="bold" >40</text>
<line x1="282.54" y1="328.23" x2="283.94" y2="328.23" stroke="#8a8a8a" stroke-width="1.0" />
<line x1="282.54" y1="318.85" x2="285.34" y2="318.85" stroke="#8a8a8a" stroke-width="1.0" />
<text x="289.54" y="322.50" font-size="9.3" text-anchor="start" font-weight="bold" >60</text>
<line x1="282.54" y1="309.48" x2="283.94" y2="309.48" stroke="#8a8a8a" stroke-width="1.0" />
<line x1="282.54" y1="300.10" x2="285.34" y2="300.10" stroke="#8a8a8a" stroke-width="1.0" />
<text x="289.54" y="304.40" font-size="9.3" text-anchor="start" font-weight="bold" >80</text>
<text x="190.20" y="333.40" font-size="9.45" text-anchor="start" font-weight="bold" >Ac : -5 dBm</text>
<text x="190.20" y="346.50" font-size="9.45" text-anchor="start" font-weight="bold" >Tempearture: 10 K</text>
<defs><linearGradient id="redg" gradientUnits="userSpaceOnUse" x1="20.6" y1="0" x2="214.0" y2="0"><stop offset="0" stop-color="#f04040" stop-opacity="0.35"/><stop offset="0.3" stop-color="#f03030" stop-opacity="0.75"/><stop offset="0.5" stop-color="#e81818" stop-opacity="1"/><stop offset="0.65" stop-color="#e81818" stop-opacity="0.85"/><stop offset="0.85" stop-color="#f04040" stop-opacity="0.6"/><stop offset="1" stop-color="#f04040" stop-opacity="0.4"/></linearGradient></defs>
<path d="M20.60,505.81 L214.01,505.81" stroke="url(#redg)" stroke-width="1.2" fill="none" stroke-dasharray="17.1 0.6 22.5 0.6 21.0 0.6 8.1 0.8 28.4 0.8 14.7 0.4 22.2 0.4 21.9 0.6 17.1 0.6 19.0 0.8 22.1 0.9 8.4 0.9 12.1 0.8 26.0 0.8 22.8 0.6 28.5 0.3"/>
<text transform="translate(314.20,47.60) rotate(-90)" font-size="9.4" font-weight="bold" font-style="normal" text-anchor="middle">Impedance (&#937;)</text>
<text transform="translate(285.00,163.20) rotate(-68)" font-size="9.0" font-weight="bold" font-style="italic" text-anchor="middle">Temperature (<tspan font-style='italic'>K</tspan>)</text>
<text transform="translate(683.40,41.50) rotate(-90)" font-size="9.4" font-weight="bold" font-style="normal" text-anchor="middle">Impedance (&#937;)</text>
<text transform="translate(653.00,163.20) rotate(-68)" font-size="9.0" font-weight="bold" font-style="italic" text-anchor="middle">Temperature (<tspan font-style='italic'>K</tspan>)</text>
<text transform="translate(314.20,333.20) rotate(-90)" font-size="9.4" font-weight="bold" font-style="normal" text-anchor="middle">Impedance (&#937;)</text>
<line x1="272.00" y1="337.60" x2="282.54" y2="337.60" stroke="#c4c4c4" stroke-width="0.8" />
<text transform="translate(287.10,451.00) rotate(-68)" font-size="9.0" font-weight="bold" font-style="italic" text-anchor="middle">Dc bias (Volts)</text>
<text x="0.20" y="11.40" font-size="15.4" text-anchor="start" font-weight="bold" >a</text>
<text x="333.50" y="11.40" font-size="15.4" text-anchor="start" font-weight="bold" >b</text>
<text x="0.20" y="301.20" font-size="15.4" text-anchor="start" font-weight="bold" >c</text>
<text x="333.50" y="301.20" font-size="15.4" text-anchor="start" font-weight="bold" >d</text>
<path d="M369.40,302.20 L482.70,302.20 L482.70,513.30" fill="none" stroke="#8c8c8c" stroke-width="1.3"/>
<path d="M369.40,302.20 L369.40,513.30 L482.70,513.30" fill="none" stroke="#111" stroke-width="1.0"/>
<line x1="369.40" y1="513.30" x2="369.40" y2="516.50" stroke="#111" stroke-width="1.0" />
<line x1="426.05" y1="513.30" x2="426.05" y2="516.50" stroke="#111" stroke-width="1.0" />
<line x1="482.70" y1="513.30" x2="482.70" y2="516.50" stroke="#111" stroke-width="1.0" />
<line x1="397.72" y1="513.30" x2="397.72" y2="515.30" stroke="#111" stroke-width="1.0" />
<line x1="454.38" y1="513.30" x2="454.38" y2="515.30" stroke="#111" stroke-width="1.0" />
<line x1="369.40" y1="513.30" x2="366.20" y2="513.30" stroke="#111" stroke-width="1.0" />
<line x1="369.40" y1="442.93" x2="366.20" y2="442.93" stroke="#111" stroke-width="1.0" />
<line x1="369.40" y1="372.57" x2="366.20" y2="372.57" stroke="#111" stroke-width="1.0" />
<line x1="369.40" y1="302.20" x2="366.20" y2="302.20" stroke="#111" stroke-width="1.0" />
<line x1="369.40" y1="478.12" x2="367.40" y2="478.12" stroke="#111" stroke-width="1.0" />
<line x1="369.40" y1="407.75" x2="367.40" y2="407.75" stroke="#111" stroke-width="1.0" />
<line x1="369.40" y1="337.38" x2="367.40" y2="337.38" stroke="#111" stroke-width="1.0" />
<text x="361.60" y="516.60" font-size="9.3" text-anchor="end" font-weight="bold" >0</text>
<text x="361.60" y="446.23" font-size="9.3" text-anchor="end" font-weight="bold" >20</text>
<text x="361.60" y="375.87" font-size="9.3" text-anchor="end" font-weight="bold" >40</text>
<text x="361.60" y="305.50" font-size="9.3" text-anchor="end" font-weight="bold" >60</text>
<text x="369.40" y="529.50" font-size="9.3" text-anchor="middle" font-weight="bold" >3.02</text>
<text x="426.05" y="529.50" font-size="9.3" text-anchor="middle" font-weight="bold" >3.03</text>
<text x="482.70" y="529.50" font-size="9.3" text-anchor="middle" font-weight="bold" >3.04</text>
<text x="425.55" y="544.80" font-size="9.3" text-anchor="middle" font-weight="bold" >Frequency (GHz)</text>
<text transform="translate(342.00,407.50) rotate(-90)" font-size="9.4" font-weight="bold" font-style="normal" text-anchor="middle">Impedance (&#937;)</text>
<polyline points="369.30,502.04 369.58,502.08 369.89,502.11 370.25,502.15 370.64,502.20 371.06,502.24 371.51,502.29 371.99,502.35 372.49,502.40 373.01,502.46 373.56,502.52 374.12,502.58 374.70,502.64 375.29,502.70 375.89,502.77 376.50,502.84 377.12,502.91 377.74,502.98 378.36,503.05 378.97,503.13 379.58,503.20 380.19,503.28 380.79,503.36 381.37,503.43 381.94,503.51 382.49,503.59 383.03,503.67 383.54,503.75 384.03,503.83 384.49,503.91 384.93,503.99 385.33,504.07 385.70,504.15 386.58,504.37 387.35,504.61 388.03,504.85 388.63,505.11 389.15,505.37 389.62,505.64 390.04,505.90 390.41,506.17 390.77,506.42 391.11,506.68 391.45,506.92 391.80,507.14 392.71,507.80 393.36,508.42 393.86,508.97 394.30,509.43 394.93,510.49 395.40,510.31 396.03,511.42 396.60,502.74 397.00,468.06 397.30,425.34 397.52,380.13 397.70,353.57 397.84,381.67 398.00,425.34 398.22,455.56 398.50,478.12 398.86,486.34 399.30,488.67 399.74,491.88 400.40,494.30 400.82,495.27 401.33,496.19 401.88,497.05 402.45,497.84 403.00,498.52 403.55,499.14 404.13,499.69 404.70,500.14 405.24,500.47 405.70,500.63 406.30,500.45 406.76,499.88 407.20,499.23 407.84,497.97 408.50,497.12 409.03,497.45 409.60,498.22 410.20,498.87 410.53,499.09 410.79,499.20 411.26,499.33 412.20,499.58 412.53,499.67 412.90,499.78 413.30,499.91 413.72,500.04 414.17,500.18 414.64,500.33 415.14,500.48 415.66,500.63 416.19,500.79 416.75,500.94 417.33,501.09 417.92,501.23 418.52,501.36 419.14,501.48 419.76,501.59 420.40,501.69 420.83,501.74 421.28,501.79 421.74,501.84 422.21,501.88 422.70,501.91 423.19,501.94 423.69,501.97 424.20,501.99 424.72,502.01 425.24,502.03 425.77,502.05 426.30,502.06 426.84,502.08 427.37,502.10 427.91,502.11 428.46,502.13 429.00,502.15 429.54,502.18 430.07,502.20 430.61,502.23 431.14,502.26 431.67,502.30 432.19,502.34 432.70,502.39 433.21,502.45 433.73,502.50 434.24,502.56 434.76,502.62 435.28,502.68 435.80,502.74 436.33,502.80 436.85,502.87 437.37,502.94 437.89,503.01 438.41,503.08 438.93,503.15 439.45,503.23 439.96,503.30 440.48,503.38 440.99,503.46 441.49,503.54 441.99,503.63 442.49,503.71 442.98,503.80 443.47,503.88 443.95,503.97 444.43,504.06 444.90,504.15 445.46,504.26 446.04,504.38 446.62,504.50 447.20,504.62 447.78,504.75 448.36,504.88 448.94,505.01 449.51,505.14 450.08,505.28 450.63,505.42 451.17,505.55 451.70,505.69 452.21,505.83 452.70,505.97 453.17,506.11 453.61,506.25 454.03,506.39 454.42,506.52 454.78,506.66 455.10,506.79 456.22,507.49 456.73,508.22 456.94,508.89 457.20,509.43 457.74,510.51 458.20,510.31 458.88,511.42 459.60,502.74 460.31,468.01 460.90,425.34 461.16,380.53 461.30,354.27 461.44,382.07 461.60,425.34 461.82,455.40 462.10,478.12 462.46,487.31 462.90,490.43 463.31,492.96 464.00,494.65 464.39,495.59 464.87,496.67 465.39,497.80 465.94,498.85 466.49,499.71 467.00,500.28 467.59,500.52 468.19,500.39 468.77,500.05 469.31,499.61 469.80,499.23 470.44,498.46 470.95,497.57 471.50,497.12 472.14,497.45 472.81,498.22 473.50,498.87 473.90,499.09 474.23,499.20 474.72,499.33 475.60,499.58 475.97,499.69 476.41,499.82 476.92,499.98 477.47,500.14 478.06,500.32 478.67,500.50 479.28,500.68 479.89,500.86 480.48,501.03 481.04,501.20 481.56,501.35 482.01,501.49 482.40,501.60 482.70,501.69" fill="none" stroke="#1f9a1f" stroke-width="1.3" stroke-linejoin="round"/>
<text x="370.90" y="311.60" font-size="9.3" text-anchor="start" font-weight="bold" >AC : -5 dBm</text>
<text x="370.90" y="322.10" font-size="9.3" text-anchor="start" font-weight="bold" >DC Bias: -45 V</text>
<text transform="translate(392.30,372.00) rotate(-90)" font-size="9.3" font-weight="bold" font-style="normal" text-anchor="end"><tspan font-style='italic'>Q</tspan> factor ~ 49,000</text>
<text transform="translate(456.50,373.50) rotate(-90)" font-size="9.3" font-weight="bold" font-style="normal" text-anchor="end"><tspan font-style='italic'>Q</tspan> factor ~ 48,000</text>
<path d="M541.60,301.80 L655.00,301.80 L655.00,513.30" fill="none" stroke="#8c8c8c" stroke-width="1.3"/>
<path d="M541.60,301.80 L541.60,513.30 L655.00,513.30" fill="none" stroke="#111" stroke-width="1.0"/>
<line x1="587.07" y1="513.30" x2="587.07" y2="516.50" stroke="#111" stroke-width="1.0" />
<line x1="643.21" y1="513.30" x2="643.21" y2="516.50" stroke="#111" stroke-width="1.0" />
<line x1="559.00" y1="513.30" x2="559.00" y2="515.30" stroke="#111" stroke-width="1.0" />
<line x1="615.14" y1="513.30" x2="615.14" y2="515.30" stroke="#111" stroke-width="1.0" />
<line x1="541.60" y1="513.30" x2="538.40" y2="513.30" stroke="#111" stroke-width="1.0" />
<line x1="541.60" y1="442.80" x2="538.40" y2="442.80" stroke="#111" stroke-width="1.0" />
<line x1="541.60" y1="372.30" x2="538.40" y2="372.30" stroke="#111" stroke-width="1.0" />
<line x1="541.60" y1="301.80" x2="538.40" y2="301.80" stroke="#111" stroke-width="1.0" />
<line x1="541.60" y1="478.05" x2="539.60" y2="478.05" stroke="#111" stroke-width="1.0" />
<line x1="541.60" y1="407.55" x2="539.60" y2="407.55" stroke="#111" stroke-width="1.0" />
<line x1="541.60" y1="337.05" x2="539.60" y2="337.05" stroke="#111" stroke-width="1.0" />
<text x="533.80" y="516.60" font-size="9.3" text-anchor="end" font-weight="bold" >0</text>
<text x="533.80" y="446.10" font-size="9.3" text-anchor="end" font-weight="bold" >5</text>
<text x="533.80" y="375.60" font-size="9.3" text-anchor="end" font-weight="bold" >10</text>
<text x="533.80" y="305.10" font-size="9.3" text-anchor="end" font-weight="bold" >15</text>
<text x="587.07" y="529.50" font-size="9.3" text-anchor="middle" font-weight="bold" >8.03</text>
<text x="643.21" y="529.50" font-size="9.3" text-anchor="middle" font-weight="bold" >8.04</text>
<text x="597.80" y="544.80" font-size="9.3" text-anchor="middle" font-weight="bold" >Frequency (GHz)</text>
<text transform="translate(514.50,407.50) rotate(-90)" font-size="9.4" font-weight="bold" font-style="normal" text-anchor="middle">Impedance (&#937;)</text>
<polyline points="541.60,489.89 541.89,489.94 542.23,490.00 542.62,490.07 543.05,490.15 543.52,490.23 544.02,490.32 544.55,490.41 545.11,490.51 545.68,490.61 546.28,490.71 546.88,490.81 547.49,490.92 548.11,491.03 548.72,491.13 549.33,491.24 549.92,491.34 550.50,491.44 550.97,491.53 551.47,491.62 551.99,491.72 552.53,491.82 553.08,491.92 553.64,492.03 554.20,492.14 554.77,492.25 555.34,492.36 555.91,492.47 556.47,492.57 557.02,492.67 557.56,492.77 558.09,492.87 558.59,492.95 559.07,493.03 559.52,493.10 559.94,493.16 560.33,493.21 560.69,493.25 561.00,493.28 562.18,493.04 562.40,492.48 562.80,492.29 563.22,492.45 563.70,492.73 564.23,493.08 564.77,493.48 565.32,493.88 565.83,494.25 566.30,494.55 566.89,494.92 567.44,495.29 567.96,495.60 568.45,495.79 568.90,495.82 569.57,495.13 570.15,494.07 570.70,493.70 571.49,495.38 572.20,497.79 572.77,500.98 573.30,501.60 573.93,498.87 574.50,485.10 574.90,446.11 575.20,400.50 575.42,356.11 575.60,330.99 575.74,357.43 575.90,400.50 576.18,435.58 576.50,463.95 576.83,476.27 577.20,479.74 577.67,477.68 578.20,472.41 578.79,466.58 579.40,462.54 579.93,464.92 580.50,469.59 581.10,473.82 582.00,478.05 582.48,479.38 583.06,480.73 583.69,482.04 584.33,483.25 584.95,484.29 585.50,485.10 586.07,485.71 586.60,486.01 587.08,486.09 587.55,486.09 588.00,486.09 588.54,486.01 589.03,485.79 589.51,485.57 590.00,485.52 590.41,485.69 590.76,486.00 591.23,486.38 592.00,486.79 592.36,486.95 592.74,487.11 593.13,487.29 593.56,487.47 594.02,487.66 594.52,487.85 595.06,488.04 595.65,488.23 596.30,488.41 597.02,488.59 597.80,488.77 598.18,488.84 598.59,488.91 599.01,488.99 599.44,489.06 599.89,489.12 600.36,489.19 600.83,489.26 601.32,489.32 601.82,489.39 602.33,489.46 602.85,489.52 603.38,489.59 603.92,489.65 604.46,489.72 605.00,489.78 605.56,489.85 606.11,489.92 606.67,489.99 607.22,490.06 607.78,490.14 608.34,490.21 608.90,490.29 609.45,490.37 610.00,490.46 610.48,490.53 610.98,490.62 611.49,490.70 612.02,490.79 612.57,490.89 613.12,490.99 613.68,491.09 614.25,491.19 614.83,491.29 615.40,491.40 615.98,491.51 616.56,491.61 617.14,491.72 617.71,491.82 618.27,491.93 618.83,492.03 619.37,492.13 619.90,492.22 620.42,492.31 620.92,492.40 621.40,492.48 621.86,492.55 622.30,492.62 622.72,492.68 623.11,492.74 623.47,492.79 623.80,492.83 624.10,492.85 625.57,492.68 625.66,492.12 625.80,491.87 626.29,492.09 626.81,492.51 627.38,493.03 628.00,493.56 628.47,493.95 628.99,494.41 629.53,494.89 630.07,495.33 630.60,495.65 631.10,495.82 631.67,495.67 632.23,495.23 632.76,494.70 633.26,494.31 633.70,494.26 634.29,495.05 634.76,496.41 635.20,497.79 635.81,500.94 636.40,501.60 637.12,498.87 637.80,485.10 638.31,445.90 638.70,400.50 638.94,358.01 639.10,334.37 639.24,359.16 639.40,400.50 639.68,436.90 640.00,466.77 640.32,478.33 640.70,480.59 641.23,477.94 641.80,472.41 642.30,466.75 642.80,463.10 643.34,465.99 643.90,471.00 644.35,474.97 645.10,478.75 645.47,479.78 645.91,480.81 646.39,481.82 646.92,482.78 647.47,483.67 648.03,484.45 648.60,485.10 649.12,485.55 649.69,485.90 650.29,486.17 650.89,486.37 651.49,486.52 652.05,486.63 652.56,486.71 653.00,486.79 653.72,486.83 654.27,486.69 654.70,486.49 655.00,486.37" fill="none" stroke="#1f9a1f" stroke-width="1.3" stroke-linejoin="round"/>
<text x="543.10" y="311.20" font-size="9.3" text-anchor="start" font-weight="bold" >AC : -5 dBm</text>
<text x="543.10" y="321.70" font-size="9.3" text-anchor="start" font-weight="bold" >DC Bias: -45 V</text>
<text transform="translate(570.00,374.50) rotate(-90)" font-size="9.3" font-weight="bold" font-style="normal" text-anchor="end"><tspan font-style='italic'>Q</tspan> factor ~ 133,000</text>
<text transform="translate(631.00,374.50) rotate(-90)" font-size="9.3" font-weight="bold" font-style="normal" text-anchor="end"><tspan font-style='italic'>Q</tspan> factor ~ 120,000</text>
</svg></body></html>
